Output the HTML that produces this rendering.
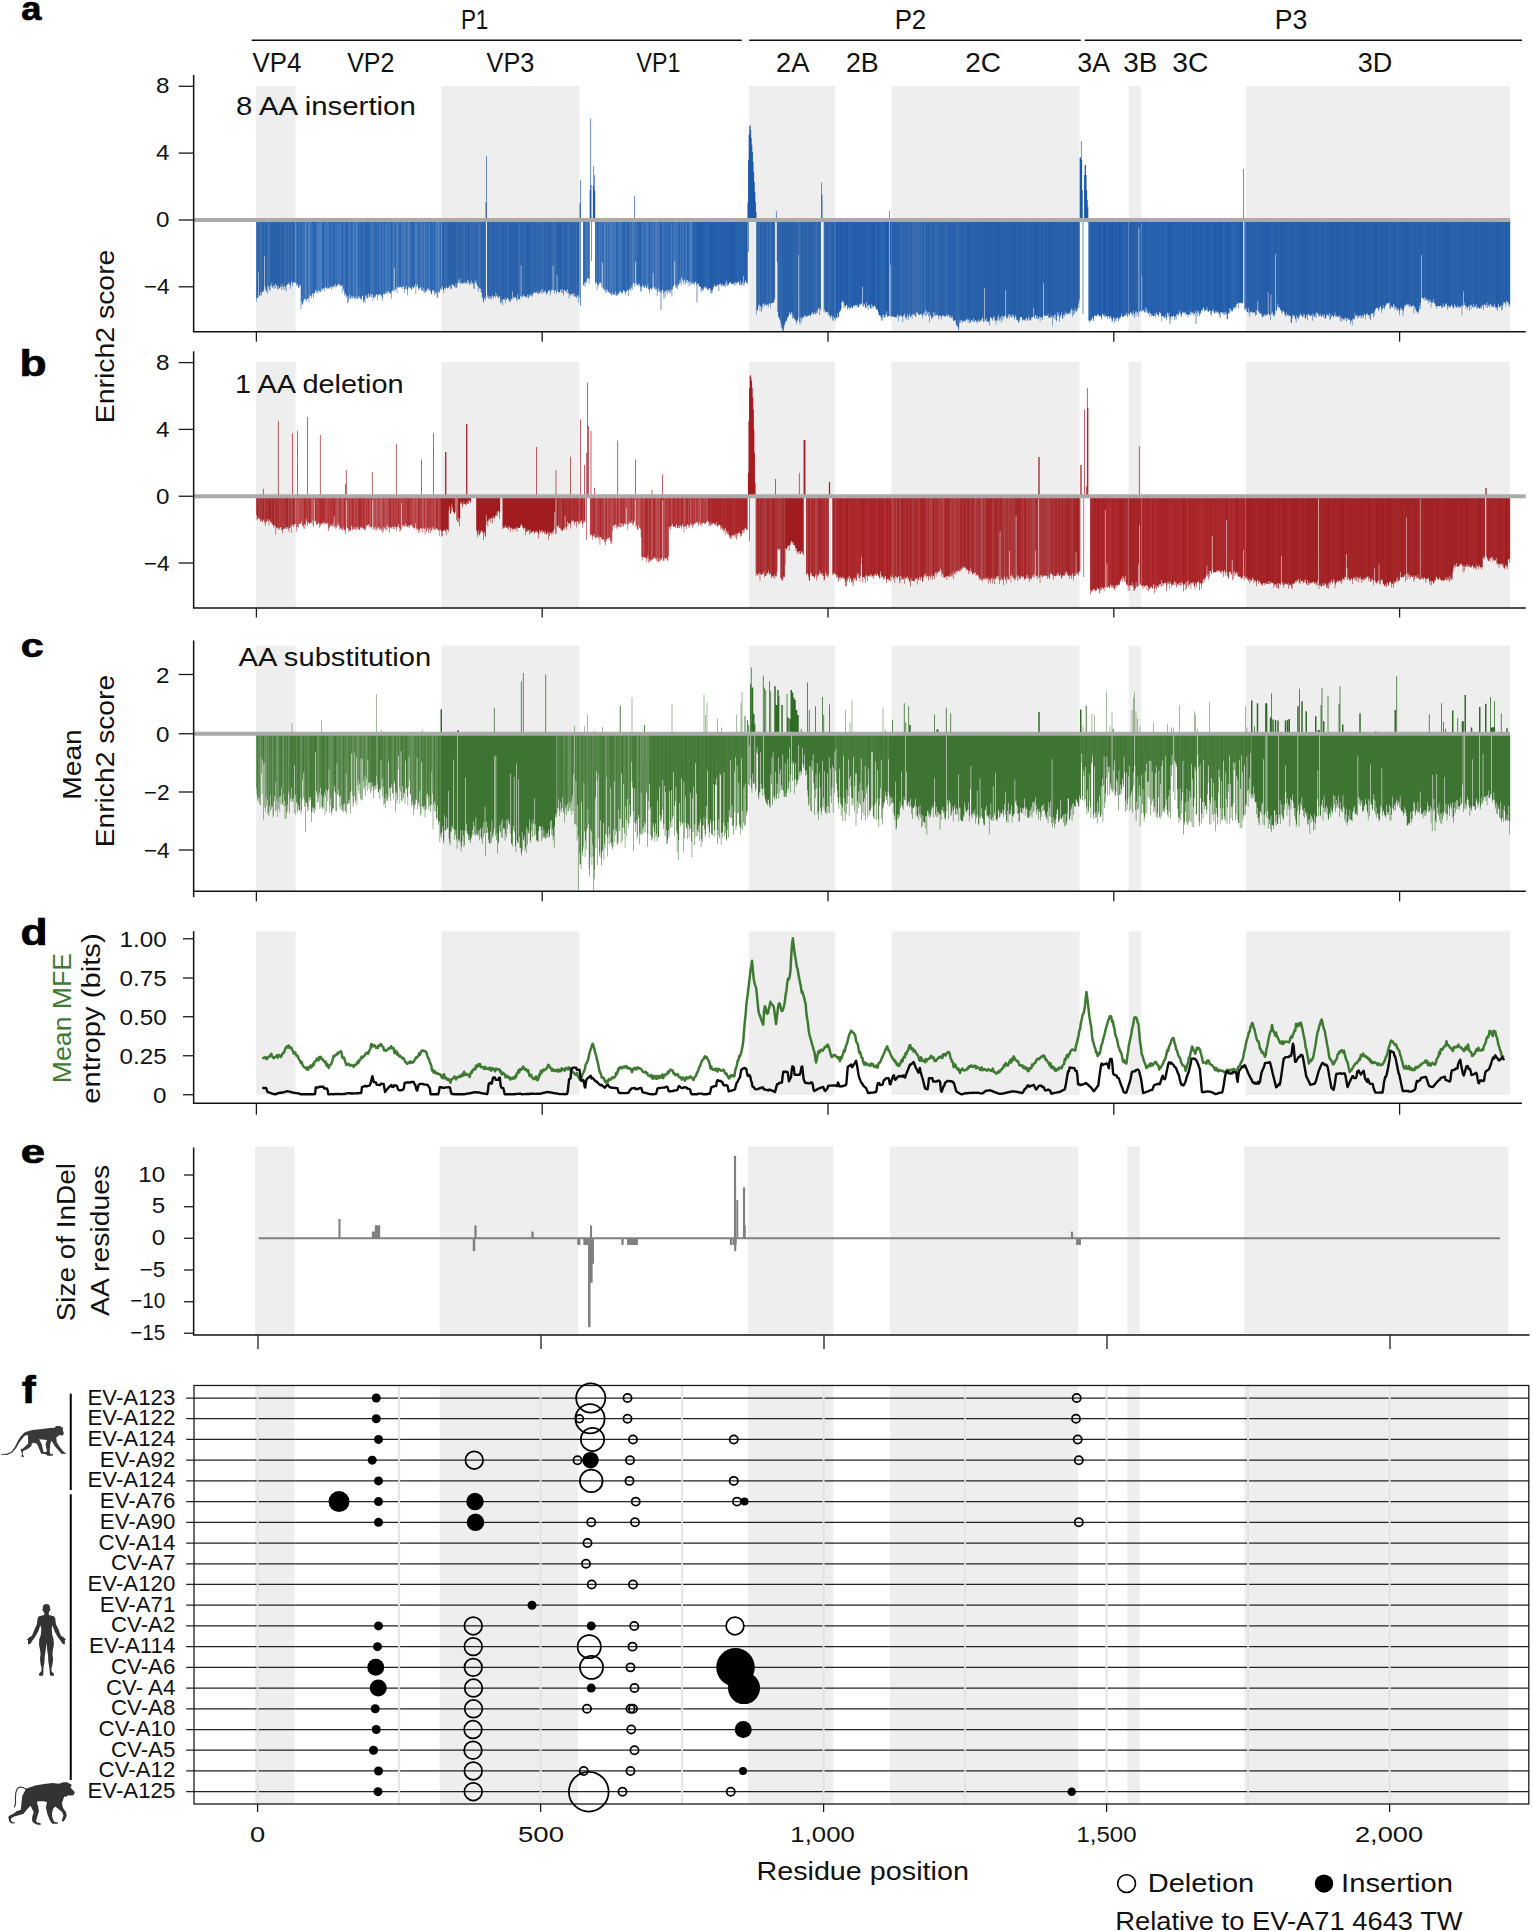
<!DOCTYPE html>
<html lang="en"><head><meta charset="utf-8"><title>Figure</title>
<style>html,body{margin:0;padding:0;background:#fff}svg{display:block}</style></head>
<body>
<svg width="1532" height="1931" viewBox="0 0 1532 1931" font-family="'Liberation Sans', Arial, sans-serif">
<rect width="1532" height="1931" fill="#fff"/>
<line x1="251.7" y1="40.3" x2="741.7" y2="40.3" stroke="#111" stroke-width="1.4" />
<line x1="749.2" y1="40.3" x2="1080.7" y2="40.3" stroke="#111" stroke-width="1.4" />
<line x1="1084.8" y1="40.3" x2="1522" y2="40.3" stroke="#111" stroke-width="1.4" />
<text x="460.9" y="29.3" font-size="27.2" text-anchor="start" fill="#111" textLength="27.48" lengthAdjust="spacingAndGlyphs" >P1</text>
<text x="894.63" y="29.3" font-size="27.2" text-anchor="start" fill="#111" textLength="31.61" lengthAdjust="spacingAndGlyphs" >P2</text>
<text x="1274.87" y="29.3" font-size="27.2" text-anchor="start" fill="#111" textLength="32.58" lengthAdjust="spacingAndGlyphs" >P3</text>
<text x="252.57" y="71.7" font-size="27.2" text-anchor="start" fill="#111" textLength="48.78" lengthAdjust="spacingAndGlyphs" >VP4</text>
<text x="347.18" y="71.7" font-size="27.2" text-anchor="start" fill="#111" textLength="47.26" lengthAdjust="spacingAndGlyphs" >VP2</text>
<text x="486.57" y="71.7" font-size="27.2" text-anchor="start" fill="#111" textLength="47.74" lengthAdjust="spacingAndGlyphs" >VP3</text>
<text x="636.58" y="71.7" font-size="27.2" text-anchor="start" fill="#111" textLength="43.76" lengthAdjust="spacingAndGlyphs" >VP1</text>
<text x="775.93" y="71.7" font-size="27.2" text-anchor="start" fill="#111" textLength="33.46" lengthAdjust="spacingAndGlyphs" >2A</text>
<text x="845.96" y="71.7" font-size="27.2" text-anchor="start" fill="#111" textLength="32.76" lengthAdjust="spacingAndGlyphs" >2B</text>
<text x="965.3" y="71.7" font-size="27.2" text-anchor="start" fill="#111" textLength="35.77" lengthAdjust="spacingAndGlyphs" >2C</text>
<text x="1077.36" y="71.7" font-size="27.2" text-anchor="start" fill="#111" textLength="32.72" lengthAdjust="spacingAndGlyphs" >3A</text>
<text x="1123.32" y="71.7" font-size="27.2" text-anchor="start" fill="#111" textLength="34.16" lengthAdjust="spacingAndGlyphs" >3B</text>
<text x="1172.31" y="71.7" font-size="27.2" text-anchor="start" fill="#111" textLength="36.07" lengthAdjust="spacingAndGlyphs" >3C</text>
<text x="1357.75" y="71.7" font-size="27.2" text-anchor="start" fill="#111" textLength="34.55" lengthAdjust="spacingAndGlyphs" >3D</text>
<text x="21.21" y="20.4" font-size="33.5" text-anchor="start" fill="#000" textLength="20.17" lengthAdjust="spacingAndGlyphs" font-weight="bold" stroke="#000" stroke-width="0.7">a</text>
<text x="19.42" y="376" font-size="36" text-anchor="start" fill="#000" textLength="27.1" lengthAdjust="spacingAndGlyphs" font-weight="bold" stroke="#000" stroke-width="0.7">b</text>
<text x="20.86" y="657.4" font-size="33" text-anchor="start" fill="#000" textLength="22.92" lengthAdjust="spacingAndGlyphs" font-weight="bold" stroke="#000" stroke-width="0.7">c</text>
<text x="20.53" y="945" font-size="36" text-anchor="start" fill="#000" textLength="27.1" lengthAdjust="spacingAndGlyphs" font-weight="bold" stroke="#000" stroke-width="0.7">d</text>
<text x="20.77" y="1162.6" font-size="33.5" text-anchor="start" fill="#000" textLength="24.29" lengthAdjust="spacingAndGlyphs" font-weight="bold" stroke="#000" stroke-width="0.7">e</text>
<text x="21.67" y="1402.5" font-size="39.5" text-anchor="start" fill="#000" textLength="13.95" lengthAdjust="spacingAndGlyphs" font-weight="bold" stroke="#000" stroke-width="0.7">f</text>
<rect x="256.1" y="86" width="39.54" height="245.7" fill="#eeeeee"/>
<rect x="441.6" y="86" width="137.76" height="245.7" fill="#eeeeee"/>
<rect x="749.12" y="86" width="85.74" height="245.7" fill="#eeeeee"/>
<rect x="891.45" y="86" width="188.06" height="245.7" fill="#eeeeee"/>
<rect x="1128.66" y="86" width="12.58" height="245.7" fill="#eeeeee"/>
<rect x="1245.84" y="86" width="264.08" height="245.7" fill="#eeeeee"/>
<path d="M295.55 220V282.2H296.13V286.3H296.7V283.7H297.27V284.4H297.84V286.9H298.41V288.1H298.98V287.4H299.56V284.9H300.13V285.2H300.7V309.2H301.27V301.5H301.84V304.8H302.41V304.3H302.99V302.3H303.56V299.5H304.7V298.6H305.27V299H305.84V301.2H306.41V300.7H306.99V298.9H307.56V298.5H308.13V298.2H308.7V302.6H309.27V296.4H309.84V295H310.42V295.7H310.99V298.4H311.56V295.9H312.13V293.7H312.7V293H313.27V297.9H313.85V293.3H314.42V292.9H314.99V289.8H315.56V292.1H316.13V290.6H316.7V293.6H317.28V291.2H317.85V293.2H318.42V290.2H318.99V290.7H319.56V291.4H320.13V292.2H320.7V291.6H321.28V288.6H321.85V290.3H322.42V289.4H322.99V288.6H323.56V288H324.13V291H324.71V287.5H325.28V286.8H325.85V288.7H326.42V287.9H326.99V287.5H327.56V289H328.14V288.5H328.71V287.8H329.28V288.5H329.85V287.6H330.42V286.4H330.99V290H331.57V286.4H332.14V287.6H332.71V285.7H333.28V286.9H333.85V287.4H334.42V285.5H335V284.3H335.57V287.4H336.14V285.8H336.71V287.3H337.28V285.5H337.85V284H338.42V283.8H339V285H339.57V285.4H340.14V285.2H340.71V286.7H341.28V285.1H341.85V293.2H342.43V285.5H343V289H343.57V290.7H344.14V295.7H344.71V292.8H345.28V294.6H345.86V295.5H346.43V297.8H347V302.9H347.57V296H348.14V302.5H348.71V299.8H349.28V294.8H349.86V297.7H350.43V298.7H351V295.8H351.57V298.3H352.14V298.5H352.71V296.3H353.29V296.5H353.86V298.3H354.43V297.9H355V299.4H355.57V296.3H356.14V297.6H356.72V298.9H357.29V298.4H357.86V295.6H358.43V298.6H359V296.7H359.57V298.1H360.15V298.5H360.72V300.3H361.29V298.9H361.86V295.7H362.43V296.3H363V302.4H363.57V301.5H364.15V299.7H364.72V303.2H365.29V296H365.86V298.5H366.43V294.9H367V297.4H367.58V299H368.15V293.2H368.72V296.7H369.29V296.9H369.86V296.2H370.43V293.7H371.01V297.7H371.58V294.2H372.15V294.6H372.72V301.3H373.29V297.6H373.86V296.8H374.44V297.7H375.01V295.5H375.58V297.3H376.15V293.9H376.72V294.9H377.29V300.2H377.86V294.3H378.44V295.8H379.01V294.4H379.58V294.6H380.15V295.2H380.72V294.6H381.29V295.7H381.87V301.1H382.44V297.9H383.01V294.3H383.58V293.6H384.15V294.7H384.72V292.8H385.3V293.9H385.87V291.1H386.44V294.1H387.01V293.2H387.58V291.5H388.15V291.2H388.73V293.8H389.3V292.3H389.87V292.9H390.44V293.7H391.01V298.8H391.58V291.1H392.15V290.3H392.73V291.4H393.3V290.1H393.87V268.1H394.44V291.6H395.01V289.3H395.58V290.1H396.16V286.9H396.73V293.1H397.3V287.8H397.87V288.2H398.44V286.2H399.01V287.2H399.59V286.9H400.16V286.7H400.73V287.6H401.3V287.3H401.87V289.1H402.44V286.7H403.02V285.7H403.59V287.3H404.16V292.9H404.73V289.5H405.3V288.9H405.87V285.4H406.44V288.7H407.02V295.2H407.59V289.9H408.16V286.9H408.73V288.2H409.3V286.7H409.87V288.5H410.45V287.8H411.02V289.5H411.59V289.7H412.16V286.2H412.73V288.1H413.3V288.6H413.88V286.4H414.45V287H415.02V284H415.59V294.1H416.16V286.9H416.73V284.4H417.31V285.3H417.88V288H418.45V290.2H419.02V288.6H419.59V289.6H420.16V287.4H420.74V287H421.31V290.7H421.88V290.5H422.45V289.9H423.02V291.8H423.59V287.8H424.16V293.3H424.74V291H425.31V292.3H425.88V289.9H426.45V292.1H427.02V288.5H427.59V290.1H428.17V289.6H428.74V287.9H429.31V290.6H429.88V292H430.45V290.5H431.02V294.4H431.6V293.7H432.17V290.2H432.74V290.1H433.31V291.6H433.88V290.7H434.45V295.2H435.02V293.7H435.6V292.5H436.17V292.8H436.74V298.3H437.31V297.2H437.88V291.4H438.45V292.4H439.03V292.9H439.6V291.3H440.17V288.9H440.74V287.7H441.31V220ZM583.07 220V284.9H583.64V286.1H584.21V282.4H584.78V286.5H585.36V282.3H585.93V282.7H586.5V280.4H587.07V278.4H587.64V278.8H588.21V277.7H588.79V284H589.36V279H589.93V220ZM595.07 220V284.3H595.64V282.2H596.22V281.9H596.79V290H597.36V284.4H597.93V286.7H598.5V283.8H599.07V284.1H599.65V282.6H600.22V282.5H600.79V283.3H601.36V286.7H601.93V262.6H602.5V288.6H603.08V289.5H603.65V287.5H604.22V290.8H604.79V289.3H605.36V292.9H605.93V289.8H606.5V292H607.08V289.5H607.65V292.4H608.22V291.5H608.79V292H609.36V293.6H609.93V293.5H610.51V293.4H611.08V294.6H611.65V295.5H612.22V292.3H612.79V294.8H613.36V294.5H613.94V294.6H614.51V294.2H615.08V291.5H615.65V295.8H616.79V293.4H617.37V295.4H617.94V293.5H618.51V294.7H619.08V291.8H619.65V292.3H620.22V290.9H620.79V292.5H621.37V293.8H621.94V292.5H622.51V293.2H623.08V290.1H623.65V290.4H624.22V291.2H624.8V292.8H625.37V295.2H625.94V290.9H626.51V292H627.08V290.3H627.65V290H628.23V296.3H628.8V288.7H629.37V289.4H629.94V291.1H630.51V288.2H631.08V288.5H631.66V285.9H632.23V289.4H632.8V282.4H633.37V283.4H633.94V283.3H634.51V286.9H635.08V262H635.66V284.4H636.23V283.3H636.8V285.3H637.37V285.1H637.94V286.6H638.51V283.4H639.09V284H639.66V286.3H640.23V291.6H640.8V286.8H641.37V291.6H641.94V284.7H642.52V287H643.09V285.5H643.66V287.4H644.23V288.1H644.8V286.6H645.37V285.6H645.95V288.8H646.52V288.1H647.09V286.7H647.66V284.1H648.23V289.1H648.8V290.2H649.37V293.6H649.95V288.3H650.52V288.7H651.09V288.8H651.66V290.4H652.23V287.4H652.8V273H653.38V287.4H653.95V289H654.52V286.7H655.09V289.7H655.66V288.4H656.23V289.2H656.81V296H657.38V291.4H657.95V287.3H658.52V291.6H659.09V291.8H659.66V290.1H660.24V292.6H660.81V290.8H661.38V292.5H661.95V289.7H663.09V293.2H663.66V299H664.24V291.6H664.81V297.3H665.38V291.2H665.95V289.9H666.52V292H667.09V294.7H667.67V289.8H668.24V291.7H668.81V289.7H669.38V292.7H669.95V293.5H670.52V289.4H671.1V290.2H671.67V296.5H672.24V289.2H672.81V286.5H673.38V286H673.95V284.4H674.53V261.6H675.1V285.6H675.67V288H676.24V287.5H676.81V284.7H677.38V289.2H677.96V285.7H678.53V284H679.1V283.7H679.67V279.6H680.24V282.7H680.81V285.4H681.38V277H681.96V279.6H682.53V281.3H683.1V284.1H683.67V280.5H684.24V279.2H684.81V284.7H685.39V282H685.96V283H686.53V279.8H687.1V279.9H687.67V283.7H688.24V281.5H688.82V286.7H689.39V281.5H689.96V284.7H690.53V281.7H691.1V284H691.67V283.6H692.25V283.4H692.82V281.6H693.39V283.9H693.96V285.1H694.53V282.8H695.1V282.1H695.67V281.5H696.25V285.4H696.82V282.9H697.39V284H697.96V284.9H698.53V283.3H699.1V286.8H699.68V286.7H700.25V286.4H700.82V292H701.39V289.1H701.96V288.4H702.53V290.7H703.11V289.9H703.68V287.4H704.82V286H705.39V288.7H705.96V287.5H706.53V288.5H707.11V289.7H707.68V288.7H708.25V290.2H708.82V289.4H709.39V288.1H709.96V288.2H710.54V293.2H711.11V290.6H711.68V293.7H712.25V290.4H712.82V288.7H713.39V287.1H713.97V285.8H714.54V284.2H715.11V287H715.68V286.7H716.25V286.1H716.82V284.9H717.4V285.8H717.97V284.5H718.54V291.1H719.11V284.2H719.68V283.8H720.25V283.4H720.82V286.4H721.4V284.8H721.97V283.4H722.54V285.8H723.11V285.6H723.68V286H724.25V284.4H724.83V287.2H725.4V282.8H725.97V285.2H726.54V280.6H727.11V285.9H727.68V283.2H728.26V285.3H728.83V283.7H729.4V282.5H729.97V281.9H730.54V282.7H731.11V284.1H731.69V284.3H732.26V284.1H732.83V283.1H733.4V283.7H733.97V285.4H734.54V281.7H735.11V282.7H735.69V285H736.26V283.2H736.83V281.7H737.4V283.1H737.97V281.2H738.54V282.3H739.12V284.5H739.69V285.2H740.26V280.2H740.83V283.8H741.4V285.7H741.97V281.9H742.55V284.7H743.12V276.1H743.69V285.9H744.26V283H744.83V282.3H745.4V279.8H745.98V282.8H746.55V282.2H747.12V284H747.69V220ZM835.14 220V320.8H835.72V316.9H836.29V317.8H836.86V318.3H837.43V313.1H838V317.6H838.57V316.1H839.15V312.3H839.72V310.9H840.29V310.5H840.86V308.6H841.43V302.3H842V302.4H842.58V300.8H843.15V302H843.72V308.6H844.29V304.8H844.86V306.4H846.01V305.1H846.58V304.8H847.15V309.4H847.72V307.6H848.29V308H848.86V306.4H849.43V309.5H850.01V307.8H850.58V308H851.15V306.4H851.72V308H852.29V308.3H852.86V305.8H853.44V306H854.01V306.8H854.58V305.1H855.15V305H855.72V305.7H856.29V304.9H856.87V307.3H857.44V304.8H858.01V306.9H858.58V307.4H859.15V304.1H859.72V305.4H860.3V304.5H860.87V303H861.44V303.9H862.01V287H862.58V305.5H863.15V306.8H863.73V303.6H864.3V304.6H864.87V308.2H865.44V307.5H866.01V302.2H866.58V307.8H867.15V305.7H867.73V310.1H868.3V304.8H868.87V304.6H869.44V306.3H870.01V308.3H870.58V308.7H871.16V304H871.73V308.6H872.3V305.5H872.87V306.7H873.44V306.6H874.01V305.5H874.59V306.2H875.16V307.1H875.73V308.5H876.3V309.8H876.87V310.2H877.44V309.3H878.01V312.3H878.59V315H879.16V315.5H880.3V316.6H880.87V320.6H881.44V317.9H882.02V320.8H882.59V315H883.16V314.7H883.73V317.3H884.3V317.8H884.87V317.1H885.45V314.3H886.02V315.1H886.59V311.2H887.16V316.9H887.73V316.2H889.45V220ZM890.02 220V316.1H890.59V265H891.16V220ZM1088.36 220V320.6H1088.94V322.8H1089.51V320.2H1090.08V321H1090.65V320.4H1091.22V320.2H1091.79V318.3H1092.37V316.8H1092.94V321H1093.51V319H1094.08V315.7H1094.65V314.9H1095.22V316H1095.79V315.9H1096.37V316.4H1096.94V314.7H1097.51V314.1H1098.08V314.8H1098.65V315.7H1099.22V316.6H1099.8V315.4H1100.37V315.9H1100.94V317.6H1101.51V319.7H1102.08V313.8H1102.65V315H1103.23V315.7H1103.8V313.2H1104.37V317.1H1104.94V315.2H1105.51V317H1106.08V316.5H1106.66V315.9H1107.23V319H1107.8V316.1H1108.37V316H1108.94V317.6H1109.51V318.6H1110.08V317.2H1110.66V315.8H1111.23V318.7H1111.8V322.1H1112.37V320.8H1112.94V317.3H1113.51V318.4H1114.09V322.7H1114.66V317H1115.23V319.3H1115.8V321H1116.37V318H1116.94V318.2H1117.52V317.4H1118.09V321H1118.66V317.7H1119.23V319.2H1119.8V316.7H1120.37V317.7H1120.95V316.1H1121.52V313.5H1122.09V316.8H1122.66V317H1123.23V316.7H1123.8V316.1H1124.37V315.5H1124.95V314.5H1125.52V315.7H1126.09V312.8H1126.66V315.7H1127.23V317.3H1127.8V313H1128.38V220ZM1141.52 220V275.8H1142.09V310.6H1142.67V310.8H1143.24V309.9H1143.81V311.5H1144.38V312.6H1144.95V307.2H1145.52V312.5H1146.1V311.3H1146.67V309.1H1147.24V312.9H1147.81V312.7H1148.38V314.1H1148.95V311.4H1149.53V317H1150.1V313.8H1150.67V313.5H1151.24V316.4H1151.81V315H1152.38V315.4H1152.95V315.9H1153.53V316.3H1154.1V316.1H1154.67V313H1155.24V317.4H1155.81V314.8H1156.38V312.4H1156.96V314.2H1157.53V315H1158.1V317H1158.67V315.1H1159.24V312H1159.81V313H1160.39V313.3H1160.96V316H1161.53V321.5H1162.1V316.3H1162.67V316H1163.24V316.5H1163.82V318H1164.39V317.8H1164.96V314.7H1165.53V318.1H1166.1V320.2H1166.67V317.2H1167.24V312.8H1167.82V313.1H1168.39V316.2H1168.96V312.7H1169.53V317.9H1170.1V316.4H1170.67V320.1H1171.25V315.9H1171.82V316.2H1172.39V316.9H1172.96V315.3H1173.53V315.8H1174.1V320.1H1174.68V317H1175.25V316.2H1175.82V319.5H1176.39V314.3H1176.96V315.3H1177.53V313.9H1178.11V315.8H1178.68V313H1179.25V310.7H1179.82V313.1H1180.39V314.4H1180.96V316.9H1181.53V314.7H1182.11V311.8H1182.68V313.3H1183.25V312.2H1183.82V313.4H1184.39V312.7H1184.96V311.7H1185.54V315.1H1186.11V314.4H1186.68V313.9H1187.25V314.8H1187.82V317.5H1188.39V314.5H1188.97V313.7H1189.54V315H1190.11V311.3H1190.68V315H1191.25V312.3H1192.39V313.3H1192.97V315.4H1193.54V311.5H1194.11V313.9H1194.68V313.4H1195.25V310.5H1195.82V314H1196.4V311.8H1196.97V310.5H1197.54V316.5H1198.11V311.3H1198.68V313.2H1199.25V316.3H1199.83V314.6H1200.4V312.7H1200.97V310.6H1201.54V310.1H1202.11V311.2H1202.68V308H1203.26V307.7H1203.83V309.4H1204.4V311.4H1204.97V310.5H1205.54V310.3H1206.11V309.9H1206.68V307.2H1207.26V310.2H1207.83V312.1H1208.4V311.5H1208.97V310.7H1209.54V310.4H1210.11V314.2H1210.69V311.1H1211.26V315.7H1211.83V311.5H1212.4V310.3H1212.97V309.3H1213.54V312H1214.12V313.5H1214.69V313.3H1215.26V311.1H1215.83V312.6H1216.4V311.3H1216.97V312.8H1217.55V311.4H1218.12V312.3H1218.69V315.4H1219.26V313.7H1219.83V318H1220.4V311.9H1220.98V312H1221.55V312.8H1222.12V313.6H1222.69V312.2H1223.26V314.4H1223.83V312H1224.4V314.8H1224.98V314.4H1225.55V311.4H1226.12V314.1H1226.69V318.9H1227.26V319.2H1227.83V312.6H1228.41V313.7H1228.98V313.6H1229.55V308.2H1230.12V308.8H1230.69V311.5H1231.26V310.8H1231.84V311.8H1232.41V310.4H1232.98V307.4H1233.55V309.3H1234.12V307.3H1234.69V309.2H1235.27V306.7H1235.84V307.6H1236.41V304.2H1236.98V304.1H1237.55V302.1H1238.12V308.4H1238.69V303.3H1239.27V303H1239.84V302.7H1240.41V303.1H1240.98V302.6H1241.55V304.1H1242.12V303.1H1242.7V302.7H1243.27V220ZM1244.41 220V309.4H1244.98V308.3H1245.55V220Z" fill="#2a65b1"/>
<path d="M256.11 220V301.8H256.69V297.9H257.26V297.7H257.83V297.5H258.4V272.2H258.97V295.9H259.54V294.9H260.12V292.1H260.69V296H261.26V294.5H261.83V291.5H262.4V291.9H263.54V290H264.12V256.1H264.69V286.8H265.26V289.3H265.83V291.9H266.4V291.1H266.97V285H267.55V294H268.12V287.2H268.69V286.2H269.26V289.9H269.83V290.8H270.4V284.9H270.98V286.5H271.55V283.1H272.12V288.2H272.69V286.3H273.26V286H273.83V288.7H274.41V284.8H274.98V288.1H275.55V283.4H276.12V285.7H276.69V285.3H277.26V289.2H277.83V289.3H278.41V286.1H278.98V287.9H279.55V288.7H280.12V286.9H280.69V285.5H281.26V289.7H281.84V283.8H282.41V286.9H282.98V289.7H283.55V286.7H284.12V285.4H284.69V289.4H285.27V286.5H285.84V291.4H286.41V285.6H286.98V284.5H287.55V284.1H288.12V282.4H288.7V284.7H289.27V283.5H289.84V285.3H290.41V288.9H290.98V280.8H291.55V283.3H292.12V286H292.7V282.9H293.27V282.3H293.84V282.1H294.41V282.2H294.98V283.2H295.55V220ZM441.31 220V290.1H441.88V288.6H442.46V286H443.03V290.3H443.6V293.3H444.17V288.1H444.74V288.4H445.31V289H445.89V287.7H446.46V286.3H447.03V288.6H447.6V288H448.17V288.1H448.74V285.2H449.31V286.7H449.89V286.3H450.46V289.2H451.03V288.7H451.6V284.1H452.17V285.2H452.74V284.5H453.32V285.2H453.89V286.4H454.46V286.7H455.03V287.8H455.6V283.6H456.17V288.3H456.75V287.2H457.32V283.6H457.89V279.4H458.46V282.4H459.03V282.5H459.6V278.5H460.18V284.2H460.75V282.3H461.32V283.1H461.89V283.2H462.46V284H463.03V282.5H463.6V283.7H464.18V282.3H464.75V282.4H465.32V283.3H465.89V283.9H466.46V281.9H467.03V279.6H467.61V283.7H468.18V280.4H468.75V282.9H469.32V285.3H469.89V282.8H470.46V283.4H471.04V280.5H471.61V284.7H472.18V282.7H472.75V283.5H473.32V288.5H473.89V282.9H474.47V289H475.04V282.5H475.61V279.5H476.18V282.7H476.75V285H477.32V285.9H477.89V291.8H478.47V287.1H479.04V288H479.61V289H480.18V288.6H480.75V292.2H481.32V292.6H481.9V298.8H482.47V296.8H483.04V302.8H483.61V301.5H484.18V298.6H484.75V296.9H485.33V299.9H485.9V220ZM487.04 220V297.4H487.61V295H488.18V299H488.76V296.2H489.33V298.1H489.9V296.6H490.47V299.2H491.04V299.4H491.61V296H492.18V294.9H492.76V296.9H493.33V298.2H493.9V296.3H494.47V296.1H495.04V297.7H495.61V292.3H496.19V295.9H496.76V295.1H497.33V297.8H497.9V296.2H498.47V298H499.04V297.4H499.62V296.1H500.19V302.7H500.76V303.4H501.33V300.9H501.9V299.1H502.47V305.3H503.05V299H503.62V300.2H504.19V299.7H504.76V297.6H505.33V303.3H505.9V299.6H506.47V299.2H507.05V298H507.62V297.7H508.19V299.7H508.76V301.4H509.33V301.2H509.9V298.8H510.48V302.2H511.05V299.7H511.62V299.1H512.19V291.5H512.76V299.5H513.33V297H513.91V296.8H514.48V298.1H515.05V297.2H515.62V297.4H516.19V299.2H516.76V301.4H517.34V294.3H517.91V298.5H518.48V299.6H519.05V299.4H519.62V299H520.19V296H520.76V265H521.34V296.6H521.91V297.5H522.48V296.2H523.05V294.7H523.62V296.3H524.19V296.1H524.77V297.3H525.34V296.8H525.91V296.2H526.48V297.6H527.05V294.6H527.62V297.5H528.2V298.2H528.77V294.6H529.34V296.4H529.91V293.7H530.48V296.3H531.05V296.2H531.63V294.4H532.2V296.4H532.77V294H533.34V292.8H533.91V292.1H534.48V292.8H535.05V292.3H535.63V293.4H536.2V291.5H536.77V293H537.34V293.1H537.91V294.5H538.48V291.4H539.06V293.2H539.63V293.8H540.2V291.7H540.77V289.6H541.34V292.1H541.91V294.1H542.49V289H543.06V292.5H543.63V291.9H544.2V290.9H544.77V292.8H545.34V290.5H545.92V293H546.49V295.1H547.06V293.3H547.63V292H548.2V290.4H548.77V290.6H549.34V290.1H549.92V295.3H550.49V292.2H551.06V290.6H551.63V289.6H552.2V290.2H552.77V265.8H553.35V289.9H553.92V293.8H554.49V290.2H555.63V291.5H556.2V293.5H556.78V274.7H557.35V290.8H557.92V292.1H558.49V291.7H559.06V292.7H559.63V292H560.21V289.7H560.78V289.6H561.35V293.1H561.92V289H562.49V293H563.06V295.5H563.63V289.8H564.21V290.6H564.78V290.5H565.35V291.5H565.92V293H566.49V289.8H567.06V289.6H567.64V293.6H568.21V292.7H568.78V298.4H569.35V294.3H569.92V293.8H570.49V295.7H571.07V293.8H571.64V295.3H572.21V293.8H572.78V293.2H573.35V296.2H573.92V296.7H574.5V293.2H575.07V296.3H575.64V297H576.21V298.2H576.78V295.6H577.35V296.6H577.92V294.8H578.5V302.6H579.07V297.7H579.64V220ZM756.26 220V314.5H756.84V310.1H757.41V310.2H757.98V307.3H758.55V304.6H759.12V304.8H759.69V311H760.27V306.5H760.84V306.2H761.41V312.3H761.98V308.5H762.55V303.9H763.12V304.7H763.7V302.9H764.27V306.2H764.84V305H765.41V304.3H765.98V304.5H766.55V306.5H767.12V304.7H767.7V304.4H768.27V306.7H768.84V303.6H769.41V303.3H769.98V308.3H770.55V303.7H771.13V303H772.27V302.9H772.84V303.1H773.41V302.5H773.98V300.8H774.56V298.6H775.13V220ZM776.84 220V262H777.41V311.9H777.99V317.2H778.56V316H779.13V318.9H779.7V319.5H780.27V322.6H780.84V328.2H781.41V325.6H781.99V329.2H782.56V331.2H783.7V327.2H784.27V325H784.84V323.3H785.42V321.3H786.56V320.6H787.13V318.1H787.7V316.9H788.27V315.9H788.85V314.2H789.42V311.7H789.99V314.6H790.56V314.5H791.13V312.2H791.7V312.8H792.27V318.7H792.85V315.8H793.42V318H793.99V318.4H794.56V319.2H795.13V320.5H795.7V321H796.28V324.3H796.85V321.4H797.42V320.3H797.99V317.8H798.56V255H799.13V322.1H799.71V324.6H800.28V317.8H800.85V322.7H801.42V318H801.99V316.8H802.56V319.3H803.14V317.3H803.71V317.2H804.28V315.3H804.85V316.3H805.42V315.8H805.99V316.4H806.56V316.9H807.14V316.6H807.71V315H808.28V315.8H808.85V315.6H809.42V315.3H810.57V316.4H811.14V313.1H811.71V314H812.28V312H812.85V314.4H813.42V314.2H814V312H814.57V313.5H815.14V314.3H815.71V313.5H816.28V312.6H816.85V309.9H817.43V313.2H818V308H818.57V308.7H819.14V315.1H819.71V308.2H820.28V310.3H820.86V220ZM823.71 220V311.5H824.28V309.2H824.86V311.6H825.43V312.7H826V311.8H826.57V312.1H827.71V314.9H828.29V312.6H828.86V316.2H829.43V314.8H830V316.8H830.57V318.4H831.14V315.5H831.72V315.7H832.29V320H832.86V320.9H833.43V316.8H834V318H834.57V318.9H835.14V220ZM891.16 220V317.1H891.73V316.5H892.3V316.6H892.88V315.9H893.45V317H894.02V317.3H894.59V317.1H895.16V317.4H895.73V317H896.31V317.6H896.88V314.3H897.45V316.3H898.02V321.3H898.59V315.4H899.16V316.8H899.74V315.1H900.31V315.6H900.88V316.3H901.45V316.5H902.02V316.8H902.59V322.3H903.17V315.2H903.74V315.5H904.31V313.2H904.88V318.5H905.45V316.7H906.02V317.4H906.59V319.9H907.17V314.4H907.74V316.5H908.31V319.4H908.88V316.5H909.45V313.6H910.02V317.1H910.6V316.5H911.17V315.1H911.74V319.1H912.31V313.9H912.88V314.4H913.45V314.7H914.03V314.5H914.6V314.4H915.17V316.5H915.74V316.8H916.31V311.6H916.88V312.7H917.46V312.8H918.03V313.9H918.6V314.9H919.17V315.3H919.74V314.6H920.31V314H920.88V313.5H921.46V315.1H922.03V318.4H922.6V315H923.17V313.2H923.74V315H924.31V312.2H924.89V316.1H925.46V309.5H926.03V315.6H926.6V311.6H927.17V314H927.74V311.5H928.32V316.6H928.89V312.2H929.46V322.6H930.03V315.5H930.6V315.2H931.17V318.6H931.75V319H932.32V316.9H932.89V312.2H933.46V317.3H934.03V315.4H934.6V312.6H935.17V315.9H935.75V315H936.32V314.9H936.89V315.5H937.46V314.5H938.03V316.3H938.6V319.3H939.18V315.8H939.75V314.9H940.32V316H940.89V319.4H941.46V316.7H942.03V314.9H942.61V316.2H943.18V315.1H943.75V316.4H944.32V316.7H944.89V316.2H945.46V316.1H946.04V314.6H946.61V316H947.18V316.9H947.75V314.5H948.32V315.3H948.89V315.7H949.46V317.6H950.04V317.7H950.61V315.5H951.18V317.4H951.75V318.8H952.32V316.3H952.89V321.3H953.47V320.3H954.04V321.3H954.61V319.9H955.18V320.2H955.75V324.6H956.32V325.4H956.9V327.1H957.47V325.6H958.04V330.6H958.61V328.6H959.18V322.9H959.75V320.3H960.33V322.4H960.9V319.7H961.47V320.7H962.04V323.3H962.61V320.4H963.18V321.1H963.75V321.6H964.33V321.1H964.9V321.7H965.47V319.8H966.04V320.2H966.61V319.4H967.18V318.7H967.76V322.5H968.33V319.7H968.9V319.3H969.47V323.5H970.04V322.6H970.61V321.6H971.19V319.9H971.76V320.1H972.33V321.3H972.9V321.8H973.47V318.1H974.04V322.3H974.62V320.7H975.19V320.1H975.76V320.6H976.33V322H976.9V323.6H977.47V321H978.04V321.6H978.62V319.4H979.19V321.4H979.76V321.9H980.33V320.1H980.9V319H981.47V321.1H982.05V317.1H982.62V319H983.19V322.4H983.76V321.2H984.33V288H984.9V319.4H985.48V321H986.05V318.2H986.62V321.9H987.19V320.7H987.76V322.2H988.33V322H988.91V320.6H989.48V325.7H990.05V317.1H990.62V317.5H991.19V318.1H991.76V318.9H992.33V320.8H992.91V316.4H993.48V318.2H994.05V316.6H994.62V320.6H995.19V320.8H995.76V324.2H996.34V320.6H996.91V319.9H997.48V316.7H998.05V315.3H998.62V321.7H999.19V319.6H999.77V316.9H1000.34V319.1H1000.91V322.6H1001.48V315.8H1002.05V316.1H1002.62V320.5H1003.2V316.5H1003.77V317.5H1004.34V315.7H1004.91V315.6H1005.48V290.2H1006.05V317H1006.62V318.5H1007.2V318.6H1007.77V315.9H1008.34V314.6H1008.91V318.6H1009.48V314H1010.05V316.6H1010.63V314.9H1011.2V316.9H1011.77V317.4H1012.34V314.6H1012.91V317.1H1013.48V314.8H1014.06V319.6H1014.63V317.5H1015.2V315.3H1015.77V317H1016.34V320H1016.91V320.2H1017.49V319.6H1018.06V322.7H1018.63V322.3H1019.2V320.4H1019.77V317H1020.34V317.7H1020.91V316.9H1022.06V320.7H1022.63V319.8H1023.2V319.4H1023.77V319.5H1024.34V320.2H1024.92V321H1025.49V318.7H1026.06V318.4H1026.63V317.5H1027.2V320.6H1028.35V316.4H1028.92V318.1H1029.49V320.6H1030.06V319.8H1030.63V320.6H1031.2V317.7H1031.78V317H1032.35V317.4H1032.92V316.2H1033.49V308.1H1034.06V318.5H1034.63V317.6H1035.2V315H1035.78V315.2H1036.35V318.8H1036.92V316.1H1037.49V318.9H1038.06V319.1H1038.63V317.6H1039.21V316.6H1039.78V321.5H1040.35V316.7H1040.92V317.8H1042.06V319.9H1042.64V316.6H1043.21V282.9H1043.78V314.8H1044.35V316.3H1044.92V315.3H1045.49V315.9H1046.07V315.6H1046.64V315.9H1047.21V315.7H1047.78V313.5H1048.35V317.6H1048.92V317.7H1050.07V317.5H1050.64V315.2H1051.21V317.4H1051.78V316H1052.35V326.1H1052.92V316.3H1053.5V317.7H1054.07V313.9H1054.64V319.3H1055.21V314.9H1055.78V319.9H1056.35V321.8H1056.93V315.4H1057.5V311.9H1058.07V316.2H1058.64V313.3H1059.21V321.7H1059.78V317.5H1060.36V315.4H1060.93V315.3H1061.5V312.1H1062.07V317.8H1062.64V318.9H1063.21V315.2H1063.79V314H1064.36V316.3H1064.93V311.6H1065.5V314.9H1066.07V313.3H1066.64V313.4H1067.21V314.6H1067.79V313.6H1068.36V313H1068.93V312.4H1069.5V314.7H1070.07V310.8H1070.64V313.3H1071.22V308.4H1071.79V309.7H1072.36V317H1072.93V310.4H1073.5V314.7H1074.07V313.8H1074.65V307.4H1075.22V310.6H1075.79V312.3H1076.36V311.1H1076.93V309.9H1077.5V307.7H1078.08V303.5H1078.65V307.9H1079.22V299.8H1079.79V220ZM1128.38 220V314H1128.95V316.1H1129.52V313.9H1130.09V312.7H1130.66V312.1H1131.23V313.5H1131.81V312.7H1132.38V315.7H1132.95V310.8H1133.52V314.8H1134.09V317.9H1134.66V313.5H1135.24V311.4H1135.81V316.2H1136.38V311.5H1136.95V313.6H1137.52V311.7H1138.09V316.9H1138.66V227.5H1139.24V312.6H1139.81V311.1H1140.38V310.7H1140.95V312.1H1141.52V220ZM1245.55 220V310.3H1246.13V308.1H1246.7V311.9H1247.27V312.1H1247.84V313.7H1248.41V308H1248.98V311.8H1249.56V316.6H1250.13V312.3H1250.7V311.1H1251.27V311.9H1251.84V313.3H1252.41V312.5H1252.98V312.2H1254.13V312.3H1254.7V313.6H1255.27V316H1255.84V309.9H1256.41V315H1256.99V310.4H1257.56V300.9H1258.13V311.1H1258.7V313H1259.27V312.2H1259.84V313.7H1260.42V313.6H1260.99V313.4H1261.56V316.2H1262.13V317.5H1262.7V316.4H1263.27V316H1263.85V314.3H1264.42V315.6H1264.99V316.1H1265.56V313.7H1266.13V315.7H1266.7V313.9H1267.27V314.9H1267.85V291.7H1268.42V313.7H1268.99V314.9H1269.56V315H1270.13V320.2H1270.7V294.4H1271.28V313.5H1271.85V314.8H1272.42V311.8H1272.99V316.1H1273.56V314.9H1274.13V316.5H1274.71V313.6H1275.28V254H1275.85V310H1276.42V311H1276.99V307.1H1277.56V303.8H1278.14V307.7H1278.71V306.7H1279.28V307.8H1279.85V309.2H1280.42V309.9H1280.99V310.7H1281.56V313.8H1282.14V312.2H1282.71V311.2H1283.28V310.6H1283.85V312H1284.42V314.2H1284.99V315H1285.57V316.9H1286.14V312.3H1286.71V315.4H1287.28V314.9H1287.85V314.5H1288.42V315.7H1289.57V315.9H1290.14V315.7H1290.71V322.6H1291.28V323.3H1291.85V318.3H1292.43V315.2H1293V315H1293.57V316.2H1294.14V315.2H1294.71V318.2H1295.28V319.5H1295.85V322.3H1296.43V315.5H1297V317.4H1297.57V318.1H1298.14V319.5H1298.71V315.8H1299.28V317.1H1299.86V313.4H1300.43V314.7H1301V315.3H1301.57V315.6H1302.14V316.7H1302.71V317H1303.29V313.7H1303.86V317.1H1304.43V314.1H1305V318.3H1305.57V318.7H1306.14V315.4H1306.72V314.5H1307.29V320.5H1307.86V314.7H1308.43V313.5H1309V315.5H1309.57V315.2H1310.14V316.2H1310.72V315.1H1311.29V315.9H1311.86V313.8H1312.43V320.7H1313V314.1H1313.57V316.4H1314.15V316.5H1314.72V316.7H1315.29V313.5H1315.86V317.7H1316.43V312.3H1317V313H1317.58V313.5H1318.15V314.5H1318.72V316.1H1319.29V316.5H1319.86V313.8H1320.43V315.7H1321.01V316.2H1321.58V317.3H1322.15V315.3H1322.72V314.3H1323.29V316.7H1323.86V317.6H1324.43V314.6H1325.01V318.9H1325.58V318.2H1326.15V315.7H1326.72V313.8H1327.29V315.2H1327.86V315.3H1328.44V316.3H1329.01V313.1H1329.58V319.7H1330.15V319.2H1330.72V314.6H1331.29V317.3H1331.87V315.1H1332.44V315.7H1333.01V317.3H1333.58V316.6H1334.15V315.5H1334.72V312.6H1335.3V316.1H1335.87V317.1H1336.44V315.4H1337.01V316.7H1337.58V316.9H1338.15V316.5H1338.72V315.3H1339.3V318H1339.87V316H1340.44V321H1341.01V317.6H1341.58V321.8H1342.15V318.2H1342.73V319.6H1343.3V319.1H1343.87V320.5H1344.44V318.3H1345.01V317H1345.58V319H1346.16V321.8H1346.73V317.8H1347.3V318.9H1347.87V317.9H1348.44V320.1H1349.01V319.3H1349.59V320H1350.16V323.9H1350.73V320.4H1351.3V320.7H1351.87V325.3H1352.44V319H1353.01V318.1H1353.59V319.7H1354.16V319.3H1354.73V312.7H1355.3V316.2H1355.87V315.8H1356.44V315.3H1357.02V317.9H1357.59V315.5H1358.16V317.5H1358.73V315.5H1359.3V315.7H1359.87V317.7H1360.45V315.3H1361.02V315.8H1361.59V318.8H1362.16V315.1H1362.73V317.6H1363.3V317H1363.88V314.5H1364.45V314.1H1365.02V319.2H1365.59V314.4H1366.16V314H1366.73V315.5H1367.3V313.1H1367.88V315.1H1368.45V315.4H1369.02V315.2H1369.59V318.4H1370.16V320.1H1370.73V313.9H1371.31V313.6H1371.88V314H1372.45V312.9H1373.02V317.5H1373.59V312.3H1374.16V315.6H1374.74V310.5H1375.31V308.9H1375.88V307.9H1376.45V307.8H1377.02V308.8H1377.59V307.7H1378.16V311.3H1378.74V309.8H1379.31V307.5H1379.88V306.4H1380.45V306.2H1381.02V313H1381.59V308.7H1382.17V309.8H1382.74V305H1383.31V308H1383.88V307.6H1384.45V309.6H1385.02V306.1H1385.6V305.4H1386.17V303.3H1386.74V304.2H1387.31V303.3H1388.45V303.2H1389.03V302.3H1389.6V308.6H1390.17V308.9H1390.74V306.7H1391.31V305.7H1391.88V307H1392.45V307.3H1393.03V304H1393.6V308.3H1394.17V305H1394.74V310.1H1395.31V307.3H1395.88V306.9H1396.46V309.5H1397.03V310.8H1397.6V309.2H1398.17V308.2H1398.74V311.3H1399.31V315.2H1399.89V310H1400.46V307.5H1401.03V309.6H1401.6V308.1H1402.17V309.9H1402.74V315.7H1403.32V310.8H1403.89V307.8H1404.46V305.5H1405.03V304.9H1405.6V306.5H1406.17V304.5H1406.74V303.6H1407.32V305.3H1407.89V304.3H1408.46V306.1H1409.03V307.5H1409.6V304.2H1410.17V305.7H1410.75V306.9H1411.32V306.4H1411.89V306H1413.03V304.9H1413.6V313.4H1414.18V306.4H1414.75V307.5H1415.32V309.5H1415.89V311H1416.46V311.5H1417.03V312.1H1417.61V313.4H1418.18V312.4H1418.75V310H1419.32V305.9H1419.89V308.9H1420.46V302.9H1421.03V255H1421.61V297.9H1422.18V297.7H1422.75V298.8H1423.32V298.6H1423.89V301H1424.46V296.9H1425.04V299.6H1425.61V297.7H1426.18V300.3H1426.75V300.2H1427.32V299.5H1427.89V303.6H1428.47V300.3H1429.04V302H1429.61V299H1430.18V301.2H1430.75V307.4H1431.32V302.6H1432.47V302.2H1433.04V299.3H1433.61V303.2H1434.18V302.8H1434.75V303.9H1435.33V305.9H1435.9V308.5H1436.47V306H1437.04V306.4H1437.61V306H1438.18V305.9H1438.75V306.1H1439.33V306.9H1439.9V304.9H1440.47V305.9H1441.04V308.3H1441.61V306.6H1442.18V308.1H1442.76V303.4H1443.33V305.9H1443.9V306.5H1444.47V307.2H1445.04V304.5H1445.61V303.7H1446.19V303.2H1446.76V305.7H1447.33V309.7H1447.9V307.5H1448.47V305.3H1449.04V307.5H1449.62V306.3H1450.19V307.1H1450.76V306H1451.33V304.4H1451.9V305.5H1452.47V307.6H1453.04V308.7H1453.62V307.4H1454.19V303.9H1454.76V307.1H1455.33V305.4H1455.9V307.9H1456.47V307.1H1457.05V305.2H1457.62V308.2H1458.19V306.7H1458.76V307H1459.33V306.9H1459.9V307.7H1460.48V306.5H1461.05V305H1461.62V315.2H1462.19V305.8H1462.76V306.5H1463.33V291.2H1463.91V302.7H1464.48V305H1465.05V305.8H1465.62V307.8H1466.19V306.1H1466.76V309.7H1467.33V307.4H1467.91V307.3H1468.48V305.8H1469.05V310.9H1469.62V305.4H1470.19V305.3H1470.76V309.2H1471.34V304.7H1471.91V306.7H1472.48V307.3H1473.05V303.4H1473.62V308.1H1474.19V306.3H1474.77V307.3H1475.34V306H1475.91V304.2H1476.48V308.7H1477.05V306.9H1477.62V308H1478.2V307.4H1478.77V308.9H1479.34V308.2H1479.91V307.5H1480.48V307.4H1481.05V309H1481.62V304.8H1482.2V306.5H1482.77V305.2H1483.34V310H1483.91V304.9H1484.48V303.8H1485.05V305.2H1485.63V307.8H1486.2V305H1486.77V302.2H1487.34V307.9H1487.91V306.4H1488.48V304.9H1489.06V307.1H1489.63V304.6H1490.2V303.8H1490.77V307.4H1491.34V305H1491.91V306.7H1492.49V306.1H1493.06V307.3H1493.63V306.6H1494.2V303.8H1494.77V307.9H1495.34V306.6H1495.91V308.4H1496.49V307.4H1497.06V310.7H1497.63V306.6H1498.2V304.1H1498.77V306.9H1499.34V307.8H1499.92V306.3H1500.49V305.8H1501.06V310.5H1501.63V305.5H1502.2V309.4H1502.77V305H1503.35V302.2H1503.92V302.3H1504.49V302.7H1505.06V303.6H1505.63V307.1H1506.2V301H1506.78V301.6H1507.35V302.7H1507.92V302.3H1508.49V304.9H1509.06V306.6H1509.63V304H1510.2V220Z" fill="#2961ab"/>
<path d="M295.84 220V282.17M296.41 220V286.33M299.27 220V287.35M302.13 220V304.83M303.84 220V299.5M304.99 220V298.59M305.56 220V299.02M306.13 220V301.23M306.7 220V300.71M308.42 220V298.17M308.99 220V302.58M309.56 220V296.42M310.13 220V294.95M311.85 220V295.89M316.99 220V293.56M317.56 220V291.24M318.7 220V290.21M319.28 220V290.67M319.85 220V291.4M320.42 220V292.24M320.99 220V291.59M321.56 220V288.61M324.99 220V287.52M325.56 220V286.8M327.28 220V287.47M327.85 220V288.96M328.99 220V287.83M331.85 220V286.38M335.85 220V287.38M337.57 220V285.53M338.71 220V283.83M339.85 220V285.42M340.43 220V285.17M343.85 220V290.68M344.43 220V295.68M348.43 220V302.47M349.57 220V294.84M350.71 220V298.74M353 220V296.3M353.57 220V296.52M354.72 220V297.91M355.86 220V296.29M356.43 220V297.55M357 220V298.94M357.57 220V298.38M359.86 220V298.13M363.86 220V301.53M370.72 220V293.65M371.86 220V294.17M373.01 220V301.3M374.15 220V296.76M377.58 220V300.19M379.87 220V294.63M380.44 220V295.15M382.72 220V297.89M383.3 220V294.26M385.58 220V293.88M386.15 220V291.13M387.3 220V293.22M389.01 220V293.78M389.58 220V292.34M393.01 220V291.36M393.58 220V290.13M394.73 220V291.63M396.44 220V286.94M397.01 220V293.08M397.59 220V287.81M398.73 220V286.17M401.59 220V287.34M402.16 220V289.15M403.3 220V285.72M404.44 220V292.85M405.02 220V289.52M406.16 220V285.42M407.87 220V289.87M408.45 220V286.86M409.02 220V288.22M410.16 220V288.47M415.3 220V284.01M415.88 220V294.14M416.45 220V286.88M417.59 220V285.26M419.88 220V289.6M421.02 220V286.96M422.16 220V290.48M422.74 220V289.94M424.45 220V293.3M425.02 220V291.01M426.74 220V292.06M429.02 220V287.93M429.59 220V290.64M433.6 220V291.63M435.88 220V292.52M436.45 220V292.82M437.6 220V297.17M438.17 220V291.43M438.74 220V292.4M439.31 220V292.89M441.03 220V287.69M585.64 220V282.35M586.78 220V280.37M587.36 220V278.37M589.07 220V284.05M589.64 220V279.02M596.5 220V281.91M598.79 220V283.82M599.36 220V284.13M601.07 220V283.28M601.65 220V286.7M603.93 220V287.48M604.5 220V290.81M605.08 220V289.26M605.65 220V292.87M607.36 220V289.52M607.93 220V292.36M609.65 220V293.62M610.22 220V293.5M610.79 220V293.45M611.94 220V295.51M612.51 220V292.25M613.65 220V294.54M614.79 220V294.2M615.36 220V291.51M618.79 220V294.66M619.37 220V291.83M621.08 220V292.5M621.65 220V293.81M626.23 220V290.9M630.23 220V291.06M630.8 220V288.19M632.51 220V289.38M633.08 220V282.42M633.66 220V283.37M634.8 220V286.85M636.51 220V283.33M642.23 220V284.7M642.8 220V287.01M645.09 220V286.61M646.23 220V288.76M647.37 220V286.71M647.95 220V284.08M650.8 220V288.74M652.52 220V287.43M653.66 220V287.41M655.38 220V289.7M655.95 220V288.38M656.52 220V289.19M657.66 220V291.42M658.23 220V287.31M659.38 220V291.77M662.24 220V289.72M663.38 220V293.19M665.09 220V297.28M667.38 220V294.7M670.81 220V289.43M671.38 220V290.21M673.67 220V286.05M674.24 220V284.4M675.38 220V285.65M676.53 220V287.55M677.67 220V289.23M680.53 220V282.67M682.24 220V279.57M683.39 220V284.07M685.67 220V282.01M686.24 220V282.97M689.67 220V281.55M690.24 220V284.74M690.82 220V281.66M691.39 220V284.02M691.96 220V283.58" stroke="#fff" stroke-opacity="0.2" stroke-width="0.6" fill="none"/>
<path d="M693.67 220V283.88M698.25 220V284.94M698.82 220V283.31M699.96 220V286.67M700.53 220V286.43M701.1 220V292M702.82 220V290.69M703.96 220V287.43M710.25 220V288.21M710.82 220V293.2M711.39 220V290.63M711.97 220V293.66M712.54 220V290.38M714.25 220V285.83M714.82 220V284.23M715.97 220V286.75M716.54 220V286.15M718.82 220V291.11M720.54 220V283.38M721.11 220V286.36M722.83 220V285.82M723.4 220V285.62M725.11 220V287.15M725.68 220V282.83M727.4 220V285.91M728.54 220V285.31M729.68 220V282.54M730.26 220V281.9M731.97 220V284.29M732.54 220V284.1M733.11 220V283.08M734.26 220V285.39M734.83 220V281.68M736.54 220V283.24M739.97 220V285.15M741.12 220V283.83M743.97 220V285.94M745.12 220V282.26M746.83 220V282.23M747.4 220V283.99M836 220V316.86M836.57 220V317.77M837.15 220V318.29M837.72 220V313.11M840 220V310.88M840.58 220V310.48M841.15 220V308.6M842.86 220V300.82M843.43 220V301.96M845.15 220V306.39M845.72 220V306.38M846.86 220V304.83M847.43 220V309.41M852.58 220V308.3M854.29 220V306.84M855.44 220V305.02M857.15 220V307.35M858.29 220V306.91M860.58 220V304.49M861.15 220V303.02M863.44 220V306.78M864.58 220V304.64M866.3 220V302.2M868.58 220V304.81M870.3 220V308.3M870.87 220V308.66M872.01 220V308.58M873.16 220V306.65M873.73 220V306.64M877.73 220V309.31M878.3 220V312.35M878.87 220V314.97M885.73 220V314.29M886.87 220V311.19M887.45 220V316.89M888.02 220V316.23M889.16 220V316.18M890.3 220V316.07M890.88 220V265M1092.08 220V318.26M1092.65 220V316.79M1094.37 220V315.68M1096.08 220V315.91M1098.37 220V314.83M1099.51 220V316.61M1100.08 220V315.38M1100.65 220V315.89M1103.51 220V315.65M1104.08 220V313.16M1104.65 220V317.09M1105.23 220V315.19M1108.08 220V316.13M1108.66 220V316.04M1109.8 220V318.58M1110.94 220V315.81M1111.51 220V318.72M1112.09 220V322.07M1112.66 220V320.76M1113.8 220V318.43M1114.37 220V322.68M1115.51 220V319.27M1116.09 220V320.99M1118.37 220V321.01M1118.94 220V317.75M1119.52 220V319.2M1120.66 220V317.72M1121.23 220V316.11M1121.8 220V313.45M1126.38 220V312.81M1126.95 220V315.72M1142.38 220V310.63M1144.09 220V311.5M1145.24 220V307.16M1145.81 220V312.49M1148.67 220V314.11M1150.95 220V313.47M1153.24 220V315.88M1154.38 220V316.1M1157.24 220V314.16M1157.81 220V315.03M1160.1 220V313.02M1162.96 220V316.02M1168.1 220V313.12M1168.67 220V316.17M1169.82 220V317.93M1170.39 220V316.37M1172.1 220V316.2M1172.67 220V316.9M1176.1 220V319.54M1178.39 220V315.85M1181.25 220V316.86M1183.54 220V312.25M1184.68 220V312.67M1185.25 220V311.69M1187.54 220V314.82M1189.82 220V314.96M1192.68 220V313.27M1193.25 220V315.41M1193.82 220V311.49M1197.25 220V310.5M1198.97 220V313.21M1200.68 220V312.67M1201.83 220V310.15M1205.26 220V310.52M1205.83 220V310.26M1206.97 220V307.15M1208.11 220V312.12M1209.26 220V310.73M1211.54 220V315.69M1214.4 220V313.52M1215.54 220V311.12M1216.12 220V312.61M1217.26 220V312.77M1218.4 220V312.33M1219.55 220V313.66M1220.12 220V317.98M1220.69 220V311.9M1221.83 220V312.78M1222.4 220V313.58M1226.41 220V314.09M1227.55 220V319.17M1228.12 220V312.6M1229.26 220V313.58M1230.41 220V308.79M1237.27 220V304.06M1237.84 220V302.14M1238.98 220V303.32M1240.7 220V303.06M1241.27 220V302.58M1242.41 220V303.08M1244.7 220V309.41M1245.27 220V308.31" stroke="#003a90" stroke-opacity="0.24" stroke-width="0.6" fill="none"/>
<path d="M256.4 220V301.77M258.69 220V272.24M260.4 220V292.12M261.54 220V294.53M264.4 220V256.08M267.26 220V285.04M268.4 220V287.15M268.98 220V286.16M269.55 220V289.92M280.41 220V286.9M284.41 220V285.38M284.98 220V289.35M286.69 220V285.64M288.41 220V282.36M290.12 220V285.35M291.84 220V283.29M444.46 220V288.08M445.6 220V289.02M446.74 220V286.33M456.46 220V288.3M458.17 220V279.43M462.18 220V283.23M463.89 220V283.73M464.46 220V282.28M466.75 220V281.91M470.18 220V282.78M470.75 220V283.35M473.04 220V283.5M474.18 220V282.92M477.04 220V284.95M478.75 220V287.13M479.32 220V288.05M479.9 220V288.99M481.04 220V292.17M483.9 220V301.49M490.18 220V296.59M495.9 220V292.34M498.76 220V298.01M501.04 220V303.36M505.05 220V297.63M507.33 220V297.97M508.48 220V299.74M518.76 220V299.62M519.34 220V299.37M521.05 220V265M523.91 220V296.31M525.05 220V297.3M531.34 220V296.18M533.05 220V293.97M534.2 220V292.11M536.48 220V291.52M538.2 220V294.55M539.34 220V293.25M541.63 220V292.06M542.2 220V294.05M543.34 220V292.55M545.63 220V290.51M547.92 220V291.97M551.35 220V290.56M552.49 220V290.23M554.2 220V293.8M554.78 220V290.19M555.35 220V290.21M562.21 220V288.99M563.92 220V289.76M567.35 220V289.63M568.49 220V292.72M569.07 220V298.43M571.35 220V293.82M574.21 220V296.73M576.5 220V298.17M758.26 220V307.34M759.41 220V304.84M762.84 220V303.87M766.27 220V304.47M767.41 220V304.71M769.7 220V303.26M770.27 220V308.25M771.41 220V302.99M774.27 220V300.8M778.84 220V316M781.13 220V328.24M794.85 220V319.19M798.28 220V317.84M798.85 220V255M799.42 220V322.13M800.56 220V317.79M803.99 220V317.16M806.85 220V316.85M813.71 220V314.16M815.42 220V314.35M816.57 220V312.58M817.14 220V309.91M824.57 220V309.21M828.57 220V312.62M830.29 220V316.78M834.86 220V318.88M901.16 220V316.26M901.74 220V316.46M905.74 220V316.7M908.6 220V319.44M910.31 220V317.07M912.6 220V313.88M913.74 220V314.68M914.31 220V314.47M914.88 220V314.39M916.6 220V311.6M917.17 220V312.67M918.31 220V313.89M919.46 220V315.32M921.17 220V313.46M921.74 220V315.13M924.6 220V312.16M925.17 220V316.1M930.89 220V315.16M935.46 220V315.89M936.6 220V314.89M938.32 220V316.31M945.75 220V316.08M946.89 220V316.05M956.04 220V324.62M957.75 220V325.56M958.9 220V328.61M965.18 220V321.71" stroke="#fff" stroke-opacity="0.14" stroke-width="0.6" fill="none"/>
<path d="M968.61 220V319.71M976.04 220V320.56M980.62 220V320.12M984.05 220V321.21M984.62 220V287.97M987.48 220V320.72M988.62 220V322.01M992.05 220V318.88M994.91 220V320.63M997.19 220V319.95M997.77 220V316.68M999.48 220V319.55M1004.05 220V317.49M1009.77 220V314M1013.77 220V314.84M1014.91 220V317.47M1018.34 220V322.72M1021.2 220V316.92M1025.77 220V318.68M1031.49 220V317.71M1035.49 220V314.96M1036.06 220V315.18M1036.63 220V318.77M1041.78 220V317.76M1045.21 220V315.28M1048.64 220V317.63M1049.21 220V317.69M1052.07 220V316.04M1053.21 220V316.25M1062.36 220V317.76M1066.93 220V313.36M1074.36 220V313.79M1075.5 220V310.61M1131.52 220V313.49M1132.09 220V312.66M1132.66 220V315.74M1133.81 220V314.81M1141.24 220V312.06M1245.84 220V310.27M1251.56 220V311.91M1260.7 220V313.62M1263.56 220V315.97M1265.27 220V316.09M1266.42 220V315.74M1266.99 220V313.85M1268.7 220V313.69M1269.28 220V314.86M1274.99 220V313.56M1280.14 220V309.15M1280.71 220V309.88M1281.85 220V313.78M1283.57 220V310.64M1284.71 220V314.16M1285.85 220V316.87M1292.14 220V318.25M1294.43 220V315.22M1300.14 220V313.37M1302.43 220V316.72M1303 220V316.96M1304.14 220V317.12M1305.86 220V318.73M1307 220V314.55M1313.86 220V316.4M1316.15 220V317.73M1327.58 220V315.24M1331.01 220V314.64M1331.58 220V317.26M1333.87 220V316.62M1335.01 220V312.58M1336.72 220V315.35M1337.87 220V316.92M1339.58 220V318M1342.44 220V318.17M1344.73 220V318.35M1345.3 220V316.98M1346.44 220V321.83M1348.73 220V320.1M1354.44 220V319.27M1355.59 220V316.21M1356.73 220V315.26M1358.44 220V317.47M1359.02 220V315.48M1362.45 220V315.1M1364.16 220V314.53M1367.59 220V313.05M1370.45 220V320.08M1375.02 220V310.46M1375.59 220V308.86M1376.74 220V307.83M1381.88 220V308.68M1383.02 220V304.96M1386.45 220V303.27M1387.02 220V304.24M1394.46 220V305.04M1402.46 220V309.87M1403.03 220V315.73M1405.32 220V304.87M1406.46 220V304.46M1407.6 220V305.34M1415.6 220V309.47M1420.75 220V302.92M1428.75 220V300.29M1429.32 220V302.03M1439.61 220V306.87M1441.9 220V306.65M1444.18 220V306.46M1447.04 220V305.7M1448.19 220V307.48M1462.48 220V305.78M1463.05 220V306.54M1464.76 220V304.96M1467.62 220V307.42M1476.19 220V304.19M1476.77 220V308.69M1481.34 220V308.97M1484.2 220V304.87M1486.48 220V305.05M1496.2 220V308.43M1496.77 220V307.43M1497.34 220V310.68M1499.06 220V306.87M1499.63 220V307.76M1504.2 220V302.27M1506.49 220V301.01M1509.35 220V306.62" stroke="#003a90" stroke-opacity="0.12" stroke-width="0.6" fill="none"/>
<path d="M486.17 220V156h0.66V220ZM485.57 220V202h0.66V220ZM580.17 220V180h0.66V220ZM580.17 220V306h0.66V220ZM579.57 220V203h0.66V220ZM590.17 220V118.75h0.66V220ZM589.67 220V190h0.66V220ZM590.77 220V185h0.66V220ZM593.42 220V166h0.66V220ZM593.97 220V175h0.66V220ZM594.57 220V191h0.66V220ZM592.87 220V186h0.66V220ZM591.37 220V261h0.66V220ZM634.17 220V196h0.66V220ZM747.47 220V202.5h0.66V220ZM748.07 220V160h0.66V220ZM748.67 220V135h0.66V220ZM749.27 220V126h0.66V220ZM749.87 220V125h0.66V220ZM750.47 220V130h0.66V220ZM751.07 220V138h0.66V220ZM751.67 220V145h0.66V220ZM752.27 220V152h0.66V220ZM752.87 220V162h0.66V220ZM753.47 220V172h0.66V220ZM754.07 220V182h0.66V220ZM754.67 220V192h0.66V220ZM755.27 220V202h0.66V220ZM755.87 220V212h0.66V220ZM748.17 220V252h0.66V220ZM775.92 220V211h0.66V220ZM821.17 220V182.5h0.66V220ZM821.77 220V195h0.66V220ZM889.17 220V211h0.66V220ZM1080.92 220V141h0.66V220ZM1079.67 220V157.5h0.66V220ZM1080.27 220V157.5h0.66V220ZM1081.47 220V160h0.66V220ZM1082.07 220V190h0.66V220ZM1084.07 220V175h0.66V220ZM1084.67 220V165h0.66V220ZM1085.27 220V165h0.66V220ZM1085.87 220V175h0.66V220ZM1086.47 220V190h0.66V220ZM1087.07 220V200h0.66V220ZM1087.67 220V207h0.66V220ZM1082.67 220V314h0.66V220ZM1243.17 220V169h0.66V220ZM660.67 220V310h0.66V220ZM696.67 220V302.5h0.66V220ZM1169.67 220V324h0.66V220ZM1195.67 220V324h0.66V220Z" fill="#1c59aa" fill-opacity="1.0"/>
<line x1="194" y1="220" x2="1509.9" y2="220" stroke="#aaaaaa" stroke-width="3.9" />
<line x1="193.65" y1="75" x2="193.65" y2="331.7" stroke="#111" stroke-width="1.5" />
<line x1="192.9" y1="331.7" x2="1525.75" y2="331.7" stroke="#111" stroke-width="1.5" />
<line x1="178.7" y1="86.3" x2="194" y2="86.3" stroke="#1a1a1a" stroke-width="1.3" />
<text x="169.6" y="93.3" font-size="21.8" text-anchor="end" fill="#111" textLength="13.46" lengthAdjust="spacingAndGlyphs" >8</text>
<line x1="178.7" y1="153.1" x2="194" y2="153.1" stroke="#1a1a1a" stroke-width="1.3" />
<text x="169.6" y="160.1" font-size="21.8" text-anchor="end" fill="#111" textLength="13.46" lengthAdjust="spacingAndGlyphs" >4</text>
<line x1="178.7" y1="220" x2="194" y2="220" stroke="#1a1a1a" stroke-width="1.3" />
<text x="169.6" y="227" font-size="21.8" text-anchor="end" fill="#111" textLength="13.46" lengthAdjust="spacingAndGlyphs" >0</text>
<line x1="178.7" y1="286.8" x2="194" y2="286.8" stroke="#1a1a1a" stroke-width="1.3" />
<text x="169.6" y="293.8" font-size="21.8" text-anchor="end" fill="#111" textLength="25.85" lengthAdjust="spacingAndGlyphs" >−4</text>
<line x1="256.4" y1="331.7" x2="256.4" y2="341.7" stroke="#1a1a1a" stroke-width="1.3" />
<line x1="542.2" y1="331.7" x2="542.2" y2="341.7" stroke="#1a1a1a" stroke-width="1.3" />
<line x1="828" y1="331.7" x2="828" y2="341.7" stroke="#1a1a1a" stroke-width="1.3" />
<line x1="1113.8" y1="331.7" x2="1113.8" y2="341.7" stroke="#1a1a1a" stroke-width="1.3" />
<line x1="1399.6" y1="331.7" x2="1399.6" y2="341.7" stroke="#1a1a1a" stroke-width="1.3" />
<text x="236.12" y="114.5" font-size="25.5" text-anchor="start" fill="#111" textLength="179.65" lengthAdjust="spacingAndGlyphs" >8 AA insertion</text>
<rect x="256.1" y="362" width="39.54" height="246" fill="#eeeeee"/>
<rect x="441.6" y="362" width="137.76" height="246" fill="#eeeeee"/>
<rect x="749.12" y="362" width="85.74" height="246" fill="#eeeeee"/>
<rect x="891.45" y="362" width="188.06" height="246" fill="#eeeeee"/>
<rect x="1128.66" y="362" width="12.58" height="246" fill="#eeeeee"/>
<rect x="1245.84" y="362" width="264.08" height="246" fill="#eeeeee"/>
<path d="M295.55 496.25V523.2H296.13V531.7H296.7V527.1H297.27V527H297.84V524H298.41V527.8H298.98V523.9H299.56V524.1H300.13V523H300.7V523.7H301.27V521.3H301.84V524.8H302.41V526.4H302.99V525.4H303.56V528.5H304.13V523.9H304.7V529.1H305.27V524.8H305.84V519.1H306.41V521H306.99V526H307.56V523.1H308.13V522.4H308.7V522.5H309.27V523.9H309.84V523.4H310.42V522.7H310.99V521.7H311.56V523.2H312.13V520.6H312.7V525.1H313.27V526.7H313.85V499.4H314.42V520.8H315.56V521.9H316.13V524.4H316.7V525.2H317.28V523.9H317.85V523.5H318.42V522.6H318.99V527.8H319.56V523.6H320.13V525.9H320.7V523.6H321.28V524.8H321.85V523.3H322.42V523.4H322.99V521.8H323.56V524.2H324.13V522.6H324.71V524.6H325.28V523.4H325.85V523.5H326.42V522.7H326.99V524.4H327.56V523H328.14V530.9H328.71V527.2H329.28V528.4H329.85V524.3H330.42V526.1H330.99V525.9H331.57V525.3H332.14V526.3H332.71V523.3H333.28V526.2H333.85V516.5H334.42V527.5H335V526.3H335.57V529.1H336.14V528H336.71V526.6H337.28V524.4H337.85V522.7H338.42V526.1H339V526H339.57V530.1H340.14V528.1H340.71V529.2H341.28V528.3H341.85V529.9H342.43V529.8H343V527.5H343.57V529.5H344.14V530.5H344.71V529.8H345.28V534.3H345.86V500H346.43V527H347V528H348.14V532.1H348.71V529.7H349.28V530.7H349.86V531.5H350.43V529.9H351V526.4H351.57V525.4H352.14V529.4H352.71V529.9H353.29V527.4H353.86V529.4H354.43V529.1H355V529.2H355.57V527.1H356.14V530.3H356.72V527.3H357.29V529H357.86V526.5H358.43V529.4H359V529.6H359.57V530.2H360.15V526.7H360.72V528.1H361.29V528.2H361.86V526.6H362.43V528.6H363V528.9H363.57V528H364.15V529.7H364.72V531H365.29V529.3H365.86V527.3H366.43V525.5H367V525.4H367.58V524.9H368.15V524.4H368.72V527.4H369.29V524.8H369.86V526.6H370.43V527.4H371.01V527H371.58V528.7H372.15V500H372.72V526.4H373.29V529.4H374.44V528.1H375.01V526.7H375.58V530.4H376.15V529.1H376.72V530.9H377.29V527.4H377.86V528.1H378.44V526.7H379.01V529.8H379.58V528.7H380.15V529.5H380.72V527.7H381.29V530.5H381.87V533.1H382.44V529.6H383.01V531.6H383.58V526.8H384.15V527.7H384.72V529.3H385.3V528.8H385.87V530.9H386.44V525.8H387.01V525.2H387.58V529.6H388.15V527.5H388.73V527.1H389.3V532.5H389.87V527.5H390.44V527.4H391.01V527.6H391.58V528.9H392.15V527H392.73V526.3H393.3V529.1H393.87V526H394.44V528.9H395.01V527.5H395.58V526.9H396.16V531.1H396.73V526.9H397.3V527.1H397.87V526.8H398.44V524.3H399.01V527.7H399.59V532.1H400.16V530.3H400.73V529.4H401.3V502.9H401.87V527.4H402.44V525.2H403.02V525.1H403.59V526.1H404.16V526.4H404.73V526.2H405.3V523.4H405.87V526.9H406.44V525.3H407.02V526.2H407.59V526.9H408.16V524.9H408.73V528.3H409.3V526.5H409.87V525.2H410.45V525H411.02V524.6H411.59V525H412.16V527.1H412.73V527.3H413.3V528H413.88V529.6H414.45V527.9H415.02V523.1H415.59V527.3H416.16V530H416.73V528.3H417.31V529.3H417.88V532.9H418.45V529.7H419.02V529.5H419.59V532.2H420.16V528H420.74V527.9H421.31V528.9H421.88V532.6H422.45V528.2H423.02V528.8H423.59V527.7H424.16V529.1H424.74V534.6H425.31V527.4H425.88V531H426.45V531.7H427.02V528.1H427.59V529.6H428.17V532.9H428.74V527.3H429.31V530.1H429.88V533.6H430.45V527.4H431.02V530.1H431.6V531.4H432.17V528.6H432.74V526.9H433.31V529.4H433.88V530.5H434.45V529H435.02V530H435.6V528.1H436.17V529H436.74V528.4H437.31V529.5H437.88V530.8H438.45V530.3H439.03V536H439.6V529.5H440.17V496.25ZM579.64 496.25V521.4H580.78V522.6H581.35V519.8H581.93V523.7H582.5V527.8H583.07V521.2H583.64V523.3H584.21V521.7H584.78V520.7H585.36V496.25ZM589.93 496.25V536.3H590.5V534.1H591.07V535.1H591.64V535H592.22V539.6H592.79V536.5H593.36V535.7H593.93V534.1H594.5V536.9H595.07V538.9H595.64V537.2H596.22V536.9H596.79V537.2H597.36V538.1H597.93V535.4H598.5V539.7H599.07V537.1H599.65V544.8H600.22V537.2H600.79V537.1H601.36V538.9H601.93V539.9H602.5V539.4H603.08V539.1H603.65V539.6H604.22V542.7H604.79V541.3H605.36V545.2H605.93V540.5H606.5V538.7H607.08V539H607.65V537.9H608.22V538.4H609.36V537H609.93V540.6H610.51V543.9H611.08V541.2H611.65V543.8H612.22V531H612.79V525.7H613.36V525.5H613.94V527.6H614.51V524.8H615.65V524.6H616.22V527.6H616.79V529.3H617.37V525.4H617.94V526.5H618.51V527.1H619.65V523.3H620.22V527.4H620.79V523.3H621.37V527H621.94V523.4H622.51V526H623.08V526.8H623.65V524.3H624.22V523.1H624.8V524.6H625.37V524.2H625.94V508.3H626.51V523.8H627.08V530H627.65V524H628.23V524.6H628.8V523.5H629.37V521.5H629.94V522.8H630.51V522.4H631.08V523.2H631.66V520.2H632.23V524.3H632.8V525.7H633.37V523.4H633.94V521.8H634.51V520.4H635.08V500H635.66V527.1H636.23V525.6H636.8V529.1H637.37V530.4H637.94V525H638.51V528.9H639.09V527.2H639.66V527.7H640.23V529.3H640.8V537.3H641.37V557H641.94V560.5H642.52V556.6H643.09V557.2H643.66V557.4H644.23V557.3H644.8V558.1H645.37V558H645.95V557.3H646.52V562.6H647.09V559.3H647.66V555.7H648.23V562.9H648.8V559.1H649.37V561.8H649.95V561.6H650.52V560.2H651.09V559.4H651.66V560.2H652.23V559.8H652.8V558.4H653.95V556.5H654.52V558.6H655.09V559H655.66V557.8H656.23V560.3H656.81V561.8H657.38V557.7H657.95V562.4H658.52V561.3H659.09V560.6H659.66V558.6H660.24V561.3H660.81V558.3H661.38V560.1H661.95V558.3H662.52V500H663.09V560.4H663.66V561.3H664.24V557.7H664.81V559.6H665.38V558.2H665.95V558.1H666.52V558.5H667.09V560.4H667.67V560.8H668.24V556.3H668.81V526.8H669.38V527.5H669.95V530H670.52V526.6H671.1V525.2H671.67V526.8H672.24V523.8H672.81V527.3H673.38V526H673.95V526.9H674.53V526.6H675.1V528.3H675.67V525.7H676.24V524.1H676.81V527.8H677.38V528.1H677.96V525.8H678.53V528H679.1V528.1H679.67V525.2H680.24V525.4H680.81V526.7H681.38V528.6H681.96V523.9H682.53V525H683.1V526.9H683.67V532.5H684.24V526.9H684.81V526.2H685.39V526H685.96V529.1H686.53V525.4H687.1V524.2H687.67V524.6H688.24V527.2H688.82V525.1H689.39V527.8H689.96V523.6H690.53V524.9H691.1V525.7H691.67V523.2H692.25V528.2H692.82V524.9H693.96V523.2H694.53V523.7H695.67V522.8H696.25V522.4H696.82V521.2H697.39V523.3H697.96V526H698.53V524H699.1V522.3H699.68V523.8H700.25V524.7H700.82V526.5H701.39V522.9H701.96V524.4H702.53V522.7H703.11V522.6H703.68V522.9H704.25V523.7H704.82V523.9H705.39V523.5H705.96V521.5H706.53V522.4H707.11V520.9H707.68V522H708.25V521.3H708.82V526.1H709.39V524.1H709.96V526.4H710.54V522.6H711.11V524.8H711.68V524.4H712.25V523.7H712.82V523.2H713.39V522.4H713.97V524.5H714.54V523.8H715.11V524.2H715.68V525.8H716.25V522.1H716.82V526.4H717.97V525.3H718.54V524.8H719.11V524.5H719.68V525H720.25V529.2H720.82V525.9H721.4V528H721.97V530.1H722.54V528.3H723.11V531.4H723.68V528.9H724.25V530.3H724.83V535.1H725.4V527.9H725.97V530.7H726.54V533.1H727.11V534.3H727.68V531.6H728.26V534.7H728.83V534.9H729.4V537.2H729.97V539.1H730.54V536.4H731.11V535.5H731.69V538.4H732.26V534.8H732.83V535.6H733.4V536H733.97V535.4H734.54V534.2H735.11V537.4H735.69V534H736.26V539.5H736.83V532.9H737.4V535.7H737.97V533.3H738.54V533.6H739.12V531.8H739.69V533.4H740.26V536.7H740.83V534H741.4V536H741.97V530.1H742.55V533H743.12V529.9H743.69V533H744.26V529.6H744.83V528H745.4V527.6H745.98V529.4H746.55V529.9H747.12V528.9H747.69V496.25ZM835.14 496.25V574.2H835.72V574.8H836.29V578H836.86V575.2H837.43V577.5H838V581.8H838.57V577.6H839.15V577.5H839.72V580.1H840.29V576.8H840.86V577.7H841.43V578.2H842V578.4H842.58V576.4H843.15V578.8H843.72V577.7H844.29V579.3H844.86V581.6H845.43V586.4H846.01V579.9H846.58V578.7H847.15V581.2H847.72V577.1H848.29V578.7H848.86V576H849.43V582H850.01V578.5H850.58V578.4H851.15V582.4H852.29V580.4H852.86V585.8H853.44V577.8H854.01V579.7H854.58V578.4H855.15V577.4H855.72V581.1H856.29V580.6H856.87V573.3H857.44V576.1H858.01V574H858.58V577.9H859.15V578H859.72V581.4H860.3V575.8H860.87V564.1H861.44V556.8H862.01V577.3H862.58V582.6H863.15V577H863.73V576.9H864.3V578.7H864.87V575.7H865.44V582.8H866.01V576.2H866.58V574.5H867.15V581H867.73V576.1H868.3V576.2H868.87V576.5H869.44V575.3H870.01V576.6H870.58V573.8H871.16V575.1H871.73V577.4H872.3V575.9H872.87V575.3H873.44V578.8H874.01V574.8H874.59V575.9H875.16V573.5H875.73V575.4H876.3V576.1H876.87V573.5H877.44V574.1H878.01V576.4H878.59V575.4H879.16V578.6H879.73V578.5H880.3V571.5H880.87V574.7H881.44V577.1H882.02V575.9H882.59V578H883.16V580.1H883.73V577H884.3V578.6H884.87V576.9H885.45V576H886.02V583.2H886.59V579.9H887.16V579.3H887.73V577.9H888.3V580.4H888.88V580.2H889.45V580H890.02V575.3H890.59V581.4H891.16V496.25ZM1079.79 496.25V571H1080.36V496.25ZM1090.08 496.25V594.8H1090.65V590H1091.22V591.6H1091.79V591.8H1092.37V590.3H1092.94V589.7H1093.51V588.9H1094.08V588.7H1094.65V591.3H1095.22V590.6H1095.79V591.3H1096.37V590.1H1096.94V588.5H1097.51V587.5H1098.08V589.1H1098.65V589.3H1099.22V593.5H1099.8V587.3H1100.37V590.8H1100.94V588.1H1101.51V590.4H1102.08V586.7H1102.65V588.7H1103.23V588.6H1103.8V591.5H1104.37V587.4H1104.94V510H1105.51V587.7H1106.08V587.2H1106.66V563.2H1107.23V587.7H1107.8V586.9H1108.37V586.2H1108.94V588.5H1109.51V587.5H1110.08V585.2H1110.66V584.6H1111.23V586.8H1111.8V588.2H1112.37V585H1112.94V588.1H1113.51V586.3H1114.09V588.6H1114.66V590.5H1115.23V585.5H1115.8V587.5H1116.37V584.9H1116.94V585.2H1117.52V586.6H1118.09V584.2H1118.66V585.2H1119.23V584.8H1119.8V582.1H1120.37V580.3H1120.95V579.6H1121.52V577.5H1122.09V581.6H1122.66V576.1H1123.23V577.8H1123.8V578.5H1124.37V581.5H1124.95V575.9H1125.52V581.9H1126.09V584.8H1126.66V584.3H1127.23V585.6H1127.8V590.9H1128.38V496.25ZM1141.52 496.25V585.4H1142.09V586H1142.67V589H1143.24V585.1H1143.81V587.5H1144.38V585.9H1144.95V585.6H1145.52V586.2H1146.1V585.1H1146.67V589.9H1147.24V585.5H1147.81V586.4H1148.38V591.2H1148.95V589.2H1149.53V588H1150.67V586.6H1151.24V586.7H1151.81V588.4H1152.95V585.1H1153.53V583.7H1154.1V593.2H1154.67V588.5H1155.24V587.3H1155.81V584.9H1156.38V589.3H1156.96V586.1H1157.53V587H1158.1V587.8H1158.67V584.6H1159.24V584.3H1159.81V585.8H1160.39V583.9H1160.96V580H1161.53V587.1H1162.1V582.8H1162.67V585.6H1163.24V584.6H1163.82V582.8H1164.39V583.2H1164.96V583.3H1165.53V582.6H1166.1V591.1H1166.67V585.2H1167.24V583.2H1167.82V581H1168.39V583.8H1168.96V589H1169.53V583.3H1170.1V581.7H1170.67V583.9H1171.25V587.5H1171.82V584.5H1172.39V585.2H1172.96V583.3H1173.53V585.1H1174.1V581H1174.68V585.3H1175.25V582.3H1175.82V582.7H1176.39V587.5H1176.96V584.2H1177.53V585.5H1178.11V583.6H1178.68V585.7H1179.25V583H1179.82V582.8H1180.39V586H1180.96V585.1H1181.53V581.2H1182.11V583H1182.68V584.3H1183.25V591.5H1183.82V584.8H1184.39V584.3H1184.96V582.4H1185.54V590.1H1186.11V588.2H1186.68V581.6H1187.25V585.1H1187.82V580.3H1188.39V586.8H1188.97V584.1H1189.54V585.6H1190.11V582.6H1190.68V589.3H1191.25V582.9H1191.82V583.7H1192.39V582.5H1192.97V582H1193.54V585.2H1194.11V586.5H1194.68V589.6H1195.25V582.7H1195.82V583.8H1196.4V587.1H1196.97V582.5H1197.54V581.7H1198.11V581.5H1198.68V582.4H1199.25V590.3H1199.83V583.8H1200.4V583.1H1200.97V588.8H1201.54V584.4H1202.11V583.6H1202.68V580.2H1203.26V579.2H1203.83V581.9H1204.4V578.6H1204.97V579.1H1205.54V576.7H1206.11V574.7H1206.68V565.2H1207.26V576.4H1207.83V573.6H1208.4V579.5H1208.97V576.7H1209.54V570.6H1210.11V571.1H1210.69V572.7H1211.26V574.4H1211.83V536H1212.4V569.6H1212.97V573.5H1213.54V572.1H1214.69V572.7H1215.26V572.1H1215.83V572.6H1216.4V571.1H1216.97V570H1217.55V572.1H1218.12V570.6H1218.69V570.7H1219.83V572.3H1220.4V572.7H1220.98V570.3H1221.55V574.1H1222.12V571H1222.69V571.9H1223.26V576.8H1223.83V571.8H1224.4V570.1H1224.98V572.4H1225.55V575.7H1226.12V520H1226.69V572H1227.26V575.8H1227.83V579H1228.41V577.6H1228.98V572.6H1229.55V571.3H1230.12V571.9H1230.69V575.1H1231.26V573.9H1231.84V559.7H1232.41V580.2H1232.98V572.6H1233.55V578.5H1234.12V571H1234.69V576H1235.27V573.4H1235.84V573.7H1236.41V571.8H1236.98V575.8H1237.55V572.2H1238.12V577H1238.69V576.3H1239.27V576.9H1239.84V576.1H1240.41V578.1H1241.55V579.6H1242.12V577.2H1242.7V576.5H1243.27V550H1243.84V580.3H1244.41V575.8H1244.98V577.7H1245.55V496.25Z" fill="#b02c30"/>
<path d="M256.11 496.25V514.9H256.69V520.3H257.26V519.1H257.83V517.1H258.4V518.6H258.97V519.1H259.54V518.5H260.12V521.1H260.69V521.8H261.26V519.6H261.83V521.6H262.4V522.1H262.97V520.2H263.54V519.6H264.12V523.2H264.69V521.7H265.26V526H265.83V520.8H266.4V522.2H266.97V521.1H267.55V519.1H268.12V521H268.69V525.3H269.26V519.3H269.83V520.8H270.4V522.4H270.98V523.2H271.55V522.6H272.12V524.2H272.69V525H273.26V527.6H273.83V524.9H274.41V526.4H274.98V525.4H275.55V534.5H276.12V527.7H276.69V527.8H277.83V530H278.41V527.6H278.98V528.4H279.55V529.3H280.12V527.4H280.69V526.9H281.26V530.6H281.84V529.4H282.41V533.3H282.98V529.1H283.55V528.5H284.12V528.4H284.69V528.9H285.27V527.6H285.84V527.1H286.41V528.9H286.98V528.4H287.55V526.9H288.12V529.3H288.7V532H289.27V528.1H290.41V526.3H290.98V532.7H291.55V524.7H292.12V525.5H292.7V524.3H293.27V527H293.84V525.5H294.41V524H294.98V524.1H295.55V496.25ZM556.2 496.25V533.2H556.78V525.8H557.35V527.1H557.92V526.7H558.49V524.5H559.06V528H559.63V528.1H560.21V528.8H560.78V529.8H561.35V530.8H561.92V530.6H562.49V530.9H563.06V529.6H563.63V527.8H564.21V529.4H564.78V515.8H565.35V527.6H565.92V526.9H566.49V529.9H567.06V521.4H567.64V526.2H568.21V523.1H568.78V523.8H569.35V523.1H569.92V524H570.49V528.8H571.07V521.5H571.64V520.6H572.21V520.7H572.78V521.8H573.35V520.6H573.92V525.2H574.5V521.7H575.07V522.2H575.64V521.7H576.21V527.5H576.78V521.3H577.35V521.4H577.92V524.6H578.5V521.9H579.07V524.1H579.64V496.25ZM755.69 496.25V575.9H756.26V573.8H756.84V574.1H757.41V575.7H757.98V573.2H758.55V575.1H759.12V573H759.69V580.8H760.27V573.5H760.84V574.7H761.41V575.1H761.98V573.8H762.55V573.9H763.12V573.7H763.7V571.3H764.27V577.9H764.84V576H765.41V575.9H765.98V573.9H766.55V575.6H767.12V572.9H767.7V573.3H768.27V570.6H768.84V572.9H769.41V575.1H769.98V572.9H770.55V574.9H771.13V578.2H771.7V576.6H772.27V575.8H772.84V577.5H773.41V576.3H773.98V574.3H774.56V578.7H775.13V576.3H775.7V576.1H776.27V576.5H776.84V571.6H777.41V548.8H777.99V550.1H778.56V548.7H779.13V549.7H779.7V549.1H780.27V577.6H780.84V580.3H781.41V578.4H781.99V581.1H782.56V580.1H783.13V576.6H783.7V577.6H784.27V577.1H784.84V496.25ZM805.99 496.25V574.8H806.56V574.1H807.14V573.1H807.71V574.3H808.28V576.8H808.85V580.3H809.42V580.9H809.99V572.6H810.57V575.1H811.14V572.9H811.71V575.7H812.28V575.9H812.85V576.1H813.42V577H814V578.5H814.57V576.8H815.14V575.4H815.71V574.1H816.28V580.5H816.85V575.6H817.43V577.7H818V575.6H818.57V574.6H819.14V573.3H819.71V570.6H820.28V573.6H820.86V574.7H821.43V573.5H822V575.4H822.57V573H823.14V575.9H823.71V580.5H824.28V580.1H824.86V575.4H825.43V572.1H826V576.2H826.57V573.4H827.14V575.9H827.71V577.8H828.29V574.7H828.86V496.25ZM832.29 496.25V574.8H832.86V573.1H833.43V575H834V572.9H834.57V574.1H835.14V496.25ZM891.16 496.25V577.7H891.73V577.2H892.3V575.4H892.88V577.8H893.45V580.2H894.02V577.5H894.59V583H895.16V576.1H895.73V578H896.31V576.7H896.88V579.3H897.45V577H898.02V576.5H898.59V576.6H899.16V581.8H899.74V583.6H900.31V575.6H900.88V579.9H901.45V576.5H902.02V578.7H902.59V579.3H903.17V579.7H903.74V577.2H904.31V583.8H904.88V577.2H905.45V578.9H906.02V577.6H906.59V578.4H907.17V576.3H907.74V579.1H908.31V578.4H908.88V582.2H909.45V581.1H910.02V578.3H910.6V577.5H911.17V580.5H911.74V580.2H912.31V580.9H912.88V581H913.45V581.1H914.03V581.5H914.6V580.5H915.17V578.6H915.74V578.4H916.88V584.7H917.46V578H918.03V579.7H918.6V579.8H919.17V576.8H919.74V578H920.31V580.2H920.88V576.8H921.46V576.7H922.03V582.3H922.6V580.9H923.17V577.7H923.74V576.6H924.31V575.1H924.89V573.3H925.46V575.5H926.03V577.4H926.6V576.5H927.17V575.8H927.74V576.2H928.32V580.7H928.89V576.4H929.46V575.6H930.03V578.7H930.6V576.6H931.75V574.6H932.32V579.7H932.89V575.8H933.46V576.2H934.03V579.3H934.6V573.4H935.17V572.3H935.75V576.5H936.32V572.6H936.89V574.5H937.46V571.9H938.03V572.4H938.6V571.3H939.18V571.1H939.75V571.8H940.32V568.4H940.89V570.2H941.46V576.8H942.03V574.5H942.61V573.6H943.18V577.6H943.75V577.4H944.32V578H944.89V576.8H946.04V576.5H946.61V579.9H947.18V576H947.75V575.7H948.32V576.7H948.89V577.6H949.46V575.5H950.04V576.7H950.61V573.3H951.18V575.8H951.75V576.9H952.32V574.8H952.89V571.4H953.47V579.5H954.04V573.7H954.61V573.3H955.18V571.6H955.75V574.6H956.32V571.2H956.9V571.8H957.47V570.9H958.04V570.2H958.61V571.4H959.18V570.6H959.75V571.7H960.33V569.2H960.9V570.5H961.47V567.7H962.04V568.9H962.61V565.8H963.18V568H963.75V567.6H964.33V566.9H964.9V567.6H965.47V568.3H966.04V570.4H966.61V568.9H967.18V569.6H967.76V570H968.33V574.1H968.9V571.6H969.47V571H970.04V568.6H970.61V572.4H971.19V570.8H971.76V573H972.33V575.1H972.9V573.6H973.47V572.7H974.04V572.8H974.62V574H975.19V572.3H975.76V575.9H976.33V574.9H976.9V575.3H977.47V574.3H978.04V577.4H978.62V575.8H979.19V579.9H979.76V578.1H980.33V579.7H980.9V579.1H981.47V580.2H982.05V581.4H982.62V579.3H983.19V578.5H983.76V579.6H984.33V578.6H984.9V579.5H985.48V577.7H986.05V578.2H986.62V579.8H987.19V578.7H987.76V577.4H988.33V583.4H988.91V579.1H989.48V580.4H990.05V583.2H990.62V579.5H991.19V578.2H991.76V577.2H992.33V583.5H992.91V579.3H993.48V579.2H994.05V584H994.62V577.6H995.19V579.3H995.76V578.7H996.34V576.4H996.91V577.4H997.48V575.7H998.62V579.8H999.19V584.3H999.77V531H1000.34V580.6H1000.91V579.8H1001.48V577.6H1002.05V579.8H1002.62V579.9H1003.2V585.2H1003.77V577.4H1004.34V576.4H1004.91V579.2H1005.48V580.2H1006.05V583.4H1006.62V575.4H1007.2V578.1H1007.77V580H1008.34V579.2H1008.91V579.1H1009.48V551H1010.05V575.9H1010.63V582.6H1011.2V574.6H1011.77V576.9H1012.34V575.8H1012.91V578.5H1013.48V577.8H1014.06V580.6H1014.63V578H1015.2V579.7H1015.77V516H1016.34V576.8H1016.91V575.1H1017.49V581H1018.06V576H1018.63V579.5H1019.2V577.2H1019.77V578.8H1020.34V578.4H1020.91V576.1H1021.49V575.8H1022.06V576.9H1023.2V576.1H1023.77V578.3H1024.34V579.9H1024.92V578.3H1025.49V579.4H1026.06V574.9H1026.63V578.6H1027.2V577.4H1027.77V575.4H1028.35V578.6H1028.92V581.9H1029.49V578.7H1030.06V578.1H1030.63V579.4H1031.2V579.2H1031.78V576.9H1032.35V575.6H1032.92V577.5H1033.49V575.2H1034.06V573.7H1034.63V577.6H1035.2V550.8H1035.78V576.1H1036.35V576.5H1036.92V575.5H1037.49V579.2H1038.06V499H1038.63V576.7H1039.21V577.9H1039.78V582.9H1040.35V575.2H1040.92V574.7H1041.49V576.4H1042.06V577.2H1042.64V576.8H1043.21V576H1043.78V574.9H1044.35V576.1H1044.92V575.1H1045.49V576H1046.07V576.2H1046.64V575.9H1047.21V579.1H1047.78V574.8H1048.35V576.6H1048.92V578.4H1049.5V578.2H1050.07V573.3H1050.64V573.5H1051.78V575H1052.35V575.1H1052.92V579.8H1053.5V575.6H1054.07V575.9H1054.64V576.6H1055.21V575.9H1055.78V575.4H1056.35V575.5H1056.93V572.8H1057.5V575.4H1058.07V573.3H1058.64V576H1059.21V575.9H1059.78V574.7H1060.36V574.5H1060.93V577.5H1061.5V579.1H1062.07V576.6H1062.64V575.1H1063.21V576H1063.79V574.7H1064.36V576H1064.93V572H1065.5V574.7H1066.07V571.4H1066.64V573.3H1067.21V574H1067.79V576.1H1068.36V576H1068.93V579.2H1069.5V575.3H1070.07V575.6H1071.22V578.7H1071.79V575.2H1072.36V573.2H1072.93V580.5H1073.5V576.3H1074.07V575.9H1074.65V573.3H1075.22V575.9H1075.79V552H1076.36V574.4H1076.93V572.4H1077.5V574.1H1078.08V575.6H1078.65V571.9H1079.22V571.6H1079.79V496.25ZM1128.38 496.25V586.5H1128.95V585H1129.52V590.8H1130.09V585.2H1130.66V585.7H1131.23V585.6H1131.81V582.2H1132.38V586.4H1132.95V584.9H1133.52V591.1H1134.09V590.5H1134.66V588.1H1135.24V588.9H1135.81V582.3H1136.38V587H1136.95V585.5H1137.52V587.3H1138.09V564.6H1138.66V585.6H1139.24V525H1139.81V584.9H1140.38V583.5H1140.95V585.7H1141.52V496.25ZM1245.55 496.25V577.6H1246.13V578.7H1246.7V576.8H1247.27V579.6H1247.84V579.5H1248.41V581.3H1248.98V578.3H1249.56V583.3H1250.13V579.4H1250.7V580.5H1251.27V581.1H1251.84V579.7H1252.41V577.3H1252.98V578.9H1253.56V583.1H1254.13V580.2H1254.7V581.4H1255.27V580.3H1255.84V582.1H1256.41V586.2H1256.99V579.8H1257.56V581.1H1258.13V583.7H1258.7V580.9H1259.27V581.3H1259.84V582.7H1260.42V583.1H1260.99V584.4H1261.56V584.6H1262.13V585.7H1262.7V583.2H1263.85V582.9H1264.42V584.9H1264.99V583.2H1265.56V583.6H1266.13V583.2H1266.7V584H1267.27V583.9H1267.85V581.1H1268.42V584.1H1268.99V581.5H1269.56V584.2H1270.13V583.6H1270.7V581.5H1271.28V582.8H1271.85V582.7H1272.42V583.3H1272.99V582.7H1273.56V587.9H1274.13V584.4H1274.71V586H1275.28V584.3H1276.42V587.6H1276.99V583.1H1277.56V587.9H1278.14V589.3H1278.71V583.3H1279.28V583.8H1279.85V583.5H1280.42V585.2H1280.99V555.8H1281.56V582H1282.14V584.5H1282.71V582.5H1283.28V587.4H1283.85V585H1284.42V584.2H1284.99V583H1285.57V584.2H1286.14V584.3H1286.71V583.9H1287.28V584.8H1287.85V583H1288.42V588.8H1289V585.5H1289.57V584.8H1290.14V584.4H1290.71V585.1H1291.28V587.8H1291.85V589.3H1292.43V583.6H1293V583.9H1293.57V583.5H1294.14V582.5H1294.71V583.6H1295.28V580.9H1295.85V580.2H1296.43V582.6H1297V581H1297.57V580H1298.14V578.8H1298.71V583.2H1299.28V582.6H1299.86V583.7H1300.43V579.2H1301V581H1301.57V581.2H1302.14V581H1302.71V583.4H1303.29V582.5H1303.86V580H1304.43V582.1H1305V579.5H1305.57V583H1306.14V583.4H1306.72V585H1307.29V579.9H1307.86V585.6H1308.43V582.4H1309V584.4H1309.57V581.8H1310.14V583.1H1310.72V583.3H1311.29V582.4H1311.86V583.5H1312.43V581.9H1313V581.7H1313.57V581.6H1314.15V583.8H1314.72V583.4H1315.29V582.5H1315.86V585.4H1316.43V582.7H1317V585.3H1317.58V580.2H1318.15V498.5H1318.72V589.2H1319.29V585H1319.86V586.1H1320.43V584.7H1321.01V586.8H1322.15V583.6H1322.72V586H1323.29V585H1323.86V586.1H1324.43V582.9H1325.01V583.6H1325.58V584.4H1326.15V588H1326.72V585.5H1327.29V588.1H1327.86V583.6H1328.44V588.7H1329.01V583.3H1329.58V581.4H1330.15V584.9H1330.72V581.7H1331.29V579.8H1331.87V582.4H1332.44V583.2H1333.01V578.8H1333.58V581.8H1334.15V580.6H1334.72V588.3H1335.3V584.4H1335.87V582.8H1336.44V582.3H1337.01V581.1H1337.58V580.6H1338.15V582.5H1338.72V581.1H1339.3V580.2H1339.87V582.7H1340.44V580.3H1341.01V580.9H1341.58V583.9H1342.15V578.1H1342.73V579.7H1343.3V578.9H1343.87V580.3H1344.44V577H1345.01V576.7H1345.58V578.4H1346.16V554H1346.73V568.3H1347.3V580H1347.87V577.2H1348.44V578.7H1349.01V581H1349.59V578.9H1350.16V579.9H1350.73V579.2H1351.3V578.1H1351.87V579.6H1352.44V584.1H1353.01V578H1353.59V578.1H1354.16V579.3H1354.73V576.4H1355.3V580.5H1355.87V576.9H1356.44V581.5H1357.02V578.7H1357.59V577H1358.16V582.5H1358.73V577.2H1359.3V578.4H1359.87V579.8H1360.45V576.7H1361.02V579H1361.59V583.1H1362.16V578.7H1362.73V579.8H1363.3V579.4H1363.88V580.6H1364.45V577.4H1365.02V578.3H1365.59V579.3H1366.16V577.5H1366.73V576.9H1367.3V576.4H1367.88V576.2H1368.45V580.8H1369.02V577.7H1369.59V578.6H1370.16V581.9H1370.73V581.7H1371.31V579.5H1371.88V580.5H1372.45V578.8H1373.02V585.2H1373.59V580.7H1374.16V568.5H1374.74V580.2H1375.31V582.4H1375.88V583H1376.45V583.5H1377.02V582.3H1377.59V581H1378.16V580.3H1378.74V564.4H1379.31V584.1H1379.88V584.7H1380.45V580.6H1381.02V580.3H1381.59V579.1H1382.17V580.4H1382.74V583.7H1383.31V584.1H1383.88V586.3H1384.45V585.8H1385.02V584.2H1385.6V586H1386.17V587.3H1386.74V583.1H1387.31V582.4H1387.88V585.4H1388.45V585.2H1389.03V581.5H1389.6V582.7H1390.17V581.3H1390.74V583.1H1391.31V587.6H1391.88V583.6H1392.45V584.3H1393.03V588H1393.6V581.6H1394.17V583.7H1394.74V581.4H1395.31V582H1395.88V582.2H1396.46V579.5H1397.03V577.6H1397.6V582.3H1398.17V580.4H1398.74V581H1399.31V580.1H1399.89V577.1H1400.46V571.9H1401.03V577.5H1402.17V576.5H1402.74V577H1403.32V577.2H1403.89V574.8H1404.46V576.6H1405.03V581.5H1405.6V574.5H1406.17V517.5H1406.74V579.5H1407.32V573.6H1407.89V573.4H1408.46V576.9H1409.03V575H1409.6V578.9H1410.17V577.3H1410.75V575.3H1411.32V576.3H1411.89V577H1413.03V575.5H1413.6V581.8H1414.18V579.3H1414.75V576.5H1415.32V575.6H1415.89V578.6H1416.46V576.5H1417.03V578.1H1417.61V574.8H1418.18V578.3H1418.75V578.7H1419.32V579.5H1419.89V498.5H1420.46V579.8H1421.03V578.9H1421.61V577.6H1422.18V578.5H1422.75V578H1423.32V579.7H1423.89V577.9H1424.46V577.5H1425.04V578.8H1425.61V582.7H1426.18V579.2H1426.75V579H1427.32V578.4H1427.89V577.6H1428.47V579.1H1429.04V581.6H1429.61V584.4H1430.18V580.5H1430.75V580.7H1431.32V585.2H1431.9V581.8H1432.47V580.9H1433.04V584.1H1433.61V583H1434.18V581.6H1434.75V579.4H1435.33V580.4H1435.9V576.7H1436.47V577.3H1437.04V578.4H1437.61V579.4H1438.18V580.1H1438.75V578.9H1439.33V577.3H1439.9V579.2H1440.47V579.4H1441.04V580.4H1441.61V580.9H1442.18V580.1H1442.76V581.1H1443.33V580.2H1443.9V579.7H1444.47V580.5H1445.04V579.5H1445.61V576.9H1446.19V580.1H1446.76V580.5H1447.33V577.7H1447.9V580.1H1448.47V577.5H1449.04V582H1449.62V575.7H1450.19V579.6H1450.76V577.3H1451.33V580.3H1451.9V579.3H1452.47V572.5H1453.04V567.1H1453.62V569.7H1454.19V564.4H1454.76V567.8H1455.33V565.6H1455.9V566.2H1456.47V563H1457.05V566.9H1457.62V566.5H1458.19V566.4H1458.76V566H1459.33V564.4H1459.9V563.9H1460.48V564.7H1461.05V563.6H1461.62V564.7H1462.19V565.8H1462.76V572.4H1463.33V565.8H1463.91V571.2H1464.48V565.6H1465.05V566.6H1465.62V567H1466.19V564.6H1466.76V567.1H1467.33V563.9H1467.91V567.1H1468.48V565.4H1469.05V565.7H1469.62V566.8H1470.19V567.9H1470.76V566.5H1471.34V567.2H1471.91V565.5H1472.48V565.4H1473.05V566.8H1473.62V569.2H1474.19V566.9H1474.77V567.8H1475.34V568H1475.91V570H1476.48V564.4H1477.05V566.8H1477.62V566.2H1478.2V568.9H1478.77V564.5H1479.34V566.5H1479.91V568.2H1480.48V567H1481.05V566.9H1481.62V569.4H1482.2V566.9H1482.77V557H1483.34V558.8H1483.91V559.2H1484.48V556.4H1485.05V496.25ZM1486.2 496.25V556.6H1486.77V557.9H1487.34V559.6H1487.91V560.8H1488.48V561H1489.06V558.6H1489.63V561.4H1490.2V558.9H1490.77V557.4H1491.34V557.5H1491.91V556.7H1492.49V561.8H1493.06V559.5H1493.63V559.7H1494.2V561H1494.77V559.9H1495.34V560.4H1495.91V558.1H1496.49V563.6H1497.06V564.7H1497.63V563H1498.2V564.2H1498.77V568.1H1499.34V563.8H1499.92V563.4H1500.49V565.1H1501.06V564.6H1501.63V563.6H1502.2V565.9H1502.77V564.1H1503.35V567.4H1503.92V568H1504.49V569.5H1505.06V566.5H1505.63V564.6H1506.2V565.5H1506.78V569.2H1507.35V566.9H1507.92V559.8H1508.49V558.9H1509.06V563.1H1509.63V558.8H1510.2V496.25Z" fill="#a62629"/>
<path d="M440.17 496.25V529.6H440.74V531.2H441.31V536.8H441.88V531.1H442.46V536H443.03V530.9H443.6V530.2H444.17V529.6H444.74V530.4H445.31V531.6H445.89V535.4H446.46V528.6H447.03V529.8H447.6V529.9H448.17V531.7H448.74V510.3H449.31V506.7H449.89V513.1H450.46V514H451.03V510.4H451.6V504.5H452.17V508H452.74V511.8H453.32V512.1H453.89V514.2H454.46V512.9H455.03V511.7H455.6V497.3H456.17V519.7H456.75V498H457.32V522H458.46V517.8H459.03V526.3H459.6V518.8H460.18V503.8H460.75V501.7H461.32V503.2H461.89V504.5H462.46V507.6H463.03V504.6H463.6V501.6H464.18V504.1H464.75V504H465.32V504.8H465.89V505.2H466.46V502.8H467.03V503.9H467.61V501.6H468.18V504.1H468.75V500.3H469.32V500.7H469.89V503.3H470.46V501.4H471.04V496.25ZM476.18 496.25V530.3H476.75V532.2H477.32V537.3H477.89V535H478.47V529.9H479.04V535.5H479.61V533.7H480.18V532.7H480.75V530.5H481.32V530.8H481.9V532.8H482.47V531.2H483.04V540.1H483.61V532.8H484.18V532H484.75V535.4H485.33V537H485.9V515.2H486.47V524.6H487.04V521H487.61V526.6H488.18V520.8H488.76V519H489.33V519.5H489.9V518H490.47V522.6H491.04V518.3H492.18V523.2H492.76V516.1H493.33V517.4H493.9V517.9H494.47V518.2H495.04V516H495.61V514.8H496.19V516.1H496.76V511.8H497.33V515.4H497.9V510.9H498.47V511.1H499.04V518.4H499.62V512.4H500.19V496.25ZM502.47 496.25V529H503.05V528.2H503.62V526.8H504.19V527.9H504.76V527.1H505.33V525H505.9V527.6H506.47V528H507.05V528.4H507.62V526.7H508.19V529.8H508.76V526.2H509.33V527.4H509.9V531.9H510.48V527.9H511.05V527.8H511.62V528.8H512.19V529H512.76V531.2H513.33V528.2H513.91V529.6H514.48V528.6H515.05V528.7H515.62V529.4H516.19V527.2H516.76V531.8H517.34V527.5H517.91V527.8H518.48V528.1H520.19V525.9H520.76V524.4H521.34V524.6H521.91V525.9H522.48V527.8H523.05V527.9H523.62V530.1H524.19V527.4H524.77V528.3H525.34V534.9H525.91V531.8H526.48V531.2H527.05V531.7H527.62V529.2H528.2V530.2H528.77V530.9H529.34V534.5H529.91V529.5H530.48V533.3H531.05V533.2H531.63V531.9H532.2V531.7H532.77V531H533.34V530.9H533.91V533.8H534.48V532.7H535.05V532.3H535.63V530.5H536.2V531.3H536.77V533.1H537.34V531.4H537.91V533.4H538.48V538.4H539.06V529.9H539.63V533.8H540.2V532.1H540.77V529.7H541.34V532H541.91V530.2H542.49V533.3H543.06V531.5H543.63V532.1H544.2V534.1H544.77V530.5H545.34V533.3H545.92V534.4H546.49V533.9H547.06V531.8H547.63V533.8H548.2V539.5H548.77V531.6H549.34V535.9H549.92V533.6H550.49V532.9H551.06V532.4H551.63V535.1H552.2V531.7H552.77V533.7H553.35V530.8H553.92V528.7H554.49V512.4H555.06V533.9H555.63V499H556.2V496.25ZM784.84 496.25V564.7H785.42V548.2H785.99V549.1H786.56V549.2H787.13V547.3H787.7V545.2H788.27V546.3H788.85V551H789.42V545.1H789.99V545.2H790.56V542.5H791.13V541H791.7V541.3H792.27V543.6H792.85V542.2H793.42V545.5H793.99V545.3H794.56V545.1H795.13V548.2H795.7V551.2H796.28V548.2H796.85V554.2H797.42V551.6H797.99V551.4H798.56V553.4H799.13V550.9H799.71V554.1H800.28V553.9H800.85V551H801.42V551.4H801.99V552.4H802.56V553.8H803.14V555.3H803.71V496.25Z" fill="#a01c1f"/>
<path d="M295.84 496.25V523.17M296.41 496.25V531.71M297.56 496.25V527.02M298.13 496.25V524.02M298.7 496.25V527.78M299.27 496.25V523.86M300.41 496.25V523M301.56 496.25V521.26M302.7 496.25V526.41M303.27 496.25V525.37M306.7 496.25V521M308.42 496.25V522.44M311.27 496.25V521.71M311.85 496.25V523.22M312.42 496.25V520.58M312.99 496.25V525.05M314.7 496.25V520.81M316.99 496.25V525.21M318.7 496.25V522.56M325.56 496.25V523.43M326.71 496.25V522.68M327.85 496.25V523.04M329.56 496.25V528.38M331.85 496.25V525.32M335.85 496.25V529.08M336.42 496.25V528M337.57 496.25V524.43M338.14 496.25V522.69M338.71 496.25V526.11M341 496.25V529.21M342.14 496.25V529.85M342.71 496.25V529.81M343.28 496.25V527.52M346.71 496.25V526.98M347.28 496.25V528.01M348.43 496.25V532.06M350.14 496.25V531.52M351.29 496.25V526.42M354.14 496.25V529.39M354.72 496.25V529.12M356.43 496.25V530.31M357.57 496.25V528.99M362.15 496.25V526.64M365 496.25V531.05M365.58 496.25V529.28M367.29 496.25V525.35M369.58 496.25V524.84M370.15 496.25V526.57M370.72 496.25V527.4M373.01 496.25V526.38M373.58 496.25V529.35M374.15 496.25V529.39M374.72 496.25V528.08M375.86 496.25V530.37M376.44 496.25V529.14M377.01 496.25V530.89M377.58 496.25V527.44M378.72 496.25V526.66M379.87 496.25V528.74M380.44 496.25V529.54M381.01 496.25V527.68M381.58 496.25V530.49M382.15 496.25V533.09M382.72 496.25V529.62M384.44 496.25V527.73M385.58 496.25V528.75M386.15 496.25V530.87M386.72 496.25V525.84M387.87 496.25V529.58M388.44 496.25V527.52M391.3 496.25V527.56M392.44 496.25V526.96M394.73 496.25V528.85M395.87 496.25V526.88M397.59 496.25V527.14M399.87 496.25V532.1M401.01 496.25V529.36M402.16 496.25V527.39M403.87 496.25V526.1M405.02 496.25V526.25M406.73 496.25V525.26M410.16 496.25V525.17M411.88 496.25V525.01M413.02 496.25V527.27M413.59 496.25V528.01M414.16 496.25V529.57M415.3 496.25V523.14M416.45 496.25V529.96M417.02 496.25V528.32M417.59 496.25V529.33M420.45 496.25V527.98M422.16 496.25V532.63M422.74 496.25V528.22M423.31 496.25V528.83M423.88 496.25V527.74M425.59 496.25V527.36M426.17 496.25V531.04M426.74 496.25V531.72M429.02 496.25V527.34M431.31 496.25V530.1M432.45 496.25V528.64M434.17 496.25V530.53M434.74 496.25V528.98M435.31 496.25V530.04M438.17 496.25V530.83M439.31 496.25V535.95M583.36 496.25V521.25M590.21 496.25V536.32M591.93 496.25V535M595.36 496.25V538.87M596.5 496.25V536.85M597.07 496.25V537.24M598.79 496.25V539.75M602.22 496.25V539.85M603.93 496.25V539.63M604.5 496.25V542.74M605.08 496.25V541.25M607.36 496.25V538.96M607.93 496.25V537.94M609.08 496.25V538.41M610.79 496.25V543.92M611.36 496.25V541.2M612.51 496.25V531.03M613.65 496.25V525.55M615.94 496.25V524.6M616.51 496.25V527.58M618.79 496.25V527.08M619.37 496.25V527.14M619.94 496.25V523.32M622.8 496.25V525.99M625.08 496.25V524.61M625.65 496.25V524.22M626.8 496.25V523.83M627.37 496.25V529.98M628.51 496.25V524.65M629.65 496.25V521.5M630.23 496.25V522.84M632.51 496.25V524.29M634.23 496.25V521.79M634.8 496.25V520.35M635.37 496.25V500M636.51 496.25V525.63M637.66 496.25V530.35M638.23 496.25V525.03M638.8 496.25V528.85M639.37 496.25V527.16M639.94 496.25V527.67M641.09 496.25V537.28M643.37 496.25V557.21M643.94 496.25V557.43M648.52 496.25V562.87M651.38 496.25V559.44M651.95 496.25V560.24M652.52 496.25V559.77M655.95 496.25V557.76M656.52 496.25V560.28M657.66 496.25V557.74M658.81 496.25V561.34M659.38 496.25V560.62M663.95 496.25V561.3M664.52 496.25V557.69M666.24 496.25V558.08M667.95 496.25V560.81M671.38 496.25V525.24M671.95 496.25V526.75M675.95 496.25V525.66M679.96 496.25V525.25M683.96 496.25V532.52M684.53 496.25V526.94M685.1 496.25V526.19M688.53 496.25V527.19M690.24 496.25V523.62M690.82 496.25V524.89M691.39 496.25V525.66M693.67 496.25V524.94M695.39 496.25V523.7M695.96 496.25V522.78M698.25 496.25V526M698.82 496.25V523.97M699.96 496.25V523.82M700.53 496.25V524.66M701.1 496.25V526.52M703.39 496.25V522.62M704.53 496.25V523.65M706.25 496.25V521.52M706.82 496.25V522.44M707.96 496.25V522.05" stroke="#fff" stroke-opacity="0.24" stroke-width="0.6" fill="none"/>
<path d="M708.54 496.25V521.28M709.11 496.25V526.13M712.54 496.25V523.72M713.11 496.25V523.23M714.82 496.25V523.76M715.97 496.25V525.78M716.54 496.25V522.13M718.82 496.25V524.76M719.97 496.25V525.02M721.11 496.25V525.93M723.97 496.25V528.95M726.83 496.25V533.15M727.97 496.25V531.56M729.68 496.25V537.15M730.26 496.25V539.07M731.97 496.25V538.43M736.54 496.25V539.54M737.12 496.25V532.89M739.4 496.25V531.78M741.12 496.25V534.03M742.26 496.25V530.07M743.97 496.25V533.05M745.12 496.25V528.04M745.69 496.25V527.62M746.26 496.25V529.41M836 496.25V574.85M838.29 496.25V581.81M838.86 496.25V577.59M840 496.25V580.06M840.58 496.25V576.75M841.15 496.25V577.74M841.72 496.25V578.22M844 496.25V577.67M845.72 496.25V586.44M846.86 496.25V578.66M847.43 496.25V581.18M848.01 496.25V577.14M850.86 496.25V578.41M852.58 496.25V580.44M853.15 496.25V585.78M854.87 496.25V578.35M858.29 496.25V573.98M860.58 496.25V575.75M862.3 496.25V577.27M862.87 496.25V582.65M863.44 496.25V577.04M864.01 496.25V576.87M864.58 496.25V578.68M867.44 496.25V581.04M869.16 496.25V576.53M870.3 496.25V576.6M871.44 496.25V575.13M872.01 496.25V577.38M873.73 496.25V578.83M874.3 496.25V574.75M875.44 496.25V573.5M878.3 496.25V576.39M878.87 496.25V575.44M879.44 496.25V578.63M881.16 496.25V574.75M881.73 496.25V577.07M882.3 496.25V575.9M882.87 496.25V578.05M886.87 496.25V579.92M887.45 496.25V579.26M888.02 496.25V577.88M889.73 496.25V579.96M890.3 496.25V575.34M890.88 496.25V581.37M1090.94 496.25V589.96M1092.08 496.25V591.78M1093.79 496.25V588.89M1094.37 496.25V588.66M1094.94 496.25V591.34M1095.51 496.25V590.62M1097.22 496.25V588.5M1097.8 496.25V587.46M1098.37 496.25V589.07M1098.94 496.25V589.31M1099.51 496.25V593.45M1100.65 496.25V590.83M1102.37 496.25V586.71M1102.94 496.25V588.73M1103.51 496.25V588.58M1104.65 496.25V587.43M1105.23 496.25V510M1105.8 496.25V587.74M1108.08 496.25V586.9M1112.09 496.25V588.19M1112.66 496.25V584.96M1113.23 496.25V588.12M1114.94 496.25V590.48M1116.66 496.25V584.88M1117.23 496.25V585.23M1118.37 496.25V584.15M1119.52 496.25V584.75M1120.09 496.25V582.06M1120.66 496.25V580.27M1121.23 496.25V579.63M1121.8 496.25V577.53M1122.37 496.25V581.65M1122.95 496.25V576.05M1124.09 496.25V578.53M1124.66 496.25V581.54M1143.52 496.25V585.08M1144.09 496.25V587.48M1145.81 496.25V586.17M1147.52 496.25V585.51M1148.1 496.25V586.41M1148.67 496.25V591.24M1152.67 496.25V588.44M1153.24 496.25V585.12M1153.81 496.25V583.67M1156.67 496.25V589.3M1157.81 496.25V586.99M1158.96 496.25V584.62M1160.1 496.25V585.8M1161.24 496.25V580M1161.81 496.25V587.12M1162.39 496.25V582.85M1163.53 496.25V584.6M1164.1 496.25V582.78M1165.24 496.25V583.29M1165.82 496.25V582.58M1166.39 496.25V591.06M1166.96 496.25V585.24M1168.67 496.25V583.76M1169.82 496.25V583.28M1172.67 496.25V585.24M1173.25 496.25V583.35M1174.96 496.25V585.32M1175.53 496.25V582.34M1176.68 496.25V587.54M1178.96 496.25V585.72M1181.25 496.25V585.15M1182.96 496.25V584.34M1183.54 496.25V591.49M1184.11 496.25V584.82M1185.25 496.25V582.37M1185.82 496.25V590.06M1189.25 496.25V584.09M1189.82 496.25V585.56M1190.39 496.25V582.63M1192.11 496.25V583.73M1193.25 496.25V582.02M1194.4 496.25V586.54M1195.54 496.25V582.75M1196.11 496.25V583.83M1197.83 496.25V581.69M1199.54 496.25V590.28M1204.11 496.25V581.85M1204.68 496.25V578.62M1205.83 496.25V576.68M1206.4 496.25V574.66M1207.54 496.25V576.4M1208.69 496.25V579.55M1209.83 496.25V570.58M1210.4 496.25V571.07M1210.97 496.25V572.7M1212.12 496.25V536M1213.83 496.25V572.08M1214.4 496.25V572.13M1215.54 496.25V572.12M1217.83 496.25V572.1M1218.4 496.25V570.59M1220.69 496.25V572.68M1221.26 496.25V570.27M1223.55 496.25V576.78M1225.26 496.25V572.44M1225.83 496.25V575.7M1226.41 496.25V520M1226.98 496.25V571.97M1228.69 496.25V577.6M1231.55 496.25V573.9M1232.12 496.25V559.74M1235.55 496.25V573.43M1236.12 496.25V573.69M1236.69 496.25V571.83M1237.27 496.25V575.76M1237.84 496.25V572.18M1238.41 496.25V576.95M1238.98 496.25V576.3M1241.27 496.25V578.08M1241.84 496.25V579.59M1243.55 496.25V550M1244.12 496.25V580.31M1245.27 496.25V577.73" stroke="#800000" stroke-opacity="0.24" stroke-width="0.6" fill="none"/>
<path d="M256.4 496.25V514.85M258.69 496.25V518.59M259.83 496.25V518.53M260.97 496.25V521.8M262.12 496.25V521.61M264.4 496.25V523.25M264.97 496.25V521.72M267.26 496.25V521.15M271.83 496.25V522.6M274.69 496.25V526.38M275.26 496.25V525.38M277.55 496.25V527.77M279.26 496.25V528.37M279.84 496.25V529.31M280.98 496.25V526.87M281.55 496.25V530.63M283.27 496.25V529.08M283.84 496.25V528.47M284.98 496.25V528.91M288.41 496.25V529.28M288.98 496.25V532M290.12 496.25V528.11M291.27 496.25V532.68M291.84 496.25V524.73M292.41 496.25V525.52M294.7 496.25V524.02M556.49 496.25V533.17M558.78 496.25V524.53M559.92 496.25V528.13M561.06 496.25V529.8M561.63 496.25V530.81M565.64 496.25V527.57M567.92 496.25V526.19M571.35 496.25V521.5M573.07 496.25V521.85M575.92 496.25V521.74M578.21 496.25V524.57M756.55 496.25V573.83M757.12 496.25V574.07M759.41 496.25V573.05M762.27 496.25V573.75M764.55 496.25V577.89M765.12 496.25V576.02M766.27 496.25V573.94M770.27 496.25V572.86M770.84 496.25V574.91M775.98 496.25V576.08M777.7 496.25V548.82M778.27 496.25V550.11M779.41 496.25V549.67M780.56 496.25V577.57M782.27 496.25V581.11M806.85 496.25V574.13M807.42 496.25V573.05M810.28 496.25V572.6M810.85 496.25V575.12M813.71 496.25V576.98M815.42 496.25V575.43M816 496.25V574.05M816.57 496.25V580.46M817.71 496.25V577.66M822.86 496.25V573.04M825.14 496.25V575.38M825.71 496.25V572.06M827.43 496.25V575.88M892.59 496.25V575.41M893.16 496.25V577.78M893.73 496.25V580.24M896.02 496.25V577.97M896.59 496.25V576.69M899.45 496.25V581.82M900.59 496.25V575.57M905.17 496.25V577.17M909.17 496.25V582.24M912.03 496.25V580.21M913.17 496.25V581.04M914.31 496.25V581.53M917.74 496.25V577.96M919.46 496.25V576.8M926.32 496.25V577.41M927.46 496.25V575.76M929.17 496.25V576.37M929.74 496.25V575.56M930.32 496.25V578.69M931.46 496.25V576.62M932.03 496.25V574.55M934.89 496.25V573.39M937.75 496.25V571.86M939.46 496.25V571.14M940.03 496.25V571.81M941.75 496.25V576.77M942.89 496.25V573.63M943.46 496.25V577.62M944.03 496.25V577.45M950.32 496.25V576.7M950.89 496.25V573.28M952.04 496.25V576.86M953.75 496.25V579.45M954.32 496.25V573.65M955.47 496.25V571.56M956.04 496.25V574.57M957.18 496.25V571.77M958.9 496.25V571.44M959.47 496.25V570.56M962.9 496.25V565.85M966.33 496.25V570.39M970.33 496.25V568.58M970.9 496.25V572.42M974.33 496.25V572.85M974.9 496.25V574.04M975.47 496.25V572.32M976.62 496.25V574.86M978.33 496.25V577.43M980.62 496.25V579.74M981.19 496.25V579.11M981.76 496.25V580.19M982.33 496.25V581.35M982.9 496.25V579.31M984.62 496.25V578.62M985.19 496.25V579.47M992.62 496.25V583.46M993.76 496.25V579.22M998.34 496.25V575.69M1002.34 496.25V579.78M1004.05 496.25V577.44M1004.62 496.25V576.44M1005.2 496.25V579.16M1006.91 496.25V575.4M1008.63 496.25V579.22M1009.2 496.25V579.13M1010.91 496.25V582.64M1012.06 496.25V576.89M1013.2 496.25V578.52M1014.34 496.25V580.55M1021.77 496.25V575.79M1023.49 496.25V576.13M1026.92 496.25V578.6M1027.49 496.25V577.45M1029.77 496.25V578.71M1030.92 496.25V579.35M1032.06 496.25V576.94M1032.63 496.25V575.6M1033.78 496.25V575.24M1034.35 496.25V573.66M1034.92 496.25V577.65M1037.21 496.25V575.47M1039.49 496.25V577.9M1040.06 496.25V582.88M1041.78 496.25V576.44M1042.92 496.25V576.78M1044.64 496.25V576.12M1046.35 496.25V576.21M1046.92 496.25V575.85M1048.07 496.25V574.78M1048.64 496.25V576.64M1049.78 496.25V578.2M1050.92 496.25V573.52M1053.21 496.25V579.8M1054.35 496.25V575.88M1057.78 496.25V575.44M1060.64 496.25V574.51M1064.07 496.25V574.67M1070.93 496.25V575.61M1072.64 496.25V573.23" stroke="#fff" stroke-opacity="0.18" stroke-width="0.6" fill="none"/>
<path d="M1076.65 496.25V574.38M1077.79 496.25V574.14M1078.93 496.25V571.89M1130.95 496.25V585.67M1132.66 496.25V586.37M1134.38 496.25V590.51M1137.81 496.25V587.27M1140.67 496.25V583.47M1247.55 496.25V579.58M1249.27 496.25V578.34M1249.84 496.25V583.26M1250.41 496.25V579.39M1252.13 496.25V579.73M1252.7 496.25V577.35M1256.13 496.25V582.13M1258.99 496.25V580.86M1260.13 496.25V582.68M1261.27 496.25V584.37M1261.84 496.25V584.55M1264.13 496.25V582.87M1266.42 496.25V583.21M1266.99 496.25V584.01M1267.56 496.25V583.88M1268.13 496.25V581.13M1269.28 496.25V581.45M1269.85 496.25V584.25M1271.56 496.25V582.84M1272.7 496.25V583.33M1273.28 496.25V582.66M1277.28 496.25V583.05M1277.85 496.25V587.93M1279.56 496.25V583.76M1282.99 496.25V582.51M1283.57 496.25V587.37M1285.28 496.25V582.96M1286.42 496.25V584.28M1291.57 496.25V587.81M1292.71 496.25V583.59M1293.85 496.25V583.52M1294.43 496.25V582.49M1295 496.25V583.62M1296.71 496.25V582.63M1297.28 496.25V581.02M1301.86 496.25V581.25M1303.57 496.25V582.49M1307.57 496.25V579.86M1308.14 496.25V585.57M1308.72 496.25V582.35M1309.86 496.25V581.82M1310.43 496.25V583.15M1311.57 496.25V582.36M1312.72 496.25V581.86M1313.29 496.25V581.67M1315 496.25V583.38M1315.57 496.25V582.46M1316.15 496.25V585.39M1318.43 496.25V498.5M1323.58 496.25V585.03M1327.01 496.25V585.51M1328.15 496.25V583.56M1328.72 496.25V588.68M1329.29 496.25V583.35M1332.72 496.25V583.18M1333.87 496.25V581.85M1335.58 496.25V584.43M1339.01 496.25V581.13M1339.58 496.25V580.16M1341.3 496.25V580.92M1341.87 496.25V583.88M1342.44 496.25V578.07M1343.01 496.25V579.7M1343.58 496.25V578.9M1347.58 496.25V580M1350.44 496.25V579.92M1353.87 496.25V578.1M1356.16 496.25V576.94M1359.02 496.25V577.16M1361.3 496.25V578.96M1361.87 496.25V583.07M1364.16 496.25V580.62M1365.3 496.25V578.32M1368.16 496.25V576.21M1368.73 496.25V580.76M1369.31 496.25V577.67M1376.74 496.25V583.45M1377.31 496.25V582.28M1378.45 496.25V580.33M1380.17 496.25V584.7M1381.31 496.25V580.28M1382.45 496.25V580.39M1383.6 496.25V584.13M1387.6 496.25V582.42M1388.17 496.25V585.4M1388.74 496.25V585.16M1389.31 496.25V581.45M1391.03 496.25V583.12M1392.17 496.25V583.64M1395.03 496.25V581.4M1401.31 496.25V577.52M1402.46 496.25V576.46M1403.03 496.25V576.96M1405.89 496.25V574.53M1407.03 496.25V579.53M1408.17 496.25V573.44M1408.75 496.25V576.92M1411.03 496.25V575.32M1412.18 496.25V577.04M1413.89 496.25V581.75M1415.03 496.25V576.54M1415.6 496.25V575.65M1416.18 496.25V578.62M1418.46 496.25V578.3M1419.61 496.25V579.54M1420.75 496.25V579.8M1424.18 496.25V577.92M1425.32 496.25V578.81M1425.89 496.25V582.69M1427.04 496.25V578.96M1427.61 496.25V578.41M1429.32 496.25V581.58M1429.89 496.25V584.44M1430.47 496.25V580.47M1431.61 496.25V585.17M1432.75 496.25V580.87M1433.9 496.25V582.95M1436.75 496.25V577.29M1438.47 496.25V580.11M1441.9 496.25V580.89M1445.33 496.25V579.46M1447.04 496.25V580.48M1448.19 496.25V580.12M1449.33 496.25V582.01M1449.9 496.25V575.73M1451.04 496.25V577.3M1451.62 496.25V580.27M1452.19 496.25V579.27M1452.76 496.25V572.52M1454.47 496.25V564.43M1455.62 496.25V565.63M1456.76 496.25V563.02M1457.9 496.25V566.5M1460.19 496.25V563.95M1460.76 496.25V564.7M1462.48 496.25V565.78M1464.19 496.25V571.22M1465.91 496.25V566.98M1467.05 496.25V567.07M1468.19 496.25V567.06M1477.91 496.25V566.21M1479.05 496.25V564.5M1479.62 496.25V566.48M1480.2 496.25V568.19M1481.34 496.25V566.95M1484.77 496.25V556.41M1489.34 496.25V558.6M1492.2 496.25V556.75M1493.34 496.25V559.54M1498.49 496.25V564.19M1499.63 496.25V563.8M1501.34 496.25V564.57M1505.35 496.25V566.49M1505.92 496.25V564.57M1506.49 496.25V565.5M1507.06 496.25V569.24M1508.2 496.25V559.82" stroke="#800000" stroke-opacity="0.18" stroke-width="0.6" fill="none"/>
<path d="M262.91 496.25V488.74h0.69V496.25ZM277.91 496.25V420.77h0.69V496.25ZM292.16 496.25V433.29h0.69V496.25ZM297.16 496.25V430.79h0.69V496.25ZM307.16 496.25V416.93h0.69V496.25ZM319.91 496.25V434.96h0.69V496.25ZM345.91 496.25V470.03h0.69V496.25ZM345.26 496.25V483.73h0.69V496.25ZM371.91 496.25V472.04h0.69V496.25ZM395.91 496.25V443.81h0.69V496.25ZM421.16 496.25V459.51h0.69V496.25ZM433.16 496.25V433.29h0.69V496.25ZM445.12 496.25V452h1.26V496.25ZM466.12 496.25V423.94h1.26V496.25ZM536.16 496.25V446.99h0.69V496.25ZM555.66 496.25V470.03h0.69V496.25ZM570.16 496.25V456.67h0.69V496.25ZM580.16 496.25V419.43h0.69V496.25ZM584.16 496.25V465.02h0.69V496.25ZM587.16 496.25V382.69h0.69V496.25ZM588.16 496.25V426.11h0.69V496.25ZM590.66 496.25V431.12h0.69V496.25ZM586.41 496.25V452.83h0.69V496.25ZM594.16 496.25V487.9h0.69V496.25ZM617.41 496.25V440.47h0.69V496.25ZM635.16 496.25V459.51h0.69V496.25ZM651.66 496.25V490.07h0.69V496.25ZM662.16 496.25V474.54h0.69V496.25ZM775.16 496.25V479.05h0.69V496.25ZM798.91 496.25V472.87h0.69V496.25ZM803.59 496.25V439.97h1.83V496.25ZM828.87 496.25V482.06h1.26V496.25ZM747.91 496.25V472.87h0.69V496.25ZM748.46 496.25V421.1h0.69V496.25ZM749.06 496.25V387.7h0.69V496.25ZM749.66 496.25V376.01h0.69V496.25ZM750.16 496.25V375.01h0.69V496.25ZM750.76 496.25V377.68h0.69V496.25ZM751.36 496.25V381.02h0.69V496.25ZM751.96 496.25V387.7h0.69V496.25ZM752.56 496.25V397.72h0.69V496.25ZM753.16 496.25V409.41h0.69V496.25ZM753.66 496.25V429.45h0.69V496.25ZM754.26 496.25V452.83h0.69V496.25ZM754.86 496.25V482.89h0.69V496.25ZM1038.37 496.25V457h1.26V496.25ZM1080.37 496.25V465.02h1.26V496.25ZM1084.16 496.25V409.41h0.69V496.25ZM1086.91 496.25V387.7h0.69V496.25ZM1087.66 496.25V407.74h0.69V496.25ZM1085.91 496.25V486.23h0.69V496.25ZM1138.91 496.25V446.15h0.69V496.25ZM1485.37 496.25V487.9h1.26V496.25ZM749 496.25V541h0.6V496.25ZM586.2 496.25V540h0.6V496.25ZM1083.5 496.25V577h0.6V496.25ZM846 496.25V586h0.6V496.25ZM910.2 496.25V586.5h0.6V496.25Z" fill="#a51b1e" fill-opacity="1.0"/>
<line x1="194" y1="496.25" x2="1525.75" y2="496.25" stroke="#aaaaaa" stroke-width="3.9" />
<line x1="193.65" y1="351.2" x2="193.65" y2="608" stroke="#111" stroke-width="1.5" />
<line x1="192.9" y1="608" x2="1525.75" y2="608" stroke="#111" stroke-width="1.5" />
<line x1="178.7" y1="362.6" x2="194" y2="362.6" stroke="#1a1a1a" stroke-width="1.3" />
<text x="169.6" y="370.4" font-size="21.8" text-anchor="end" fill="#111" textLength="13.46" lengthAdjust="spacingAndGlyphs" >8</text>
<line x1="178.7" y1="429.4" x2="194" y2="429.4" stroke="#1a1a1a" stroke-width="1.3" />
<text x="169.6" y="437.2" font-size="21.8" text-anchor="end" fill="#111" textLength="13.46" lengthAdjust="spacingAndGlyphs" >4</text>
<line x1="178.7" y1="496.25" x2="194" y2="496.25" stroke="#1a1a1a" stroke-width="1.3" />
<text x="169.6" y="504.05" font-size="21.8" text-anchor="end" fill="#111" textLength="13.46" lengthAdjust="spacingAndGlyphs" >0</text>
<line x1="178.7" y1="563" x2="194" y2="563" stroke="#1a1a1a" stroke-width="1.3" />
<text x="169.6" y="570.8" font-size="21.8" text-anchor="end" fill="#111" textLength="25.85" lengthAdjust="spacingAndGlyphs" >−4</text>
<line x1="256.4" y1="608" x2="256.4" y2="617.5" stroke="#1a1a1a" stroke-width="1.3" />
<line x1="542.2" y1="608" x2="542.2" y2="617.5" stroke="#1a1a1a" stroke-width="1.3" />
<line x1="828" y1="608" x2="828" y2="617.5" stroke="#1a1a1a" stroke-width="1.3" />
<line x1="1113.8" y1="608" x2="1113.8" y2="617.5" stroke="#1a1a1a" stroke-width="1.3" />
<line x1="1399.6" y1="608" x2="1399.6" y2="617.5" stroke="#1a1a1a" stroke-width="1.3" />
<text x="235.03" y="392.5" font-size="25.5" text-anchor="start" fill="#111" textLength="168.6" lengthAdjust="spacingAndGlyphs" >1 AA deletion</text>
<text x="113.9" y="423.27" font-size="26.5" text-anchor="start" fill="#111" textLength="173.68" lengthAdjust="spacingAndGlyphs" transform="rotate(-90 113.9 423.27)" >Enrich2 score</text>
<rect x="256.1" y="645.75" width="39.54" height="245.5" fill="#eeeeee"/>
<rect x="441.6" y="645.75" width="137.76" height="245.5" fill="#eeeeee"/>
<rect x="749.12" y="645.75" width="85.74" height="245.5" fill="#eeeeee"/>
<rect x="891.45" y="645.75" width="188.06" height="245.5" fill="#eeeeee"/>
<rect x="1128.66" y="645.75" width="12.58" height="245.5" fill="#eeeeee"/>
<rect x="1245.84" y="645.75" width="264.08" height="245.5" fill="#eeeeee"/>
<path d="M256.13 733.75V788.38h0.54V733.75ZM256.7 733.75V795.07h0.54V733.75ZM257.27 733.75V799.85h0.54V733.75ZM257.84 733.75V801.63h0.54V733.75ZM258.41 733.75V797.51h0.54V733.75ZM258.99 733.75V798.14h0.54V733.75ZM259.56 733.75V804.71h0.54V733.75ZM260.13 733.75V805.02h0.54V733.75ZM260.7 733.75V757.67h0.54V733.75ZM261.27 733.75V773.53h0.54V733.75ZM261.84 733.75V793.95h0.54V733.75ZM262.42 733.75V760.31h0.54V733.75ZM262.99 733.75V819.6h0.54V733.75ZM263.56 733.75V763.71h0.54V733.75ZM264.13 733.75V807.4h0.54V733.75ZM264.7 733.75V762.38h0.54V733.75ZM265.27 733.75V811.39h0.54V733.75ZM265.85 733.75V797.59h0.54V733.75ZM266.42 733.75V805.69h0.54V733.75ZM266.99 733.75V799.68h0.54V733.75ZM267.56 733.75V814.16h0.54V733.75ZM268.13 733.75V812.65h0.54V733.75ZM268.7 733.75V816.01h0.54V733.75ZM269.28 733.75V806.29h0.54V733.75ZM269.85 733.75V810.97h0.54V733.75ZM270.42 733.75V795.38h0.54V733.75ZM270.99 733.75V809.02h0.54V733.75ZM271.56 733.75V805.62h0.54V733.75ZM272.13 733.75V806.68h0.54V733.75ZM272.7 733.75V817.56h0.54V733.75ZM273.28 733.75V815.35h0.54V733.75ZM273.85 733.75V801.5h0.54V733.75ZM274.42 733.75V796.11h0.54V733.75ZM274.99 733.75V810.95h0.54V733.75ZM275.56 733.75V782.1h0.54V733.75ZM276.13 733.75V810.19h0.54V733.75ZM276.71 733.75V798.46h0.54V733.75ZM277.28 733.75V816.96h0.54V733.75ZM277.85 733.75V802.11h0.54V733.75ZM278.42 733.75V809h0.54V733.75ZM278.99 733.75V796.45h0.54V733.75ZM279.56 733.75V811.76h0.54V733.75ZM280.14 733.75V796.09h0.54V733.75ZM280.71 733.75V804.31h0.54V733.75ZM281.28 733.75V787.57h0.54V733.75ZM281.85 733.75V802.97h0.54V733.75ZM282.42 733.75V804.88h0.54V733.75ZM282.99 733.75V794h0.54V733.75ZM283.57 733.75V806.33h0.54V733.75ZM284.14 733.75V800.87h0.54V733.75ZM284.71 733.75V818.48h0.54V733.75ZM285.28 733.75V805.78h0.54V733.75ZM285.85 733.75V818.89h0.54V733.75ZM286.42 733.75V813.02h0.54V733.75ZM286.99 733.75V804.62h0.54V733.75ZM287.57 733.75V811.28h0.54V733.75ZM288.14 733.75V791.28h0.54V733.75ZM288.71 733.75V794.29h0.54V733.75ZM289.28 733.75V813.29h0.54V733.75ZM289.85 733.75V801.29h0.54V733.75ZM290.42 733.75V797.99h0.54V733.75ZM291 733.75V787.52h0.54V733.75ZM291.57 733.75V801.92h0.54V733.75ZM292.14 733.75V799.15h0.54V733.75ZM292.71 733.75V802.34h0.54V733.75ZM293.28 733.75V797.98h0.54V733.75ZM293.85 733.75V813.06h0.54V733.75ZM294.43 733.75V764.98h0.54V733.75ZM295 733.75V794.86h0.54V733.75ZM295.57 733.75V814.91h0.54V733.75ZM296.14 733.75V803.27h0.54V733.75ZM296.71 733.75V801.79h0.54V733.75ZM297.28 733.75V812.61h0.54V733.75ZM297.86 733.75V810.09h0.54V733.75ZM298.43 733.75V805.33h0.54V733.75ZM299 733.75V809.49h0.54V733.75ZM299.57 733.75V811.28h0.54V733.75ZM300.14 733.75V798.04h0.54V733.75ZM300.71 733.75V814.15h0.54V733.75ZM301.28 733.75V810.62h0.54V733.75ZM301.86 733.75V800.54h0.54V733.75ZM302.43 733.75V779.46h0.54V733.75ZM303 733.75V797.84h0.54V733.75ZM303.57 733.75V772.69h0.54V733.75ZM304.14 733.75V806.8h0.54V733.75ZM304.71 733.75V800.18h0.54V733.75ZM305.29 733.75V831.76h0.54V733.75ZM305.86 733.75V802.26h0.54V733.75ZM306.43 733.75V803.57h0.54V733.75ZM307 733.75V807.04h0.54V733.75ZM307.57 733.75V811.17h0.54V733.75ZM308.14 733.75V810.34h0.54V733.75ZM308.72 733.75V796.94h0.54V733.75ZM309.29 733.75V800.8h0.54V733.75ZM309.86 733.75V800.09h0.54V733.75ZM310.43 733.75V797.04h0.54V733.75ZM311 733.75V822.27h0.54V733.75ZM311.57 733.75V812.01h0.54V733.75ZM312.15 733.75V807.3h0.54V733.75ZM312.72 733.75V812.28h0.54V733.75ZM313.29 733.75V808.67h0.54V733.75ZM313.86 733.75V807.5h0.54V733.75ZM314.43 733.75V813.23h0.54V733.75ZM315 733.75V751.92h0.54V733.75ZM315.57 733.75V809.72h0.54V733.75ZM316.15 733.75V791.03h0.54V733.75ZM316.72 733.75V794.7h0.54V733.75ZM317.29 733.75V802.71h0.54V733.75ZM317.86 733.75V801.99h0.54V733.75ZM318.43 733.75V797.44h0.54V733.75ZM319 733.75V792.69h0.54V733.75ZM319.58 733.75V808.77h0.54V733.75ZM320.15 733.75V787.68h0.54V733.75ZM320.72 733.75V807.17h0.54V733.75ZM321.29 733.75V795.04h0.54V733.75ZM321.86 733.75V809h0.54V733.75ZM322.43 733.75V806.53h0.54V733.75ZM323.01 733.75V808.29h0.54V733.75ZM323.58 733.75V797.3h0.54V733.75ZM324.15 733.75V792.85h0.54V733.75ZM324.72 733.75V814.84h0.54V733.75ZM325.29 733.75V795.77h0.54V733.75ZM325.86 733.75V789.46h0.54V733.75ZM326.44 733.75V811.21h0.54V733.75ZM327.01 733.75V791.21h0.54V733.75ZM327.58 733.75V801.57h0.54V733.75ZM328.15 733.75V789.14h0.54V733.75ZM328.72 733.75V769.36h0.54V733.75ZM329.29 733.75V812.93h0.54V733.75ZM329.86 733.75V805.77h0.54V733.75ZM330.44 733.75V798.34h0.54V733.75ZM331.01 733.75V812.33h0.54V733.75ZM331.58 733.75V815.61h0.54V733.75ZM332.15 733.75V810.17h0.54V733.75ZM332.72 733.75V808.08h0.54V733.75ZM333.29 733.75V808.58h0.54V733.75ZM333.87 733.75V791.13h0.54V733.75ZM334.44 733.75V785.69h0.54V733.75ZM335.01 733.75V792.53h0.54V733.75ZM335.58 733.75V810.92h0.54V733.75ZM336.15 733.75V811.38h0.54V733.75ZM336.72 733.75V762.88h0.54V733.75ZM337.3 733.75V794.17h0.54V733.75ZM337.87 733.75V795.2h0.54V733.75ZM338.44 733.75V790.07h0.54V733.75ZM339.01 733.75V796.83h0.54V733.75ZM339.58 733.75V807.42h0.54V733.75ZM340.15 733.75V795.39h0.54V733.75ZM340.73 733.75V809.97h0.54V733.75ZM341.3 733.75V805.77h0.54V733.75ZM341.87 733.75V811.07h0.54V733.75ZM342.44 733.75V809.17h0.54V733.75ZM343.01 733.75V812.12h0.54V733.75ZM343.58 733.75V803.93h0.54V733.75ZM344.15 733.75V803.57h0.54V733.75ZM344.73 733.75V810.69h0.54V733.75ZM345.3 733.75V811.46h0.54V733.75ZM345.87 733.75V774.29h0.54V733.75ZM346.44 733.75V813.77h0.54V733.75ZM347.01 733.75V804.47h0.54V733.75ZM347.58 733.75V804h0.54V733.75ZM348.16 733.75V802.94h0.54V733.75ZM348.73 733.75V800.02h0.54V733.75ZM349.3 733.75V803.34h0.54V733.75ZM349.87 733.75V792.45h0.54V733.75ZM350.44 733.75V813.43h0.54V733.75ZM351.01 733.75V753.22h0.54V733.75ZM351.59 733.75V790.83h0.54V733.75ZM352.16 733.75V795.78h0.54V733.75ZM352.73 733.75V806.79h0.54V733.75ZM353.3 733.75V803h0.54V733.75ZM353.87 733.75V752.62h0.54V733.75ZM354.44 733.75V795.91h0.54V733.75ZM355.02 733.75V802.43h0.54V733.75ZM355.59 733.75V800.14h0.54V733.75ZM356.16 733.75V757.42h0.54V733.75ZM356.73 733.75V804.66h0.54V733.75ZM357.3 733.75V785.2h0.54V733.75ZM357.87 733.75V779.67h0.54V733.75ZM358.44 733.75V790.91h0.54V733.75ZM359.02 733.75V783.72h0.54V733.75ZM359.59 733.75V794.26h0.54V733.75ZM360.16 733.75V799.2h0.54V733.75ZM360.73 733.75V758.16h0.54V733.75ZM361.3 733.75V800.49h0.54V733.75ZM361.87 733.75V758.82h0.54V733.75ZM362.45 733.75V799.74h0.54V733.75ZM363.02 733.75V781.23h0.54V733.75ZM363.59 733.75V789.72h0.54V733.75ZM364.16 733.75V787.76h0.54V733.75ZM364.73 733.75V775.24h0.54V733.75ZM365.3 733.75V796.3h0.54V733.75ZM365.88 733.75V785.64h0.54V733.75ZM366.45 733.75V778.43h0.54V733.75ZM367.02 733.75V790.93h0.54V733.75ZM367.59 733.75V760.29h0.54V733.75ZM368.16 733.75V782.63h0.54V733.75ZM368.73 733.75V788.16h0.54V733.75ZM369.31 733.75V782.65h0.54V733.75ZM369.88 733.75V781.98h0.54V733.75ZM370.45 733.75V792.95h0.54V733.75ZM371.02 733.75V790.7h0.54V733.75ZM371.59 733.75V782.72h0.54V733.75ZM372.16 733.75V786.85h0.54V733.75ZM372.73 733.75V786.43h0.54V733.75ZM373.31 733.75V797.88h0.54V733.75ZM373.88 733.75V790.48h0.54V733.75ZM374.45 733.75V785.77h0.54V733.75ZM375.02 733.75V789.11h0.54V733.75ZM375.59 733.75V785.43h0.54V733.75ZM376.16 733.75V776.28h0.54V733.75ZM376.74 733.75V788.97h0.54V733.75ZM377.31 733.75V784.31h0.54V733.75ZM377.88 733.75V791.98h0.54V733.75ZM378.45 733.75V792.84h0.54V733.75ZM379.02 733.75V789.34h0.54V733.75ZM379.59 733.75V799.11h0.54V733.75ZM380.17 733.75V789.84h0.54V733.75ZM380.74 733.75V760.31h0.54V733.75ZM381.31 733.75V786.7h0.54V733.75ZM381.88 733.75V778.86h0.54V733.75ZM382.45 733.75V796.38h0.54V733.75ZM383.02 733.75V787.61h0.54V733.75ZM383.6 733.75V805.19h0.54V733.75ZM384.17 733.75V803.77h0.54V733.75ZM384.74 733.75V797.98h0.54V733.75ZM385.31 733.75V808.01h0.54V733.75ZM385.88 733.75V794.2h0.54V733.75ZM386.45 733.75V800.64h0.54V733.75ZM387.02 733.75V800.84h0.54V733.75ZM387.6 733.75V799.12h0.54V733.75ZM388.17 733.75V761.44h0.54V733.75ZM388.74 733.75V796.59h0.54V733.75ZM389.31 733.75V788.73h0.54V733.75ZM389.88 733.75V787.31h0.54V733.75ZM390.45 733.75V801.04h0.54V733.75ZM391.03 733.75V787.58h0.54V733.75ZM391.6 733.75V783.92h0.54V733.75ZM392.17 733.75V793.26h0.54V733.75ZM392.74 733.75V793.27h0.54V733.75ZM393.31 733.75V798.84h0.54V733.75ZM393.88 733.75V783.75h0.54V733.75ZM394.46 733.75V781.29h0.54V733.75ZM395.03 733.75V811.71h0.54V733.75ZM395.6 733.75V791.58h0.54V733.75ZM396.17 733.75V793.42h0.54V733.75ZM396.74 733.75V803.43h0.54V733.75ZM397.31 733.75V799.85h0.54V733.75ZM397.89 733.75V769.86h0.54V733.75ZM398.46 733.75V755.72h0.54V733.75ZM399.03 733.75V787.25h0.54V733.75ZM399.6 733.75V803.83h0.54V733.75ZM400.17 733.75V791.38h0.54V733.75ZM400.74 733.75V751.28h0.54V733.75ZM401.31 733.75V800.4h0.54V733.75ZM401.89 733.75V800.93h0.54V733.75ZM402.46 733.75V786.25h0.54V733.75ZM403.03 733.75V798.42h0.54V733.75ZM403.6 733.75V792.69h0.54V733.75ZM404.17 733.75V793.28h0.54V733.75ZM404.74 733.75V803.77h0.54V733.75ZM405.32 733.75V760.73h0.54V733.75ZM405.89 733.75V789.5h0.54V733.75ZM406.46 733.75V787.91h0.54V733.75ZM407.03 733.75V796.82h0.54V733.75ZM407.6 733.75V805.31h0.54V733.75ZM408.17 733.75V787.23h0.54V733.75ZM408.75 733.75V756.68h0.54V733.75ZM409.32 733.75V780.52h0.54V733.75ZM409.89 733.75V793.95h0.54V733.75ZM410.46 733.75V794.51h0.54V733.75ZM411.03 733.75V806.24h0.54V733.75ZM411.6 733.75V803.52h0.54V733.75ZM412.18 733.75V800.67h0.54V733.75ZM412.75 733.75V805.32h0.54V733.75ZM413.32 733.75V815.44h0.54V733.75ZM413.89 733.75V805.56h0.54V733.75ZM414.46 733.75V809.45h0.54V733.75ZM415.03 733.75V804.16h0.54V733.75ZM415.6 733.75V799.36h0.54V733.75ZM416.18 733.75V799.72h0.54V733.75ZM416.75 733.75V757.57h0.54V733.75ZM417.32 733.75V809.58h0.54V733.75ZM417.89 733.75V802.22h0.54V733.75ZM418.46 733.75V804.29h0.54V733.75ZM419.03 733.75V807.11h0.54V733.75ZM419.61 733.75V790.97h0.54V733.75ZM420.18 733.75V816.61h0.54V733.75ZM420.75 733.75V813.44h0.54V733.75ZM421.32 733.75V762.1h0.54V733.75ZM421.89 733.75V806.05h0.54V733.75ZM422.46 733.75V807.34h0.54V733.75ZM423.04 733.75V806.86h0.54V733.75ZM423.61 733.75V809.59h0.54V733.75ZM424.18 733.75V805.77h0.54V733.75ZM424.75 733.75V817.59h0.54V733.75ZM425.32 733.75V810.13h0.54V733.75ZM425.89 733.75V808.86h0.54V733.75ZM426.47 733.75V794.98h0.54V733.75ZM427.04 733.75V793.19h0.54V733.75ZM427.61 733.75V798.71h0.54V733.75ZM428.18 733.75V809.49h0.54V733.75ZM428.75 733.75V795.89h0.54V733.75ZM429.32 733.75V806.66h0.54V733.75ZM429.89 733.75V804.6h0.54V733.75ZM430.47 733.75V811.84h0.54V733.75ZM431.04 733.75V805.1h0.54V733.75ZM431.61 733.75V771.34h0.54V733.75ZM432.18 733.75V793.21h0.54V733.75ZM432.75 733.75V829.62h0.54V733.75ZM433.32 733.75V804.46h0.54V733.75ZM433.9 733.75V810.97h0.54V733.75ZM434.47 733.75V801.22h0.54V733.75ZM435.04 733.75V804.58h0.54V733.75ZM435.61 733.75V812.09h0.54V733.75ZM436.18 733.75V819.38h0.54V733.75ZM436.75 733.75V818.09h0.54V733.75ZM437.33 733.75V806.22h0.54V733.75ZM437.9 733.75V821.16h0.54V733.75ZM438.47 733.75V824.97h0.54V733.75ZM439.04 733.75V821.86h0.54V733.75ZM439.61 733.75V842.12h0.54V733.75ZM556.22 733.75V817.15h0.54V733.75ZM556.79 733.75V812.53h0.54V733.75ZM557.36 733.75V807.44h0.54V733.75ZM557.93 733.75V808.1h0.54V733.75ZM558.5 733.75V799.2h0.54V733.75ZM559.08 733.75V816.15h0.54V733.75ZM559.65 733.75V810.5h0.54V733.75ZM560.22 733.75V802.26h0.54V733.75ZM560.79 733.75V812.31h0.54V733.75ZM561.36 733.75V808.8h0.54V733.75ZM561.93 733.75V807.74h0.54V733.75ZM562.51 733.75V797.14h0.54V733.75ZM563.08 733.75V811.3h0.54V733.75ZM563.65 733.75V813.31h0.54V733.75ZM564.22 733.75V822.4h0.54V733.75ZM564.79 733.75V804.49h0.54V733.75ZM565.36 733.75V808.85h0.54V733.75ZM565.94 733.75V815.2h0.54V733.75ZM566.51 733.75V806.59h0.54V733.75ZM567.08 733.75V803.91h0.54V733.75ZM567.65 733.75V811.15h0.54V733.75ZM568.22 733.75V811.39h0.54V733.75ZM568.79 733.75V801.73h0.54V733.75ZM569.37 733.75V807.88h0.54V733.75ZM569.94 733.75V810.76h0.54V733.75ZM570.51 733.75V804.62h0.54V733.75ZM571.08 733.75V800.73h0.54V733.75ZM571.65 733.75V814.6h0.54V733.75ZM572.22 733.75V795.17h0.54V733.75ZM572.79 733.75V811.02h0.54V733.75ZM573.37 733.75V774.3h0.54V733.75ZM574.51 733.75V824.83h0.54V733.75ZM575.08 733.75V824.02h0.54V733.75ZM575.65 733.75V780.72h0.54V733.75ZM576.22 733.75V825.31h0.54V733.75ZM576.8 733.75V840.35h0.54V733.75ZM577.37 733.75V804.92h0.54V733.75ZM577.94 733.75V889.88h0.54V733.75ZM578.51 733.75V835.46h0.54V733.75ZM579.08 733.75V854.12h0.54V733.75ZM579.65 733.75V864.18h0.54V733.75ZM580.23 733.75V864.13h0.54V733.75ZM580.8 733.75V869.47h0.54V733.75ZM581.37 733.75V801.81h0.54V733.75ZM581.94 733.75V851.21h0.54V733.75ZM582.51 733.75V856.3h0.54V733.75ZM583.08 733.75V847.28h0.54V733.75ZM583.66 733.75V782.63h0.54V733.75ZM584.23 733.75V831.21h0.54V733.75ZM584.8 733.75V857h0.54V733.75ZM585.37 733.75V840.63h0.54V733.75ZM585.94 733.75V849.15h0.54V733.75ZM586.51 733.75V830.84h0.54V733.75ZM587.08 733.75V828.1h0.54V733.75ZM587.66 733.75V808.91h0.54V733.75ZM588.23 733.75V824.52h0.54V733.75ZM588.8 733.75V868.44h0.54V733.75ZM589.37 733.75V876.55h0.54V733.75ZM589.94 733.75V857.42h0.54V733.75ZM590.51 733.75V829.45h0.54V733.75ZM591.09 733.75V831.41h0.54V733.75ZM591.66 733.75V865.31h0.54V733.75ZM592.23 733.75V844.65h0.54V733.75ZM592.8 733.75V856.44h0.54V733.75ZM593.37 733.75V890.5h0.54V733.75ZM593.94 733.75V879.14h0.54V733.75ZM594.52 733.75V869.73h0.54V733.75ZM595.09 733.75V797.77h0.54V733.75ZM595.66 733.75V848.03h0.54V733.75ZM596.23 733.75V771.32h0.54V733.75ZM596.8 733.75V780.88h0.54V733.75ZM597.37 733.75V865.14h0.54V733.75ZM597.95 733.75V838.37h0.54V733.75ZM598.52 733.75V774.48h0.54V733.75ZM599.09 733.75V856.4h0.54V733.75ZM599.66 733.75V852.78h0.54V733.75ZM600.23 733.75V820.51h0.54V733.75ZM600.8 733.75V857.89h0.54V733.75ZM601.37 733.75V865.81h0.54V733.75ZM601.95 733.75V849.85h0.54V733.75ZM602.52 733.75V851.72h0.54V733.75ZM603.09 733.75V822.95h0.54V733.75ZM603.66 733.75V860.01h0.54V733.75ZM604.23 733.75V843.73h0.54V733.75ZM604.8 733.75V848.47h0.54V733.75ZM605.38 733.75V833.92h0.54V733.75ZM605.95 733.75V834.21h0.54V733.75ZM606.52 733.75V776.94h0.54V733.75ZM607.09 733.75V856.38h0.54V733.75ZM607.66 733.75V837.24h0.54V733.75ZM608.23 733.75V826.82h0.54V733.75ZM608.81 733.75V844.57h0.54V733.75ZM609.38 733.75V834.23h0.54V733.75ZM609.95 733.75V842.88h0.54V733.75ZM610.52 733.75V787.51h0.54V733.75ZM611.09 733.75V845.77h0.54V733.75ZM611.66 733.75V842.36h0.54V733.75ZM612.24 733.75V849.51h0.54V733.75ZM612.81 733.75V847.04h0.54V733.75ZM613.38 733.75V830.37h0.54V733.75ZM613.95 733.75V781.18h0.54V733.75ZM614.52 733.75V842.1h0.54V733.75ZM615.09 733.75V835.21h0.54V733.75ZM615.66 733.75V829.33h0.54V733.75ZM616.24 733.75V831.38h0.54V733.75ZM616.81 733.75V843.85h0.54V733.75ZM617.38 733.75V844.61h0.54V733.75ZM617.95 733.75V841.64h0.54V733.75ZM618.52 733.75V809.5h0.54V733.75ZM619.09 733.75V830.91h0.54V733.75ZM619.67 733.75V818.8h0.54V733.75ZM620.24 733.75V819.04h0.54V733.75ZM620.81 733.75V843.28h0.54V733.75ZM621.38 733.75V773.84h0.54V733.75ZM621.95 733.75V840.81h0.54V733.75ZM622.52 733.75V827.56h0.54V733.75ZM623.1 733.75V783.79h0.54V733.75ZM623.67 733.75V827.74h0.54V733.75ZM624.24 733.75V833.54h0.54V733.75ZM624.81 733.75V848.11h0.54V733.75ZM625.38 733.75V806.46h0.54V733.75ZM625.95 733.75V819.51h0.54V733.75ZM626.53 733.75V836.62h0.54V733.75ZM627.1 733.75V798.82h0.54V733.75ZM627.67 733.75V822.77h0.54V733.75ZM628.24 733.75V828.02h0.54V733.75ZM628.81 733.75V823.42h0.54V733.75ZM629.38 733.75V805.23h0.54V733.75ZM629.95 733.75V816.97h0.54V733.75ZM630.53 733.75V814.8h0.54V733.75ZM631.1 733.75V761.75h0.54V733.75ZM631.67 733.75V782.02h0.54V733.75ZM632.24 733.75V787.42h0.54V733.75ZM632.81 733.75V810.89h0.54V733.75ZM633.38 733.75V850.89h0.54V733.75ZM633.96 733.75V822.83h0.54V733.75ZM634.53 733.75V788.38h0.54V733.75ZM635.1 733.75V831.44h0.54V733.75ZM635.67 733.75V823.65h0.54V733.75ZM636.24 733.75V820.39h0.54V733.75ZM636.81 733.75V839.22h0.54V733.75ZM637.39 733.75V836.17h0.54V733.75ZM637.96 733.75V815.16h0.54V733.75ZM638.53 733.75V818.22h0.54V733.75ZM639.1 733.75V844.58h0.54V733.75ZM639.67 733.75V833.01h0.54V733.75ZM640.24 733.75V835.05h0.54V733.75ZM640.82 733.75V792.86h0.54V733.75ZM641.39 733.75V833.99h0.54V733.75ZM641.96 733.75V828.76h0.54V733.75ZM642.53 733.75V834.59h0.54V733.75ZM643.1 733.75V827.28h0.54V733.75ZM643.67 733.75V832.38h0.54V733.75ZM644.24 733.75V822.4h0.54V733.75ZM644.82 733.75V832.35h0.54V733.75ZM645.39 733.75V824.43h0.54V733.75ZM645.96 733.75V791.53h0.54V733.75ZM646.53 733.75V793.41h0.54V733.75ZM647.1 733.75V846.81h0.54V733.75ZM647.67 733.75V833.99h0.54V733.75ZM648.25 733.75V801.08h0.54V733.75ZM648.82 733.75V809.77h0.54V733.75ZM649.39 733.75V783.94h0.54V733.75ZM649.96 733.75V834.66h0.54V733.75ZM650.53 733.75V807.35h0.54V733.75ZM651.1 733.75V840.38h0.54V733.75ZM651.68 733.75V836.6h0.54V733.75ZM652.25 733.75V839.09h0.54V733.75ZM652.82 733.75V822.9h0.54V733.75ZM653.39 733.75V826.52h0.54V733.75ZM653.96 733.75V831.68h0.54V733.75ZM654.53 733.75V841.78h0.54V733.75ZM655.11 733.75V823.7h0.54V733.75ZM655.68 733.75V837.05h0.54V733.75ZM656.25 733.75V833.96h0.54V733.75ZM656.82 733.75V841.18h0.54V733.75ZM657.39 733.75V800.81h0.54V733.75ZM657.96 733.75V837.25h0.54V733.75ZM658.53 733.75V837.08h0.54V733.75ZM659.11 733.75V787.12h0.54V733.75ZM659.68 733.75V815.13h0.54V733.75ZM660.25 733.75V821.21h0.54V733.75ZM660.82 733.75V821.35h0.54V733.75ZM661.39 733.75V817.41h0.54V733.75ZM661.96 733.75V809.8h0.54V733.75ZM662.54 733.75V779.92h0.54V733.75ZM663.11 733.75V829.08h0.54V733.75ZM663.68 733.75V823.66h0.54V733.75ZM664.25 733.75V785.76h0.54V733.75ZM664.82 733.75V835.99h0.54V733.75ZM665.39 733.75V792.18h0.54V733.75ZM665.97 733.75V830.05h0.54V733.75ZM666.54 733.75V844.12h0.54V733.75ZM667.11 733.75V843.37h0.54V733.75ZM667.68 733.75V839.22h0.54V733.75ZM668.25 733.75V830.25h0.54V733.75ZM668.82 733.75V836.76h0.54V733.75ZM669.4 733.75V791.11h0.54V733.75ZM669.97 733.75V827.47h0.54V733.75ZM670.54 733.75V821.79h0.54V733.75ZM671.11 733.75V790.33h0.54V733.75ZM671.68 733.75V827.46h0.54V733.75ZM672.25 733.75V818.53h0.54V733.75ZM672.82 733.75V816.03h0.54V733.75ZM673.4 733.75V772.31h0.54V733.75ZM673.97 733.75V835.64h0.54V733.75ZM674.54 733.75V805.89h0.54V733.75ZM675.11 733.75V801.23h0.54V733.75ZM675.68 733.75V787.27h0.54V733.75ZM676.25 733.75V830.42h0.54V733.75ZM676.83 733.75V852.44h0.54V733.75ZM677.4 733.75V833.64h0.54V733.75ZM677.97 733.75V860.02h0.54V733.75ZM678.54 733.75V840.28h0.54V733.75ZM679.11 733.75V803.1h0.54V733.75ZM679.68 733.75V821.12h0.54V733.75ZM680.26 733.75V825.91h0.54V733.75ZM680.83 733.75V823.04h0.54V733.75ZM681.4 733.75V778.4h0.54V733.75ZM681.97 733.75V822.61h0.54V733.75ZM682.54 733.75V824.53h0.54V733.75ZM683.11 733.75V852.59h0.54V733.75ZM683.69 733.75V782.27h0.54V733.75ZM684.26 733.75V838.35h0.54V733.75ZM684.83 733.75V822.79h0.54V733.75ZM685.4 733.75V796.53h0.54V733.75ZM685.97 733.75V827.33h0.54V733.75ZM686.54 733.75V829.27h0.54V733.75ZM687.11 733.75V839.04h0.54V733.75ZM687.69 733.75V823.63h0.54V733.75ZM688.26 733.75V825.54h0.54V733.75ZM688.83 733.75V837.87h0.54V733.75ZM689.4 733.75V829.25h0.54V733.75ZM689.97 733.75V792.72h0.54V733.75ZM690.54 733.75V828.54h0.54V733.75ZM691.12 733.75V841.42h0.54V733.75ZM691.69 733.75V857.19h0.54V733.75ZM692.26 733.75V798.14h0.54V733.75ZM692.83 733.75V831.98h0.54V733.75ZM693.4 733.75V786.66h0.54V733.75ZM693.97 733.75V845.17h0.54V733.75ZM694.55 733.75V824.41h0.54V733.75ZM695.12 733.75V763.14h0.54V733.75ZM695.69 733.75V837.31h0.54V733.75ZM696.26 733.75V793.56h0.54V733.75ZM696.83 733.75V836.05h0.54V733.75ZM697.4 733.75V829.8h0.54V733.75ZM697.98 733.75V832.26h0.54V733.75ZM698.55 733.75V825.18h0.54V733.75ZM699.12 733.75V840.65h0.54V733.75ZM699.69 733.75V822.7h0.54V733.75ZM700.26 733.75V818.98h0.54V733.75ZM700.83 733.75V846.64h0.54V733.75ZM701.4 733.75V838.98h0.54V733.75ZM701.98 733.75V842.26h0.54V733.75ZM702.55 733.75V825.54h0.54V733.75ZM703.12 733.75V825.1h0.54V733.75ZM703.69 733.75V817.21h0.54V733.75ZM704.26 733.75V829.29h0.54V733.75ZM704.83 733.75V837.35h0.54V733.75ZM705.41 733.75V833.98h0.54V733.75ZM705.98 733.75V806.26h0.54V733.75ZM706.55 733.75V818.39h0.54V733.75ZM707.12 733.75V770.46h0.54V733.75ZM707.69 733.75V827.24h0.54V733.75ZM708.26 733.75V823.71h0.54V733.75ZM708.84 733.75V837.79h0.54V733.75ZM709.41 733.75V832.09h0.54V733.75ZM709.98 733.75V819.84h0.54V733.75ZM710.55 733.75V823.21h0.54V733.75ZM711.12 733.75V833.19h0.54V733.75ZM711.69 733.75V834.87h0.54V733.75ZM712.27 733.75V834.94h0.54V733.75ZM712.84 733.75V821.33h0.54V733.75ZM713.41 733.75V784.12h0.54V733.75ZM713.98 733.75V830.1h0.54V733.75ZM714.55 733.75V836.62h0.54V733.75ZM715.12 733.75V784.53h0.54V733.75ZM715.69 733.75V785.18h0.54V733.75ZM716.27 733.75V778.01h0.54V733.75ZM716.84 733.75V830.25h0.54V733.75ZM717.41 733.75V844h0.54V733.75ZM717.98 733.75V835.17h0.54V733.75ZM718.55 733.75V819.59h0.54V733.75ZM719.12 733.75V837.98h0.54V733.75ZM719.7 733.75V773.45h0.54V733.75ZM720.27 733.75V775.08h0.54V733.75ZM720.84 733.75V844.92h0.54V733.75ZM721.41 733.75V832.94h0.54V733.75ZM721.98 733.75V831.87h0.54V733.75ZM722.55 733.75V837.82h0.54V733.75ZM723.13 733.75V822.81h0.54V733.75ZM723.7 733.75V772.59h0.54V733.75ZM724.27 733.75V836.16h0.54V733.75ZM724.84 733.75V826.11h0.54V733.75ZM725.41 733.75V833.01h0.54V733.75ZM725.98 733.75V840.58h0.54V733.75ZM726.56 733.75V838.99h0.54V733.75ZM727.13 733.75V829.97h0.54V733.75ZM727.7 733.75V822.01h0.54V733.75ZM728.27 733.75V837.61h0.54V733.75ZM728.84 733.75V810.19h0.54V733.75ZM729.41 733.75V816.77h0.54V733.75ZM729.98 733.75V760.37h0.54V733.75ZM730.56 733.75V817.73h0.54V733.75ZM731.13 733.75V817.89h0.54V733.75ZM731.7 733.75V805.45h0.54V733.75ZM732.27 733.75V825.95h0.54V733.75ZM732.84 733.75V825.61h0.54V733.75ZM733.41 733.75V834.95h0.54V733.75ZM733.99 733.75V771.51h0.54V733.75ZM734.56 733.75V811.63h0.54V733.75ZM735.13 733.75V756.94h0.54V733.75ZM735.7 733.75V830.01h0.54V733.75ZM736.27 733.75V825.75h0.54V733.75ZM736.84 733.75V765.54h0.54V733.75ZM737.42 733.75V813.71h0.54V733.75ZM737.99 733.75V812.63h0.54V733.75ZM738.56 733.75V783.03h0.54V733.75ZM739.13 733.75V824.42h0.54V733.75ZM739.7 733.75V827.55h0.54V733.75ZM740.27 733.75V834.6h0.54V733.75ZM740.85 733.75V827.51h0.54V733.75ZM741.42 733.75V758.46h0.54V733.75ZM741.99 733.75V810.96h0.54V733.75ZM742.56 733.75V829.87h0.54V733.75ZM743.13 733.75V822.53h0.54V733.75ZM743.7 733.75V787.37h0.54V733.75ZM744.27 733.75V825.87h0.54V733.75ZM744.85 733.75V783.99h0.54V733.75ZM745.42 733.75V824.72h0.54V733.75ZM745.99 733.75V811.98h0.54V733.75ZM746.56 733.75V815.65h0.54V733.75ZM747.13 733.75V810.37h0.54V733.75ZM748.28 733.75V784.18h0.54V733.75ZM835.16 733.75V770.78h0.54V733.75ZM835.73 733.75V749.09h0.54V733.75ZM836.3 733.75V783.3h0.54V733.75ZM836.87 733.75V790.34h0.54V733.75ZM837.45 733.75V797.32h0.54V733.75ZM838.02 733.75V802.85h0.54V733.75ZM838.59 733.75V808.57h0.54V733.75ZM839.16 733.75V768.7h0.54V733.75ZM839.73 733.75V797.29h0.54V733.75ZM840.3 733.75V803.4h0.54V733.75ZM840.88 733.75V815.4h0.54V733.75ZM841.45 733.75V805.24h0.54V733.75ZM842.02 733.75V807.6h0.54V733.75ZM842.59 733.75V821.13h0.54V733.75ZM843.16 733.75V755.72h0.54V733.75ZM843.73 733.75V797.89h0.54V733.75ZM844.3 733.75V811.59h0.54V733.75ZM844.88 733.75V820.39h0.54V733.75ZM845.45 733.75V803.33h0.54V733.75ZM846.02 733.75V813.92h0.54V733.75ZM846.59 733.75V789.59h0.54V733.75ZM847.16 733.75V804.11h0.54V733.75ZM847.73 733.75V796.09h0.54V733.75ZM848.31 733.75V759.55h0.54V733.75ZM848.88 733.75V816.53h0.54V733.75ZM849.45 733.75V779.05h0.54V733.75ZM850.02 733.75V776.01h0.54V733.75ZM850.59 733.75V786.49h0.54V733.75ZM851.16 733.75V797.46h0.54V733.75ZM851.74 733.75V805.91h0.54V733.75ZM852.31 733.75V798.44h0.54V733.75ZM852.88 733.75V804.08h0.54V733.75ZM853.45 733.75V756.78h0.54V733.75ZM854.02 733.75V811h0.54V733.75ZM854.59 733.75V786.3h0.54V733.75ZM855.17 733.75V773.72h0.54V733.75ZM855.74 733.75V825.75h0.54V733.75ZM856.31 733.75V773.5h0.54V733.75ZM856.88 733.75V813.64h0.54V733.75ZM857.45 733.75V801.37h0.54V733.75ZM858.02 733.75V807.85h0.54V733.75ZM858.59 733.75V791.54h0.54V733.75ZM859.17 733.75V803.37h0.54V733.75ZM859.74 733.75V783.29h0.54V733.75ZM860.31 733.75V805.1h0.54V733.75ZM860.88 733.75V758.55h0.54V733.75ZM861.45 733.75V820.03h0.54V733.75ZM862.02 733.75V790.46h0.54V733.75ZM862.6 733.75V812.59h0.54V733.75ZM863.17 733.75V801.99h0.54V733.75ZM863.74 733.75V815.78h0.54V733.75ZM864.31 733.75V798.71h0.54V733.75ZM864.88 733.75V766.26h0.54V733.75ZM865.45 733.75V820.43h0.54V733.75ZM866.03 733.75V793.82h0.54V733.75ZM866.6 733.75V787.64h0.54V733.75ZM867.17 733.75V817.48h0.54V733.75ZM867.74 733.75V784.74h0.54V733.75ZM868.31 733.75V768.66h0.54V733.75ZM868.88 733.75V815.23h0.54V733.75ZM869.46 733.75V810.27h0.54V733.75ZM870.03 733.75V811.35h0.54V733.75ZM870.6 733.75V809.28h0.54V733.75ZM871.17 733.75V751.77h0.54V733.75ZM871.74 733.75V806.41h0.54V733.75ZM872.31 733.75V751.9h0.54V733.75ZM872.88 733.75V816.26h0.54V733.75ZM873.46 733.75V817.94h0.54V733.75ZM874.03 733.75V805.02h0.54V733.75ZM874.6 733.75V819.14h0.54V733.75ZM875.17 733.75V761.49h0.54V733.75ZM875.74 733.75V802.99h0.54V733.75ZM876.31 733.75V819.84h0.54V733.75ZM876.89 733.75V799.28h0.54V733.75ZM877.46 733.75V769.78h0.54V733.75ZM878.03 733.75V818.99h0.54V733.75ZM878.6 733.75V827.18h0.54V733.75ZM879.17 733.75V805.16h0.54V733.75ZM879.74 733.75V798.1h0.54V733.75ZM880.32 733.75V788.3h0.54V733.75ZM880.89 733.75V760.02h0.54V733.75ZM881.46 733.75V818.53h0.54V733.75ZM882.03 733.75V824.43h0.54V733.75ZM882.6 733.75V808.71h0.54V733.75ZM883.17 733.75V806.68h0.54V733.75ZM883.75 733.75V803.4h0.54V733.75ZM884.32 733.75V801.86h0.54V733.75ZM884.89 733.75V791.49h0.54V733.75ZM885.46 733.75V796.04h0.54V733.75ZM886.03 733.75V799.64h0.54V733.75ZM886.6 733.75V796.19h0.54V733.75ZM887.17 733.75V804.5h0.54V733.75ZM887.75 733.75V791.75h0.54V733.75ZM888.32 733.75V759.37h0.54V733.75ZM1080.95 733.75V762.88h0.54V733.75ZM1081.52 733.75V753.6h0.54V733.75ZM1082.09 733.75V799.97h0.54V733.75ZM1082.66 733.75V795.94h0.54V733.75ZM1083.23 733.75V770.73h0.54V733.75ZM1083.81 733.75V776.26h0.54V733.75ZM1084.38 733.75V800.72h0.54V733.75ZM1084.95 733.75V766.55h0.54V733.75ZM1085.52 733.75V799.17h0.54V733.75ZM1086.09 733.75V806.71h0.54V733.75ZM1086.66 733.75V814.24h0.54V733.75ZM1087.23 733.75V789.82h0.54V733.75ZM1087.81 733.75V809.65h0.54V733.75ZM1088.38 733.75V812.86h0.54V733.75ZM1088.95 733.75V773.88h0.54V733.75ZM1089.52 733.75V801.09h0.54V733.75ZM1090.09 733.75V807.28h0.54V733.75ZM1090.66 733.75V817.89h0.54V733.75ZM1091.24 733.75V763.92h0.54V733.75ZM1091.81 733.75V761.63h0.54V733.75ZM1092.38 733.75V755.47h0.54V733.75ZM1092.95 733.75V814.73h0.54V733.75ZM1093.52 733.75V818.44h0.54V733.75ZM1094.09 733.75V766.75h0.54V733.75ZM1094.67 733.75V812.89h0.54V733.75ZM1095.24 733.75V817.69h0.54V733.75ZM1095.81 733.75V811.53h0.54V733.75ZM1096.38 733.75V817.2h0.54V733.75ZM1096.95 733.75V823.24h0.54V733.75ZM1097.52 733.75V801.86h0.54V733.75ZM1098.1 733.75V814.23h0.54V733.75ZM1098.67 733.75V812h0.54V733.75ZM1099.24 733.75V795.86h0.54V733.75ZM1099.81 733.75V816.83h0.54V733.75ZM1100.38 733.75V817.04h0.54V733.75ZM1100.95 733.75V786.54h0.54V733.75ZM1101.52 733.75V815.09h0.54V733.75ZM1102.1 733.75V778.53h0.54V733.75ZM1102.67 733.75V821.86h0.54V733.75ZM1103.24 733.75V785.47h0.54V733.75ZM1103.81 733.75V756.44h0.54V733.75ZM1104.38 733.75V808.02h0.54V733.75ZM1104.95 733.75V802.43h0.54V733.75ZM1105.53 733.75V793.31h0.54V733.75ZM1106.1 733.75V777.91h0.54V733.75ZM1106.67 733.75V756.82h0.54V733.75ZM1107.24 733.75V795.52h0.54V733.75ZM1107.81 733.75V766.84h0.54V733.75ZM1108.38 733.75V772.68h0.54V733.75ZM1108.96 733.75V766.96h0.54V733.75ZM1109.53 733.75V794.77h0.54V733.75ZM1110.1 733.75V783.62h0.54V733.75ZM1110.67 733.75V787.49h0.54V733.75ZM1111.24 733.75V790.19h0.54V733.75ZM1112.39 733.75V792.41h0.54V733.75ZM1112.96 733.75V790.1h0.54V733.75ZM1113.53 733.75V770.12h0.54V733.75ZM1114.1 733.75V760.78h0.54V733.75ZM1114.67 733.75V795.03h0.54V733.75ZM1115.24 733.75V796.61h0.54V733.75ZM1115.81 733.75V791.7h0.54V733.75ZM1116.39 733.75V779.32h0.54V733.75ZM1116.96 733.75V781.22h0.54V733.75ZM1117.53 733.75V795.57h0.54V733.75ZM1118.1 733.75V810.22h0.54V733.75ZM1118.67 733.75V770.51h0.54V733.75ZM1119.24 733.75V794.69h0.54V733.75ZM1119.82 733.75V795.07h0.54V733.75ZM1120.39 733.75V784.72h0.54V733.75ZM1120.96 733.75V788.77h0.54V733.75ZM1121.53 733.75V793.35h0.54V733.75ZM1122.1 733.75V778.87h0.54V733.75ZM1122.67 733.75V784.22h0.54V733.75ZM1123.25 733.75V787.02h0.54V733.75ZM1123.82 733.75V756.71h0.54V733.75ZM1124.39 733.75V772.8h0.54V733.75ZM1124.96 733.75V812.1h0.54V733.75ZM1125.53 733.75V800.72h0.54V733.75ZM1126.1 733.75V772.42h0.54V733.75ZM1126.68 733.75V810.08h0.54V733.75ZM1127.25 733.75V804.27h0.54V733.75ZM1127.82 733.75V798.18h0.54V733.75ZM1128.39 733.75V776.39h0.54V733.75ZM1128.96 733.75V766.06h0.54V733.75ZM1129.53 733.75V811.35h0.54V733.75ZM1130.1 733.75V795.9h0.54V733.75ZM1130.68 733.75V809.1h0.54V733.75ZM1131.25 733.75V792.74h0.54V733.75ZM1131.82 733.75V790.41h0.54V733.75ZM1132.39 733.75V813.02h0.54V733.75ZM1132.96 733.75V772.27h0.54V733.75ZM1133.53 733.75V785.63h0.54V733.75ZM1134.68 733.75V765.4h0.54V733.75ZM1135.25 733.75V809.9h0.54V733.75ZM1135.82 733.75V820.67h0.54V733.75ZM1136.39 733.75V801.64h0.54V733.75ZM1136.96 733.75V809.89h0.54V733.75ZM1137.54 733.75V776.87h0.54V733.75ZM1138.11 733.75V808.39h0.54V733.75ZM1138.68 733.75V795.15h0.54V733.75ZM1139.25 733.75V785.14h0.54V733.75ZM1139.82 733.75V825.9h0.54V733.75ZM1140.39 733.75V795.99h0.54V733.75ZM1140.97 733.75V775.06h0.54V733.75ZM1141.54 733.75V813.91h0.54V733.75ZM1142.11 733.75V804.08h0.54V733.75ZM1142.68 733.75V788.97h0.54V733.75ZM1143.25 733.75V812.88h0.54V733.75ZM1143.82 733.75V821.25h0.54V733.75ZM1144.39 733.75V817.49h0.54V733.75ZM1144.97 733.75V771.23h0.54V733.75ZM1145.54 733.75V813.88h0.54V733.75ZM1146.11 733.75V763.51h0.54V733.75ZM1146.68 733.75V812.74h0.54V733.75ZM1147.25 733.75V782.08h0.54V733.75ZM1147.82 733.75V796.99h0.54V733.75ZM1148.4 733.75V781.6h0.54V733.75ZM1148.97 733.75V760.83h0.54V733.75ZM1149.54 733.75V798.88h0.54V733.75ZM1150.11 733.75V815.38h0.54V733.75ZM1150.68 733.75V760.99h0.54V733.75ZM1151.25 733.75V804.76h0.54V733.75ZM1151.83 733.75V771.54h0.54V733.75ZM1152.4 733.75V800.91h0.54V733.75ZM1152.97 733.75V798.77h0.54V733.75ZM1153.54 733.75V812.65h0.54V733.75ZM1154.11 733.75V806.73h0.54V733.75ZM1154.68 733.75V811.37h0.54V733.75ZM1155.26 733.75V773.28h0.54V733.75ZM1155.83 733.75V817.06h0.54V733.75ZM1156.4 733.75V766.54h0.54V733.75ZM1156.97 733.75V818.51h0.54V733.75ZM1157.54 733.75V812.69h0.54V733.75ZM1158.11 733.75V797.24h0.54V733.75ZM1158.68 733.75V770.67h0.54V733.75ZM1159.26 733.75V816.73h0.54V733.75ZM1159.83 733.75V818.72h0.54V733.75ZM1160.4 733.75V784.21h0.54V733.75ZM1160.97 733.75V765.97h0.54V733.75ZM1161.54 733.75V816.33h0.54V733.75ZM1162.11 733.75V760.49h0.54V733.75ZM1162.69 733.75V811.4h0.54V733.75ZM1163.26 733.75V810.74h0.54V733.75ZM1163.83 733.75V808.36h0.54V733.75ZM1164.4 733.75V812.44h0.54V733.75ZM1164.97 733.75V805.62h0.54V733.75ZM1165.54 733.75V755.86h0.54V733.75ZM1166.12 733.75V799.18h0.54V733.75ZM1166.69 733.75V809.72h0.54V733.75ZM1167.26 733.75V814.62h0.54V733.75ZM1167.83 733.75V816.63h0.54V733.75ZM1168.4 733.75V796.36h0.54V733.75ZM1168.97 733.75V811.87h0.54V733.75ZM1169.55 733.75V789.78h0.54V733.75ZM1170.12 733.75V818.53h0.54V733.75ZM1170.69 733.75V765.12h0.54V733.75ZM1171.26 733.75V776.33h0.54V733.75ZM1171.83 733.75V755.24h0.54V733.75ZM1172.4 733.75V765.02h0.54V733.75ZM1172.97 733.75V792.01h0.54V733.75ZM1174.12 733.75V760.58h0.54V733.75ZM1174.69 733.75V800.28h0.54V733.75ZM1175.26 733.75V762.18h0.54V733.75ZM1175.83 733.75V763.95h0.54V733.75ZM1176.4 733.75V766.75h0.54V733.75ZM1176.98 733.75V789.09h0.54V733.75ZM1177.55 733.75V808.84h0.54V733.75ZM1178.12 733.75V816.65h0.54V733.75ZM1178.69 733.75V822.92h0.54V733.75ZM1179.26 733.75V818.22h0.54V733.75ZM1179.83 733.75V788.54h0.54V733.75ZM1180.41 733.75V820.33h0.54V733.75ZM1180.98 733.75V800.86h0.54V733.75ZM1181.55 733.75V813.43h0.54V733.75ZM1182.12 733.75V792.41h0.54V733.75ZM1182.69 733.75V760.93h0.54V733.75ZM1183.26 733.75V834.46h0.54V733.75ZM1183.84 733.75V821.61h0.54V733.75ZM1184.41 733.75V824.66h0.54V733.75ZM1184.98 733.75V812.02h0.54V733.75ZM1185.55 733.75V802.75h0.54V733.75ZM1186.12 733.75V821.63h0.54V733.75ZM1186.69 733.75V788.93h0.54V733.75ZM1187.26 733.75V824.88h0.54V733.75ZM1187.84 733.75V801.12h0.54V733.75ZM1188.41 733.75V823.14h0.54V733.75ZM1188.98 733.75V820.61h0.54V733.75ZM1189.55 733.75V790.92h0.54V733.75ZM1190.12 733.75V797.81h0.54V733.75ZM1190.69 733.75V822.34h0.54V733.75ZM1191.27 733.75V764.31h0.54V733.75ZM1191.84 733.75V827.02h0.54V733.75ZM1192.41 733.75V779.33h0.54V733.75ZM1192.98 733.75V806.79h0.54V733.75ZM1193.55 733.75V827.41h0.54V733.75ZM1194.12 733.75V798.23h0.54V733.75ZM1194.7 733.75V766.83h0.54V733.75ZM1195.27 733.75V769.98h0.54V733.75ZM1195.84 733.75V814.91h0.54V733.75ZM1196.41 733.75V814.13h0.54V733.75ZM1197.55 733.75V755.12h0.54V733.75ZM1198.13 733.75V766.93h0.54V733.75ZM1198.7 733.75V821.39h0.54V733.75ZM1199.27 733.75V826.34h0.54V733.75ZM1199.84 733.75V764.59h0.54V733.75ZM1200.41 733.75V797.93h0.54V733.75ZM1200.98 733.75V823.74h0.54V733.75ZM1201.55 733.75V813.65h0.54V733.75ZM1202.13 733.75V801.99h0.54V733.75ZM1202.7 733.75V818.58h0.54V733.75ZM1203.27 733.75V759.56h0.54V733.75ZM1203.84 733.75V801.84h0.54V733.75ZM1204.41 733.75V809.53h0.54V733.75ZM1204.98 733.75V805.95h0.54V733.75ZM1205.56 733.75V805.6h0.54V733.75ZM1206.13 733.75V813.93h0.54V733.75ZM1206.7 733.75V809.86h0.54V733.75ZM1207.27 733.75V794.51h0.54V733.75ZM1207.84 733.75V782.71h0.54V733.75ZM1208.41 733.75V765.65h0.54V733.75ZM1208.99 733.75V824.66h0.54V733.75ZM1209.56 733.75V799.89h0.54V733.75ZM1210.13 733.75V803.59h0.54V733.75ZM1210.7 733.75V824.13h0.54V733.75ZM1211.27 733.75V778.25h0.54V733.75ZM1211.84 733.75V797.32h0.54V733.75ZM1212.42 733.75V814.81h0.54V733.75ZM1212.99 733.75V782.44h0.54V733.75ZM1213.56 733.75V821.48h0.54V733.75ZM1214.13 733.75V813.86h0.54V733.75ZM1214.7 733.75V800.51h0.54V733.75ZM1215.27 733.75V831.13h0.54V733.75ZM1215.84 733.75V813.59h0.54V733.75ZM1216.42 733.75V807.76h0.54V733.75ZM1216.99 733.75V824.49h0.54V733.75ZM1217.56 733.75V816.88h0.54V733.75ZM1218.13 733.75V792.77h0.54V733.75ZM1218.7 733.75V769.43h0.54V733.75ZM1219.27 733.75V777.27h0.54V733.75ZM1219.85 733.75V824.22h0.54V733.75ZM1220.42 733.75V808.29h0.54V733.75ZM1220.99 733.75V780.91h0.54V733.75ZM1221.56 733.75V820.3h0.54V733.75ZM1222.13 733.75V819.36h0.54V733.75ZM1222.7 733.75V807.84h0.54V733.75ZM1223.28 733.75V760.87h0.54V733.75ZM1223.85 733.75V815.85h0.54V733.75ZM1224.42 733.75V819.23h0.54V733.75ZM1224.99 733.75V821.23h0.54V733.75ZM1225.56 733.75V772.46h0.54V733.75ZM1226.13 733.75V799.09h0.54V733.75ZM1226.71 733.75V823.74h0.54V733.75ZM1227.28 733.75V807.43h0.54V733.75ZM1227.85 733.75V783.66h0.54V733.75ZM1228.42 733.75V791.44h0.54V733.75ZM1228.99 733.75V755.41h0.54V733.75ZM1229.56 733.75V823.94h0.54V733.75ZM1230.13 733.75V784.19h0.54V733.75ZM1230.71 733.75V818.12h0.54V733.75ZM1231.28 733.75V807h0.54V733.75ZM1231.85 733.75V806.27h0.54V733.75ZM1232.42 733.75V821.05h0.54V733.75ZM1232.99 733.75V762.17h0.54V733.75ZM1233.56 733.75V803.26h0.54V733.75ZM1234.14 733.75V769.98h0.54V733.75ZM1234.71 733.75V762.77h0.54V733.75ZM1235.28 733.75V820.18h0.54V733.75ZM1235.85 733.75V814.16h0.54V733.75ZM1236.42 733.75V775.81h0.54V733.75ZM1236.99 733.75V819.87h0.54V733.75ZM1237.57 733.75V779.5h0.54V733.75ZM1238.14 733.75V822.81h0.54V733.75ZM1238.71 733.75V823.27h0.54V733.75ZM1239.28 733.75V759.73h0.54V733.75ZM1239.85 733.75V828.27h0.54V733.75ZM1240.42 733.75V788.81h0.54V733.75ZM1241 733.75V755.56h0.54V733.75ZM1241.57 733.75V828.29h0.54V733.75ZM1242.14 733.75V772.29h0.54V733.75ZM1242.71 733.75V820.28h0.54V733.75ZM1243.28 733.75V815.1h0.54V733.75ZM1243.85 733.75V816.5h0.54V733.75ZM1244.42 733.75V764.9h0.54V733.75ZM1245 733.75V814.45h0.54V733.75ZM1245.57 733.75V805.24h0.54V733.75ZM1246.14 733.75V804.13h0.54V733.75ZM1246.71 733.75V756.64h0.54V733.75ZM1247.28 733.75V790.91h0.54V733.75ZM1247.85 733.75V807.04h0.54V733.75ZM1248.43 733.75V789.48h0.54V733.75ZM1249 733.75V777.99h0.54V733.75ZM1249.57 733.75V793.28h0.54V733.75ZM1250.14 733.75V753.05h0.54V733.75ZM1250.71 733.75V797.63h0.54V733.75Z" fill="#3d752f" fill-opacity="1.0"/>
<path d="M256.4 733.75V788.38M258.69 733.75V797.51M259.26 733.75V798.14M260.4 733.75V805.02M260.97 733.75V757.67M262.12 733.75V793.95M264.4 733.75V807.4M264.97 733.75V762.38M266.12 733.75V797.59M266.69 733.75V805.69M267.83 733.75V814.16M268.4 733.75V812.65M270.69 733.75V795.38M272.4 733.75V806.68M272.98 733.75V817.56M275.83 733.75V782.1M276.41 733.75V810.19M277.55 733.75V816.96M278.12 733.75V802.11M278.69 733.75V809M282.69 733.75V804.88M283.27 733.75V794M283.84 733.75V806.33M286.12 733.75V818.89M288.41 733.75V791.28M288.98 733.75V794.29M296.41 733.75V803.27M300.41 733.75V798.04M300.98 733.75V814.15M302.13 733.75V800.54M304.99 733.75V800.18M307.84 733.75V811.17M308.42 733.75V810.34M317.56 733.75V802.71M318.13 733.75V801.99M318.7 733.75V797.44M319.85 733.75V808.77M325.56 733.75V795.77M328.99 733.75V769.36M329.56 733.75V812.93M330.71 733.75V798.34M331.28 733.75V812.33M331.85 733.75V815.61M332.99 733.75V808.08M337 733.75V762.88M338.14 733.75V795.2M339.28 733.75V796.83M341 733.75V809.97M341.57 733.75V805.77M342.71 733.75V809.17M345 733.75V810.69M346.14 733.75V774.29M347.28 733.75V804.47M347.86 733.75V804M350.71 733.75V813.43M352.43 733.75V795.78M353 733.75V806.79M354.14 733.75V752.62M355.29 733.75V802.43M357 733.75V804.66M357.57 733.75V785.2M358.14 733.75V779.67M358.72 733.75V790.91M359.86 733.75V794.26M362.15 733.75V758.82M362.72 733.75V799.74M363.86 733.75V789.72M365.58 733.75V796.3M366.15 733.75V785.64M366.72 733.75V778.43M367.29 733.75V790.93M370.15 733.75V781.98M376.44 733.75V776.28M377.01 733.75V788.97M377.58 733.75V784.31M383.3 733.75V787.61M385.58 733.75V808.01M386.72 733.75V800.64M387.87 733.75V799.12M391.87 733.75V783.92M393.01 733.75V793.27M393.58 733.75V798.84M396.44 733.75V793.42M397.59 733.75V799.85M399.3 733.75V787.25M399.87 733.75V803.83M403.87 733.75V792.69M407.87 733.75V805.31M409.59 733.75V780.52M410.16 733.75V793.95M411.3 733.75V806.24M411.88 733.75V803.52M412.45 733.75V800.67M413.59 733.75V815.44M414.73 733.75V809.45M417.02 733.75V757.57M419.31 733.75V807.11M420.45 733.75V816.61M422.74 733.75V807.34M426.17 733.75V808.86M426.74 733.75V794.98M429.59 733.75V806.66M431.88 733.75V771.34M432.45 733.75V793.21M433.02 733.75V829.62M435.31 733.75V804.58M435.88 733.75V812.09M437.6 733.75V806.22M556.49 733.75V817.15M558.2 733.75V808.1M563.35 733.75V811.3M565.06 733.75V804.49M567.92 733.75V811.15M568.49 733.75V811.39M569.64 733.75V807.88M570.21 733.75V810.76M570.78 733.75V804.62M576.5 733.75V825.31M579.35 733.75V854.12M581.07 733.75V869.47M583.93 733.75V782.63M586.78 733.75V830.84M587.93 733.75V808.91M590.21 733.75V857.42M592.5 733.75V844.65M594.79 733.75V869.73M597.07 733.75V780.88M598.79 733.75V774.48M605.65 733.75V833.92M606.22 733.75V834.21M606.79 733.75V776.94M609.08 733.75V844.57M614.79 733.75V842.1M615.36 733.75V835.21M618.22 733.75V841.64M620.51 733.75V819.04M623.94 733.75V827.74M625.08 733.75V848.11M627.94 733.75V822.77M628.51 733.75V828.02M629.65 733.75V805.23M631.37 733.75V761.75M637.09 733.75V839.22M637.66 733.75V836.17M638.23 733.75V815.16M640.52 733.75V835.05M641.09 733.75V792.86M642.23 733.75V828.76M642.8 733.75V834.59M643.94 733.75V832.38M645.66 733.75V824.43M646.23 733.75V791.53M646.8 733.75V793.41M647.95 733.75V833.99M649.09 733.75V809.77" stroke="#fff" stroke-opacity="0.24" stroke-width="0.6" fill="none"/>
<path d="M649.66 733.75V783.94M652.52 733.75V839.09M654.23 733.75V831.68M655.38 733.75V823.7M657.09 733.75V841.18M661.09 733.75V821.35M662.24 733.75V809.8M664.52 733.75V785.76M665.09 733.75V835.99M665.67 733.75V792.18M666.81 733.75V844.12M669.67 733.75V791.11M670.24 733.75V827.47M677.67 733.75V833.64M680.53 733.75V825.91M681.67 733.75V778.4M685.1 733.75V822.79M685.67 733.75V796.53M691.39 733.75V841.42M693.1 733.75V831.98M694.25 733.75V845.17M697.68 733.75V829.8M698.25 733.75V832.26M698.82 733.75V825.18M706.25 733.75V806.26M707.96 733.75V827.24M709.68 733.75V832.09M710.25 733.75V819.84M710.82 733.75V823.21M713.11 733.75V821.33M714.25 733.75V830.1M715.97 733.75V785.18M716.54 733.75V778.01M719.4 733.75V837.98M720.54 733.75V775.08M723.4 733.75V822.81M723.97 733.75V772.59M725.11 733.75V826.11M728.54 733.75V837.61M731.97 733.75V805.45M735.97 733.75V830.01M737.69 733.75V813.71M742.83 733.75V829.87M746.26 733.75V811.98M835.43 733.75V770.78M836.57 733.75V783.3M839.43 733.75V768.7M840.58 733.75V803.4M841.15 733.75V815.4M845.15 733.75V820.39M848.01 733.75V796.09M852.01 733.75V805.91M852.58 733.75V798.44M856.58 733.75V773.5M858.87 733.75V791.54M859.44 733.75V803.37M863.44 733.75V801.99M868.01 733.75V784.74M868.58 733.75V768.66M869.16 733.75V815.23M869.73 733.75V810.27M874.3 733.75V805.02M876.01 733.75V802.99M877.73 733.75V769.78M880.02 733.75V798.1M880.59 733.75V788.3M881.16 733.75V760.02M882.87 733.75V808.71M884.59 733.75V801.86M886.3 733.75V799.64M888.59 733.75V759.37M1082.36 733.75V799.97M1085.22 733.75V766.55M1086.93 733.75V814.24M1088.08 733.75V809.65M1093.79 733.75V818.44M1094.94 733.75V812.89M1099.51 733.75V795.86M1101.22 733.75V786.54M1101.8 733.75V815.09M1103.51 733.75V785.47M1105.23 733.75V802.43M1108.08 733.75V766.84M1108.66 733.75V772.68M1109.23 733.75V766.96M1109.8 733.75V794.77M1112.66 733.75V792.41M1114.94 733.75V795.03M1118.37 733.75V810.22M1120.09 733.75V795.07M1121.23 733.75V788.77M1122.37 733.75V778.87M1123.52 733.75V787.02M1125.23 733.75V812.1M1125.8 733.75V800.72M1126.95 733.75V810.08M1132.66 733.75V813.02M1133.23 733.75V772.27M1133.81 733.75V785.63M1136.09 733.75V820.67M1137.24 733.75V809.89M1137.81 733.75V776.87M1140.09 733.75V825.9M1141.81 733.75V813.91M1148.1 733.75V796.99M1156.1 733.75V817.06M1159.53 733.75V816.73M1160.1 733.75V818.72M1160.67 733.75V784.21M1162.39 733.75V760.49M1166.39 733.75V799.18M1166.96 733.75V809.72M1168.1 733.75V816.63M1168.67 733.75V796.36M1169.25 733.75V811.87M1170.39 733.75V818.53M1171.53 733.75V776.33M1175.53 733.75V762.18M1177.82 733.75V808.84M1181.82 733.75V813.43M1183.54 733.75V834.46M1185.25 733.75V812.02M1186.39 733.75V821.63M1187.54 733.75V824.88M1188.11 733.75V801.12M1190.97 733.75V822.34M1191.54 733.75V764.31M1192.68 733.75V779.33M1194.4 733.75V798.23M1194.97 733.75V766.83M1199.54 733.75V826.34M1200.68 733.75V797.93M1203.54 733.75V759.56M1204.68 733.75V809.53M1205.26 733.75V805.95M1211.54 733.75V778.25M1212.69 733.75V814.81M1217.26 733.75V824.49M1221.83 733.75V820.3M1222.4 733.75V819.36M1224.69 733.75V819.23M1226.98 733.75V823.74M1228.12 733.75V783.66M1231.55 733.75V807M1232.12 733.75V806.27M1233.84 733.75V803.26M1236.69 733.75V775.81M1237.84 733.75V779.5M1238.98 733.75V823.27M1240.7 733.75V788.81M1241.84 733.75V828.29M1242.41 733.75V772.29M1245.84 733.75V805.24M1248.7 733.75V789.48M1249.27 733.75V777.99M1250.98 733.75V797.63" stroke="#1d5a10" stroke-opacity="0.12" stroke-width="0.6" fill="none"/>
<path d="M440.17 733.75V835.4H440.74V832.9H441.31V838.1H441.88V831.6H442.46V826.3H443.03V841.1H443.6V844H444.17V815.3H444.74V830.2H445.31V830.4H445.89V829.2H446.46V817.4H447.03V828.9H447.6V827.3H448.17V791H448.74V838.4H449.31V843.1H449.89V845.3H450.46V831.4H451.03V831.6H451.6V825.4H452.17V827.4H452.74V828.6H453.32V759.5H453.89V829.5H454.46V839.4H455.03V835H455.6V829.8H456.17V839.4H456.75V848.8H457.32V733.75ZM457.89 733.75V839.1H458.46V841.2H459.03V839.7H459.6V842.7H460.18V830.2H460.75V851.6H461.32V846.8H461.89V841.5H462.46V830.5H463.03V835.6H463.6V847H464.18V845.1H464.75V830.5H465.32V777.4H465.89V831H466.46V823.7H467.03V833.6H467.61V833.8H468.18V840.2H468.75V835.7H469.32V840.3H469.89V839.7H470.46V843.3H471.04V838.3H471.61V835.4H472.18V829.7H472.75V834.4H473.32V821.6H473.89V826.3H474.47V834.4H475.04V835.8H475.61V817.6H476.18V834.2H476.75V833.1H477.32V835.7H477.89V830.6H478.47V835.5H479.04V840.6H479.61V830.1H480.18V827.9H480.75V837.2H481.32V839.2H481.9V844.2H482.47V827.6H483.04V836.4H483.61V822.1H484.18V833.3H484.75V806.7H485.33V856.1H485.9V821.5H486.47V832.9H487.04V827.2H487.61V832.4H488.18V839.6H488.76V842.9H489.33V843.2H489.9V844H490.47V831.4H491.04V842H491.61V820.6H492.18V837.6H492.76V836.4H493.33V832.8H493.9V828.5H494.47V756.2H495.04V835.8H495.61V755.2H496.19V840H496.76V832.9H497.33V853.3H497.9V843.9H498.47V841.8H499.04V825.2H499.62V831H500.19V832.2H500.76V822.5H501.33V837.5H501.9V819.2H502.47V837.7H503.05V827.9H503.62V829.6H504.19V828.2H504.76V840.8H505.33V833.8H505.9V820.1H506.47V837.2H507.05V828.9H507.62V818.8H508.19V821H508.76V823.5H509.33V824.5H509.9V833.4H510.48V773.7H511.05V844.3H511.62V843.3H512.19V846.6H512.76V830.7H513.33V826.3H513.91V777.1H514.48V832.2H515.05V846H515.62V852.1H516.19V763.5H516.76V840.4H517.34V842.7H517.91V843.5H518.48V779.2H519.05V836.7H519.62V847.9H520.19V847.7H520.76V852.8H521.34V855.8H521.91V831.9H522.48V849.9H523.05V839.6H523.62V840.5H524.19V836.1H524.77V850.7H525.34V847H525.91V852.8H526.48V827.3H527.05V844.6H527.62V829.7H528.2V832.8H528.77V833.5H529.34V819.2H529.91V840.3H530.48V842.7H531.05V830.5H531.63V823.1H532.2V837H532.77V819.7H533.34V824.2H533.91V835.4H534.48V798.3H535.05V824.6H535.63V834.5H536.2V839.9H536.77V841.8H537.34V840.7H537.91V841.7H538.48V830.9H539.06V826.2H539.63V826.8H540.2V826.1H540.77V829.7H541.34V841.3H541.91V826.7H542.49V838.3H543.06V837.2H543.63V829.8H544.2V837.8H544.77V836.6H545.34V838.8H545.92V833.5H546.49V838.2H547.06V832.9H547.63V837.5H548.2V830.1H548.77V837.6H549.34V836H549.92V821.6H550.49V828.6H551.06V820H551.63V835H552.2V828.8H552.77V840.5H553.35V836.4H553.92V847.7H554.49V826.4H555.06V814.4H555.63V817.3H556.2V733.75ZM748.83 733.75V745.4H749.4V785.7H749.98V733.75ZM750.55 733.75V779.1H751.12V788.5H751.69V792.9H752.26V773.7H752.83V784.3H753.41V782.6H753.98V783.7H754.55V733.75ZM755.12 733.75V791.3H755.69V788.4H756.26V752.4H756.84V747.1H757.41V753.8H757.98V796.5H758.55V799.6H759.12V792.4H760.27V751.7H760.84V783.6H761.41V788.8H761.98V789H762.55V796.1H763.12V733.75ZM763.7 733.75V788H764.27V794.8H764.84V799H765.41V801.2H765.98V803.7H766.55V803.3H767.12V805.2H767.7V799.4H768.27V799.8H768.84V803.9H769.41V807.4H769.98V807.2H770.55V774.4H771.13V783.6H771.7V757.8H772.27V805H772.84V752H773.41V797.6H773.98V800.2H774.56V795.6H775.13V771.7H775.7V798.3H776.27V799.1H776.84V783.5H777.41V793.8H777.99V757.7H778.56V798.4H779.13V773.7H779.7V792.7H780.27V769H780.84V785H781.41V789.2H781.99V790H782.56V754.5H783.13V791.1H783.7V796.8H784.27V796.9H784.84V763.6H785.42V796.3H785.99V797.3H786.56V792.9H787.13V759.1H787.7V788.1H788.27V789.5H788.85V782.1H789.42V747.6H789.99V792.6H790.56V774.7H791.13V733.75ZM791.7 733.75V763H792.27V780.9H792.85V761.3H793.42V764.1H793.99V793.8H794.56V779.5H795.13V763.2H795.7V779.2H796.28V785.9H796.85V784.1H797.42V780.2H797.99V745.1H798.56V779.4H799.13V771.9H799.71V775.5H800.28V771.3H800.85V771H801.42V774.3H801.99V748.1H802.56V763.7H803.14V768.1H803.71V765.1H804.28V754.8H804.85V770.4H805.42V775.6H805.99V770.2H806.56V774.7H807.14V790.4H807.71V796.7H808.28V805.7H808.85V803.5H809.42V765.9H809.99V810.3H810.57V766.7H811.14V811.8H811.71V760.6H812.28V770.6H812.85V754H813.42V782.9H814V815H814.57V789.2H815.14V798.1H815.71V774.6H816.28V788.6H816.85V762.9H817.43V813.8H818V820H818.57V811.1H819.14V773.3H819.71V787.5H820.28V808H820.86V815H821.43V811.4H822V761.1H822.57V806.8H823.14V797.6H823.71V808.7H824.28V771.2H824.86V811.4H825.43V812.9H826V814.3H826.57V806.5H827.14V773.6H827.71V812.5H828.29V806.3H828.86V757.3H829.43V813H830V768.3H830.57V795.8H831.14V803.1H831.72V787.6H832.29V765.4H832.86V812.7H833.43V768.1H834V792.9H834.57V751.5H835.14V733.75ZM888.88 733.75V806.8H889.45V795.5H890.02V805.2H890.59V797.8H891.16V803H891.73V797H892.3V802.7H892.88V813.1H893.45V802.9H894.02V815.7H894.59V820.2H895.16V781.7H895.73V830H896.31V827.7H896.88V819.7H897.45V815H898.02V818.4H898.59V814H899.16V816.4H899.74V801.4H900.31V808.2H900.88V805.9H901.45V771.2H902.02V807.3H902.59V805H903.17V809.9H903.74V797.2H904.31V800.2H904.88V800.1H905.45V733.75ZM906.02 733.75V772H906.59V803.7H907.17V805.8H907.74V806.1H908.31V801.6H908.88V802.2H909.45V807.6H910.02V798.3H910.6V805.6H911.17V813.9H911.74V807.5H912.31V819.1H912.88V808.2H914.03V805.1H914.6V807H915.17V798.7H915.74V815.5H916.31V806.8H916.88V817.2H917.46V815.8H918.03V807.1H918.6V820.2H919.17V814.3H919.74V805.1H920.31V817.7H920.88V814.3H921.46V827.8H922.03V825.8H922.6V815.5H923.17V821.4H923.74V822H924.31V822.9H924.89V828.2H925.46V816.2H926.03V816.3H926.6V834.9H927.17V811H927.74V810.8H928.32V815.8H928.89V812.9H929.46V817.8H930.03V816.9H930.6V814.7H931.17V810H931.75V805.6H932.32V807.9H932.89V817.2H933.46V807H934.03V778.2H934.6V802.3H935.17V814.7H935.75V817H936.32V806.8H936.89V817.1H937.46V811.5H938.03V812H938.6V815.6H939.18V814.1H939.75V829.4H940.32V813.9H940.89V819.5H941.46V809.9H942.03V810.4H942.61V806.7H943.18V813.2H943.75V811.2H944.32V818.7H944.89V817.1H945.46V820.4H946.04V733.75ZM946.61 733.75V811.5H947.18V800.3H947.75V804.5H948.32V819.3H948.89V799.6H949.46V802.1H950.04V803.4H950.61V816.1H951.18V814.3H951.75V811.1H952.32V806.7H952.89V821.8H953.47V809.9H954.04V807.6H954.61V804.5H955.18V814.5H955.75V814.4H956.32V808.3H956.9V809.2H957.47V814.6H958.04V774.6H958.61V821.4H959.18V807.5H959.75V808.4H960.33V819.4H960.9V820.5H961.47V820.8H962.04V821.2H962.61V820.4H963.18V815.2H963.75V817H964.33V802.3H964.9V807H965.47V811.8H966.04V810.9H966.61V812.9H967.18V809.9H968.33V802.6H968.9V821.4H969.47V815.7H970.04V789.1H970.61V766.3H971.19V815.6H971.76V818.8H972.33V814H972.9V813.6H973.47V811.8H974.04V815.5H974.62V809.5H975.19V823.6H975.76V815H976.33V818.2H976.9V790.8H977.47V815.6H978.04V823.7H978.62V825.8H979.19V817.6H979.76V778.4H980.33V818.2H980.9V816.1H981.47V808H982.05V818H982.62V818.7H983.19V823.3H983.76V825.6H984.33V825H984.9V810.2H985.48V809.4H986.05V805.7H986.62V816.2H987.19V815.3H987.76V816.3H988.33V818.3H988.91V834.4H989.48V815.1H990.05V818.9H990.62V803.4H991.19V820.1H991.76V821.1H992.33V817.1H992.91V786.1H993.48V820.6H994.05V812.8H994.62V815.8H995.19V772.7H995.76V820.4H996.34V819.1H996.91V820.9H997.48V818.6H998.05V809.4H998.62V810.9H999.19V817.8H999.77V816.6H1000.34V812.4H1000.91V814.2H1001.48V813.2H1002.05V809.6H1002.62V813.5H1003.2V817H1003.77V810.5H1004.34V804.1H1004.91V814.4H1005.48V791.4H1006.05V822.2H1006.62V819.9H1007.2V810.7H1007.77V822.7H1008.34V802.8H1008.91V814.4H1009.48V814.2H1010.63V809.9H1011.2V805.3H1011.77V822.2H1012.34V815.9H1012.91V816.8H1013.48V814.3H1014.06V813.4H1014.63V779.6H1015.2V802.1H1015.77V800.5H1016.34V805.1H1016.91V813.7H1017.49V806.3H1018.06V813.6H1018.63V821.7H1019.2V821.2H1019.77V812.5H1020.34V807.7H1020.91V812.7H1021.49V812.2H1022.06V807.9H1022.63V813.7H1023.2V808.7H1023.77V807.7H1024.34V798.7H1024.92V815.4H1025.49V806.7H1026.06V809.3H1026.63V808.9H1027.2V817.8H1027.77V818H1028.35V816.7H1028.92V818.1H1029.49V810.9H1030.06V809.8H1030.63V815.6H1031.2V807.1H1031.78V817.4H1032.35V802.5H1032.92V812.6H1033.49V801.3H1034.06V802.5H1034.63V810.8H1035.2V797.5H1035.78V805.3H1036.35V814.4H1036.92V811.2H1037.49V809H1038.06V819.6H1038.63V809H1039.21V811.7H1039.78V812.4H1040.35V820.7H1040.92V816.7H1041.49V805.8H1042.06V805.6H1042.64V811H1043.21V804H1043.78V810.9H1044.35V810.3H1044.92V816.5H1045.49V813.8H1046.07V817.4H1046.64V819.7H1047.21V811.5H1047.78V823H1048.35V802.6H1048.92V807.4H1049.5V816H1050.07V801.3H1050.64V817.5H1051.21V822.9H1051.78V759.2H1052.35V826.9H1052.92V823.1H1053.5V817.5H1054.07V828.3H1054.64V820.6H1055.21V824.3H1055.78V818.6H1056.35V814.1H1056.93V810H1057.5V808.5H1058.07V821.5H1058.64V822.2H1059.21V820.1H1059.78V817.8H1060.36V800H1060.93V819.1H1061.5V819H1062.07V816.7H1062.64V815.3H1063.21V822.6H1063.79V814H1064.36V826.8H1064.93V813.8H1065.5V825H1066.07V824.8H1066.64V821.3H1067.21V813.6H1067.79V798H1068.36V798.9H1068.93V818.8H1069.5V820.2H1070.07V815.8H1070.64V809.9H1071.22V807.3H1071.79V820.8H1072.36V804.2H1072.93V802.7H1073.5V815.1H1074.07V805.8H1074.65V806.5H1075.22V806.8H1075.79V799.6H1076.36V799.4H1076.93V802.6H1077.5V802.4H1078.08V806.6H1078.65V805.9H1079.22V795.8H1079.79V798.7H1080.36V799.2H1080.93V733.75ZM1251.27 733.75V794.2H1251.84V799H1252.41V794.4H1252.98V786.9H1253.56V797.6H1254.13V793.7H1254.7V802.4H1255.27V802.1H1255.84V801.9H1256.41V814H1256.99V807.7H1257.56V818.6H1258.13V823.2H1258.7V817.3H1259.27V825.2H1259.84V811.5H1260.42V811.3H1260.99V814.6H1261.56V804.3H1262.13V802.4H1262.7V824.7H1263.27V759.3H1263.85V815.1H1264.42V825.4H1264.99V813.2H1265.56V733.75ZM1266.13 733.75V817.6H1266.7V733.75ZM1267.27 733.75V811H1267.85V828.5H1268.42V818.2H1268.99V824.3H1269.56V819.6H1270.13V829.3H1270.7V815.7H1271.28V832.2H1271.85V825.3H1272.42V825H1272.99V828.8H1273.56V825.6H1274.13V809.9H1274.71V810.7H1275.28V822.1H1275.85V826H1276.42V815H1276.99V823.5H1277.56V823.9H1278.14V733.75ZM1278.71 733.75V818.4H1279.28V815H1279.85V800.7H1280.42V823.7H1280.99V814.2H1281.56V804.4H1282.14V816.4H1282.71V820.1H1283.28V818.8H1283.85V804.5H1284.42V810.1H1284.99V765.5H1285.57V791.9H1286.14V802.9H1286.71V815.8H1287.28V798.8H1287.85V809.3H1288.42V804.6H1289V806.5H1289.57V826.6H1290.14V798.1H1290.71V809.6H1291.28V800H1291.85V800.2H1292.43V794.6H1293V802.8H1293.57V808.2H1294.14V816H1294.71V807.9H1295.28V819.5H1295.85V827.2H1296.43V824.2H1297V810.9H1297.57V733.75ZM1298.14 733.75V805.5H1298.71V826.9H1299.28V814.6H1299.86V810.3H1300.43V803.2H1301V805.8H1301.57V797.4H1302.14V809.8H1302.71V810.4H1303.29V816.2H1303.86V808.1H1304.43V818.1H1305V813.9H1305.57V811.5H1306.14V816.5H1306.72V813.3H1307.29V825H1307.86V824H1308.43V819.7H1309V819.3H1309.57V834H1310.14V814.3H1310.72V822.7H1311.29V816.1H1311.86V817.8H1312.43V820.3H1313V830.5H1313.57V821.5H1314.15V814.3H1314.72V829.5H1315.29V823.2H1315.86V817.9H1316.43V816.1H1317V799.1H1317.58V770.1H1318.15V816.3H1318.72V806.6H1319.29V733.75ZM1319.86 733.75V815.3H1320.43V816.4H1321.01V804.5H1321.58V806.3H1322.15V799.8H1322.72V820.8H1323.29V807.8H1323.86V796.1H1324.43V812.2H1325.01V808.2H1325.58V811.8H1326.15V805.7H1326.72V814.4H1327.29V807.4H1327.86V819H1328.44V819.8H1329.01V814.2H1329.58V812.4H1330.15V817.2H1330.72V807.1H1331.29V810.6H1331.87V814.3H1332.44V811.6H1333.01V795.1H1333.58V808.3H1334.15V804.3H1334.72V796.1H1335.3V811.8H1335.87V807.7H1336.44V799.9H1337.01V804H1337.58V806.8H1338.15V795.6H1338.72V808.1H1339.3V816.9H1339.87V802.1H1340.44V809.5H1341.01V809.1H1341.58V812H1342.15V812.2H1342.73V794.8H1343.3V807.3H1344.44V819.6H1345.01V815H1345.58V822.6H1346.16V809.2H1346.73V825.4H1347.3V822.2H1347.87V821.2H1348.44V815.5H1349.01V819.1H1349.59V809.5H1350.16V819.3H1350.73V820H1351.3V820.4H1351.87V821.4H1352.44V812.5H1353.01V810.7H1353.59V807.7H1354.16V805.9H1354.73V813.9H1355.3V814H1355.87V812.3H1356.44V814.9H1357.02V815.6H1357.59V756.5H1358.16V796.9H1358.73V804.8H1359.3V798.7H1359.87V801.1H1360.45V806.1H1361.02V803.5H1361.59V800.1H1362.16V811.7H1362.73V810.5H1363.3V811.3H1363.88V807.1H1364.45V804.9H1365.02V798.7H1365.59V803.4H1366.16V805H1366.73V810.5H1367.3V813H1367.88V820.3H1368.45V799.2H1369.02V816H1369.59V801.2H1370.16V764.7H1370.73V804.9H1371.31V804H1371.88V808.7H1372.45V810.2H1373.02V799.4H1373.59V794.2H1374.16V811.1H1374.74V800.6H1375.31V814.4H1375.88V807.5H1376.45V817.4H1377.02V814.2H1377.59V813.5H1378.16V818.3H1378.74V821.6H1379.31V819.9H1379.88V812.9H1380.45V805.6H1381.02V807.5H1381.59V768.4H1382.17V815.8H1382.74V811.4H1383.31V810.4H1383.88V813.8H1384.45V815.2H1385.02V816.3H1385.6V818.1H1386.17V804.7H1386.74V814.9H1387.31V811.6H1387.88V812.3H1388.45V814.8H1389.03V804.4H1389.6V820.4H1390.17V807.1H1390.74V820.5H1391.31V815H1391.88V808.1H1392.45V796.7H1393.03V809.1H1393.6V810.9H1394.17V805.8H1394.74V803.3H1395.31V810H1395.88V803.3H1396.46V799.8H1397.03V806.5H1397.6V800.7H1398.17V804.1H1398.74V801.7H1399.31V807.5H1399.89V796.4H1400.46V808.7H1401.03V811.6H1401.6V810.7H1402.17V810.8H1402.74V813.2H1403.32V815.9H1403.89V813.3H1404.46V807H1405.03V809.3H1405.6V812.5H1406.17V815.9H1406.74V824.9H1407.32V825.7H1407.89V823.8H1408.46V823H1409.03V824.9H1409.6V822.1H1410.17V812H1410.75V818.7H1411.32V822.8H1411.89V811.2H1412.46V819.2H1413.03V811H1413.6V801.4H1414.18V803.1H1414.75V812.8H1415.32V815.4H1415.89V808.7H1416.46V811.2H1417.03V812H1417.61V802.1H1418.18V812.3H1418.75V810.7H1419.32V813.4H1419.89V791.4H1420.46V807.4H1421.03V814.4H1421.61V812.9H1422.18V814.1H1422.75V818.5H1423.32V811.8H1423.89V809.9H1424.46V815.8H1425.04V810.9H1425.61V816H1426.18V812.8H1426.75V809.4H1427.32V802.3H1427.89V805.7H1428.47V812H1429.04V810.8H1429.61V811.6H1430.18V805.7H1430.75V823.3H1431.32V808.6H1431.9V831.3H1432.47V774.9H1433.04V811.3H1433.61V799H1434.18V809.6H1434.75V830.9H1435.33V820.6H1435.9V822.8H1436.47V773.9H1437.04V807.4H1437.61V813.3H1438.18V815.7H1438.75V803.3H1439.33V820.3H1439.9V813.3H1440.47V823.3H1441.04V813.4H1441.61V824H1442.18V819.2H1442.76V812.3H1443.33V815.3H1443.9V811.3H1444.47V776.9H1445.04V814.1H1445.61V803.9H1446.19V813.2H1446.76V820.5H1447.33V814.5H1447.9V804.1H1448.47V806.6H1449.04V815.9H1449.62V808.8H1450.19V802.9H1450.76V805.7H1451.33V808.3H1451.9V817.6H1452.47V802.3H1453.04V822.7H1453.62V816.1H1454.19V807.8H1454.76V802.2H1455.33V813H1455.9V809.3H1456.47V800.3H1457.05V800.2H1457.62V808.7H1458.19V805.9H1458.76V810.1H1459.33V806.6H1459.9V806H1460.48V797.5H1461.05V804.1H1461.62V803.1H1462.19V784.8H1462.76V733.75ZM1463.33 733.75V812.1H1463.91V808.6H1464.48V733.75ZM1465.05 733.75V803.3H1465.62V808.9H1466.19V806.4H1466.76V799.7H1467.33V797.2H1467.91V800.1H1468.48V804.8H1469.05V808H1469.62V815.7H1470.19V806.4H1470.76V808.8H1471.34V811H1471.91V805.8H1472.48V759.3H1473.05V806.2H1473.62V806.9H1474.19V805.9H1474.77V809.5H1475.34V810H1475.91V800.8H1476.48V798.3H1477.05V802.9H1477.62V807.6H1478.2V805H1478.77V801.7H1479.34V733.75ZM1479.91 733.75V809.6H1480.48V806.2H1481.05V797.5H1481.62V803.8H1482.2V803.2H1482.77V753.8H1483.34V800.4H1483.91V797.2H1484.48V796.2H1485.05V796.9H1485.63V801.2H1486.2V795.8H1486.77V805.5H1487.34V795.1H1487.91V797.4H1488.48V790.8H1489.06V797.6H1489.63V797.9H1490.2V794.5H1490.77V794.2H1491.34V733.75ZM1491.91 733.75V799.2H1492.49V802.6H1493.06V800H1493.63V792.4H1494.2V800.3H1494.77V804.8H1495.34V808.7H1495.91V802.4H1496.49V813.8H1497.63V805.3H1498.2V808.8H1499.34V817.2H1499.92V819H1500.49V802.1H1501.06V822.3H1501.63V818.7H1502.2V818H1502.77V809.5H1503.35V822.1H1503.92V805.4H1504.49V811.3H1505.06V820.9H1505.63V820H1506.2V819.4H1506.78V814.7H1507.35V820.4H1507.92V820.9H1508.49V805.9H1509.06V834.5H1509.63V820.8H1510.2V733.75Z" fill="#3e7432"/>
<path d="M291.73 733.75V723h0.54V733.75ZM321.48 733.75V720h0.54V733.75ZM376.23 733.75V694.5h0.54V733.75ZM381.23 733.75V730h0.54V733.75ZM422.23 733.75V730h0.54V733.75ZM573.98 733.75V725.75h0.54V733.75ZM584.23 733.75V726.25h0.54V733.75ZM587.23 733.75V714.5h0.54V733.75ZM594.23 733.75V730.5h0.54V733.75ZM602.23 733.75V727h0.54V733.75ZM620.23 733.75V705.75h0.54V733.75ZM631.73 733.75V697h0.54V733.75ZM619.73 733.75V706.25h0.54V733.75ZM631.73 733.75V697h0.54V733.75ZM643.96 733.75V725h1.09V733.75ZM671.73 733.75V703.75h0.54V733.75ZM703.73 733.75V694.5h0.54V733.75ZM706.73 733.75V702.5h0.54V733.75ZM705.23 733.75V715h0.54V733.75ZM717.23 733.75V718.75h0.54V733.75ZM720.98 733.75V727.5h0.54V733.75ZM735.98 733.75V714.5h0.54V733.75ZM741.73 733.75V692h0.54V733.75ZM740.73 733.75V702.5h0.54V733.75ZM744.46 733.75V716.25h1.09V733.75ZM746.96 733.75V720h1.09V733.75ZM845.23 733.75V710h0.54V733.75ZM849.73 733.75V722.5h0.54V733.75ZM851.73 733.75V700.5h0.54V733.75ZM882.73 733.75V707.5h0.54V733.75ZM885.23 733.75V729.5h0.54V733.75ZM1082.73 733.75V725h0.54V733.75ZM1085.71 733.75V705.75h1.09V733.75ZM1091.73 733.75V713.75h0.54V733.75ZM1094.23 733.75V715.5h0.54V733.75ZM1105.98 733.75V691.25h0.54V733.75ZM1109.73 733.75V726.25h0.54V733.75ZM1111.73 733.75V712.5h0.54V733.75ZM1112.71 733.75V728.75h1.09V733.75ZM1131.73 733.75V710h0.54V733.75ZM1133.23 733.75V697.5h0.54V733.75ZM1134.23 733.75V692.5h0.54V733.75ZM1135.73 733.75V711.25h0.54V733.75ZM1137.23 733.75V718.75h0.54V733.75ZM1139.73 733.75V726.25h0.54V733.75ZM1152.98 733.75V722.5h0.54V733.75ZM1167.23 733.75V723.75h0.54V733.75ZM1170.98 733.75V727.5h0.54V733.75ZM1173.48 733.75V727.5h0.54V733.75ZM1178.98 733.75V705h0.54V733.75ZM1194.23 733.75V711.25h0.54V733.75ZM1195.23 733.75V715h0.54V733.75ZM1197.23 733.75V728.75h0.54V733.75ZM1209.48 733.75V701.25h0.54V733.75ZM1245.23 733.75V706.25h0.54V733.75ZM1246.73 733.75V727.5h0.54V733.75Z" fill="#3e7631" fill-opacity="0.9"/>
<path d="M440.51 733.75V709.25h1.49V733.75ZM457.26 733.75V730h1.49V733.75ZM493.86 733.75V708.25h0.77V733.75ZM520.86 733.75V681.25h0.77V733.75ZM522.86 733.75V673h0.77V733.75ZM545.36 733.75V674.5h0.77V733.75ZM748.36 733.75V725h0.77V733.75ZM750.86 733.75V667.5h0.77V733.75ZM750.11 733.75V683.75h0.77V733.75ZM751.76 733.75V687.5h1.49V733.75ZM753.01 733.75V713.75h1.49V733.75ZM754.61 733.75V723.75h0.77V733.75ZM762.86 733.75V675.5h0.77V733.75ZM764.11 733.75V687.5h0.77V733.75ZM765.36 733.75V690h0.77V733.75ZM769.11 733.75V681.25h0.77V733.75ZM770.36 733.75V691.25h0.77V733.75ZM774.26 733.75V686.25h1.49V733.75ZM775.76 733.75V705h1.49V733.75ZM777.26 733.75V690h1.49V733.75ZM778.61 733.75V696.25h0.77V733.75ZM781.26 733.75V705h1.49V733.75ZM786.61 733.75V693.75h0.77V733.75ZM787.26 733.75V717.5h1.49V733.75ZM789.26 733.75V718.75h1.49V733.75ZM790.51 733.75V690h1.49V733.75ZM791.76 733.75V692.5h1.49V733.75ZM793.01 733.75V697.5h1.49V733.75ZM794.26 733.75V700h1.49V733.75ZM795.76 733.75V710h1.49V733.75ZM797.26 733.75V715h1.49V733.75ZM800.86 733.75V728.75h0.77V733.75ZM807.11 733.75V682.5h0.77V733.75ZM808.86 733.75V710h0.77V733.75ZM815.11 733.75V706.25h0.77V733.75ZM822.11 733.75V697h0.77V733.75ZM823.36 733.75V715h0.77V733.75ZM829.11 733.75V704.5h0.77V733.75ZM892.11 733.75V720h0.77V733.75ZM903.86 733.75V703.25h0.77V733.75ZM905.36 733.75V722.5h0.77V733.75ZM908.36 733.75V706.25h0.77V733.75ZM909.26 733.75V725h1.49V733.75ZM934.11 733.75V714.5h0.77V733.75ZM936.4 733.75V729.5h2.2V733.75ZM945.86 733.75V707.5h0.77V733.75ZM950.36 733.75V713.25h0.77V733.75ZM1038.26 733.75V712h1.49V733.75ZM1080.01 733.75V709.5h1.49V733.75ZM1251.01 733.75V700.5h1.49V733.75ZM1254.11 733.75V726.25h0.77V733.75ZM1256.76 733.75V703.25h1.49V733.75ZM1265.15 733.75V703.25h2.2V733.75ZM1271.11 733.75V693.25h0.77V733.75ZM1269.76 733.75V717.5h1.49V733.75ZM1272.26 733.75V719.5h1.49V733.75ZM1274.76 733.75V720h1.49V733.75ZM1277.26 733.75V720.5h1.49V733.75ZM1284.76 733.75V720.5h1.49V733.75ZM1286.76 733.75V720h1.49V733.75ZM1288.51 733.75V719h1.49V733.75ZM1297.26 733.75V706.25h1.49V733.75ZM1299.11 733.75V688.75h0.77V733.75ZM1301.26 733.75V701.25h1.49V733.75ZM1305.51 733.75V711.25h1.49V733.75ZM1315.01 733.75V716.25h1.49V733.75ZM1317.65 733.75V730h2.2V733.75ZM1321.61 733.75V688h0.77V733.75ZM1320.61 733.75V705h0.77V733.75ZM1323.01 733.75V721.25h1.49V733.75ZM1327.61 733.75V695.5h0.77V733.75ZM1339.61 733.75V686.25h0.77V733.75ZM1338.61 733.75V703.75h0.77V733.75ZM1342.01 733.75V724.5h1.49V733.75ZM1359.26 733.75V713.25h1.49V733.75ZM1394.51 733.75V710h1.49V733.75ZM1396.36 733.75V676.25h0.77V733.75ZM1375.01 733.75V731.25h1.49V733.75ZM1428.86 733.75V714.25h0.77V733.75ZM1441.11 733.75V703.25h0.77V733.75ZM1443.11 733.75V722h0.77V733.75ZM1445.11 733.75V728.75h0.77V733.75ZM1452.01 733.75V710.5h1.49V733.75ZM1457.36 733.75V718h0.77V733.75ZM1461.65 733.75V721.25h2.2V733.75ZM1464.51 733.75V695h1.49V733.75ZM1470.76 733.75V727.5h1.49V733.75ZM1479.01 733.75V707h1.49V733.75ZM1485.01 733.75V703.75h1.49V733.75ZM1490.11 733.75V697h0.77V733.75ZM1490.9 733.75V727.5h2.2V733.75ZM1494.11 733.75V701.25h0.77V733.75ZM1492.9 733.75V727h2.2V733.75ZM1500.86 733.75V713.25h0.77V733.75ZM1506.26 733.75V728.25h1.49V733.75Z" fill="#2f6b25" fill-opacity="1.0"/>
<line x1="194" y1="733.75" x2="1509.9" y2="733.75" stroke="#aaaaaa" stroke-width="3.9" />
<line x1="193.65" y1="640.5" x2="193.65" y2="897.25" stroke="#111" stroke-width="1.5" />
<line x1="192.9" y1="891.25" x2="1525.75" y2="891.25" stroke="#111" stroke-width="1.5" />
<line x1="178.7" y1="674.5" x2="194" y2="674.5" stroke="#1a1a1a" stroke-width="1.3" />
<text x="169.6" y="682.5" font-size="21.8" text-anchor="end" fill="#111" textLength="13.46" lengthAdjust="spacingAndGlyphs" >2</text>
<line x1="178.7" y1="733.75" x2="194" y2="733.75" stroke="#1a1a1a" stroke-width="1.3" />
<text x="169.6" y="741.75" font-size="21.8" text-anchor="end" fill="#111" textLength="13.46" lengthAdjust="spacingAndGlyphs" >0</text>
<line x1="178.7" y1="792" x2="194" y2="792" stroke="#1a1a1a" stroke-width="1.3" />
<text x="169.6" y="800" font-size="21.8" text-anchor="end" fill="#111" textLength="25.85" lengthAdjust="spacingAndGlyphs" >−2</text>
<line x1="178.7" y1="850" x2="194" y2="850" stroke="#1a1a1a" stroke-width="1.3" />
<text x="169.6" y="858" font-size="21.8" text-anchor="end" fill="#111" textLength="25.85" lengthAdjust="spacingAndGlyphs" >−4</text>
<line x1="256.4" y1="891.25" x2="256.4" y2="901.25" stroke="#1a1a1a" stroke-width="1.3" />
<line x1="542.2" y1="891.25" x2="542.2" y2="901.25" stroke="#1a1a1a" stroke-width="1.3" />
<line x1="828" y1="891.25" x2="828" y2="901.25" stroke="#1a1a1a" stroke-width="1.3" />
<line x1="1113.8" y1="891.25" x2="1113.8" y2="901.25" stroke="#1a1a1a" stroke-width="1.3" />
<line x1="1399.6" y1="891.25" x2="1399.6" y2="901.25" stroke="#1a1a1a" stroke-width="1.3" />
<text x="238.5" y="666.25" font-size="25.5" text-anchor="start" fill="#111" textLength="192.76" lengthAdjust="spacingAndGlyphs" >AA substitution</text>
<text x="80.5" y="799.75" font-size="26.5" text-anchor="start" fill="#111" textLength="70.49" lengthAdjust="spacingAndGlyphs" transform="rotate(-90 80.5 799.75)" >Mean</text>
<text x="113.75" y="847.26" font-size="26.5" text-anchor="start" fill="#111" textLength="172.35" lengthAdjust="spacingAndGlyphs" transform="rotate(-90 113.75 847.26)" >Enrich2 score</text>
<rect x="256.1" y="931.25" width="39.54" height="163.65" fill="#eeeeee"/>
<rect x="441.6" y="931.25" width="137.76" height="163.65" fill="#eeeeee"/>
<rect x="749.12" y="931.25" width="85.74" height="163.65" fill="#eeeeee"/>
<rect x="891.45" y="931.25" width="188.06" height="163.65" fill="#eeeeee"/>
<rect x="1128.66" y="931.25" width="12.58" height="163.65" fill="#eeeeee"/>
<rect x="1245.84" y="931.25" width="264.08" height="163.65" fill="#eeeeee"/>
<path d="M263.25 1058.04L264.05 1057.55L264.85 1058.08L265.65 1056.99L266.45 1059.04L267.25 1058.25L268.05 1057.8L268.85 1056.53L269.65 1056.4L270.45 1055.24L271.25 1053.69L272.05 1056.42L272.85 1056.95L273.65 1058.31L274.45 1057.18L275.25 1057.01L276.05 1056.6L276.85 1055.34L277.65 1057.6L278.45 1055.25L279.25 1054.9L280.05 1055.61L280.85 1057.04L281.65 1055.52L282.45 1053.99L283.25 1052.79L284.05 1052.53L284.85 1050.14L285.65 1047.93L286.45 1046.87L287.25 1046.25L288.05 1047.71L288.85 1045.56L289.65 1047.24L290.45 1048.13L291.25 1047.58L292.05 1049.88L292.85 1050.58L293.65 1053.52L294.45 1053.07L295.25 1052.38L296.05 1055.45L296.85 1055.69L297.65 1055.71L298.45 1058.25L299.25 1059.66L300.05 1060.78L300.85 1063.08L301.65 1061.81L302.45 1064.4L303.25 1066.3L304.05 1066.75L304.85 1067.62L305.65 1068.24L306.45 1069.22L307.25 1067.23L308.05 1069.81L308.85 1067.51L309.65 1067.76L310.45 1065.43L311.25 1067.38L312.05 1066.65L312.85 1064.11L313.65 1065.07L314.45 1061.61L315.25 1061.42L316.05 1060.41L316.85 1058.55L317.65 1059.53L318.45 1060.51L319.25 1057.03L320.05 1058.43L320.85 1056.86L321.65 1059.09L322.45 1058.95L323.25 1060.29L324.05 1061.41L324.85 1062.16L325.65 1061.66L326.45 1065.59L327.25 1063.98L328.05 1066.74L328.85 1067.93L329.65 1065.04L330.45 1064.59L331.25 1064.17L332.05 1061.54L332.85 1059.23L333.65 1055.76L334.45 1056.27L335.25 1055.43L336.05 1054.78L336.85 1053.61L337.65 1054.22L338.45 1052.54L339.25 1052.28L340.05 1052.34L340.85 1051.16L341.65 1053.45L342.45 1057.65L343.25 1058.1L344.05 1057.67L344.85 1060.63L345.65 1063.01L346.45 1065.05L347.25 1064.23L348.05 1063.82L348.85 1063.89L349.65 1065.53L350.45 1065.46L351.25 1064.9L352.05 1065.49L352.85 1065.53L353.65 1066.94L354.45 1064.86L355.25 1065.24L356.05 1064.8L356.85 1063.64L357.65 1061.52L358.45 1062.89L359.25 1060.07L360.05 1060.38L360.85 1058.4L361.65 1056.61L362.45 1057.78L363.25 1057.04L364.05 1055.87L364.85 1055.43L365.65 1053.7L366.45 1052.81L367.25 1052.58L368.05 1053.86L368.85 1051.96L369.65 1049.83L370.45 1048.58L371.25 1044.02L372.05 1044.6L372.85 1046.48L373.65 1045.65L374.45 1045.06L375.25 1046.39L376.05 1047.95L376.85 1047.62L377.65 1048.05L378.45 1045.41L379.25 1046.18L380.05 1045.2L380.85 1043.94L381.65 1045.39L382.45 1046.64L383.25 1046.89L384.05 1050.42L384.85 1049.73L385.65 1050.87L386.45 1050.27L387.25 1050.14L388.05 1048.45L388.85 1048.6L389.65 1047.95L390.45 1048.54L391.25 1046.2L392.05 1047.94L392.85 1048.47L393.65 1048.29L394.45 1053.13L395.25 1051.25L396.05 1050.7L396.85 1054.46L397.65 1052.83L398.45 1055.07L399.25 1056.36L400.05 1055.65L400.85 1056.67L401.65 1057.36L402.45 1058.57L403.25 1057.88L404.05 1059.06L404.85 1060.96L405.65 1062.55L406.45 1062.46L407.25 1063.88L408.05 1063.16L408.85 1062.28L409.65 1062.99L410.45 1061.4L411.25 1062.79L412.05 1061.93L412.85 1062.42L413.65 1062L414.45 1059.99L415.25 1059.16L416.05 1057.4L416.85 1057.66L417.65 1056.76L418.45 1055.68L419.25 1053.17L420.05 1054.66L420.85 1052.59L421.65 1050.69L422.45 1050.34L423.25 1050.63L424.05 1051.18L424.85 1051.09L425.65 1051.67L426.45 1052.62L427.25 1055.62L428.05 1057.8L428.85 1058.94L429.65 1061.84L430.45 1063.46L431.25 1065.66L432.05 1070.56L432.85 1069.77L433.65 1072.76L434.45 1070.95L435.25 1072.09L436.05 1073.46L436.85 1072.92L437.65 1073.83L438.45 1073.73L439.25 1074.02L440.05 1074.86L440.85 1074.78L441.65 1077.46L442.45 1076.06L443.25 1078.35L444.05 1074.34L444.85 1077.44L445.65 1078.39L446.45 1077.93L447.25 1079.72L448.05 1079.66L448.85 1079.15L449.65 1080.26L450.45 1082.59L451.25 1079.63L452.05 1079.27L452.85 1078.14L453.65 1078.31L454.45 1076.49L455.25 1077.18L456.05 1079.43L456.85 1077.64L457.65 1076.82L458.45 1076.88L459.25 1077.26L460.05 1075.57L460.85 1076.65L461.65 1075.24L462.45 1073.94L463.25 1075.68L464.05 1071.82L464.85 1073.84L465.65 1074.9L466.45 1073.94L467.25 1074.92L468.05 1074.67L468.85 1074.71L469.65 1077L470.45 1073.83L471.25 1072.07L472.05 1072.36L472.85 1069.73L473.65 1069.77L474.45 1068.58L475.25 1069.27L476.05 1065.63L476.85 1067.22L477.65 1065.99L478.45 1064.12L479.25 1065.75L480.05 1064.05L480.85 1067.16L481.65 1066.67L482.45 1067.48L483.25 1067.48L484.05 1068.92L484.85 1066.77L485.65 1068.78L486.45 1068.03L487.25 1068.88L488.05 1068.5L488.85 1069.11L489.65 1067.6L490.45 1070.23L491.25 1070.65L492.05 1068.07L492.85 1068.38L493.65 1069L494.45 1070.29L495.25 1071.25L496.05 1068.46L496.85 1069.37L497.65 1069.25L498.45 1069.52L499.25 1069.31L500.05 1071.65L500.85 1070.8L501.65 1074.13L502.45 1074.2L503.25 1072.93L504.05 1073.59L504.85 1074.68L505.65 1077.36L506.45 1075.78L507.25 1075.8L508.05 1077.54L508.85 1078.1L509.65 1077.2L510.45 1079.61L511.25 1078.37L512.05 1078.71L512.85 1077.54L513.65 1078.49L514.45 1078.5L515.25 1075.98L516.05 1076.94L516.85 1073.26L517.65 1073.42L518.45 1070.38L519.25 1072.27L520.05 1069.08L520.85 1069.61L521.65 1069.67L522.45 1067.43L523.25 1066.47L524.05 1068.42L524.85 1069.65L525.65 1068.84L526.45 1069.86L527.25 1071.29L528.05 1070.14L528.85 1073.2L529.65 1076.16L530.45 1074.9L531.25 1074.72L532.05 1077.8L532.85 1078.29L533.65 1079.17L534.45 1077.86L535.25 1078.84L536.05 1076.53L536.85 1079.6L537.65 1080.11L538.45 1078.62L539.25 1074.61L540.05 1075.24L540.85 1070.74L541.65 1072.81L542.45 1071.26L543.25 1069.65L544.05 1070.35L544.85 1069.51L545.65 1069.67L546.45 1068.22L547.25 1067.69L548.05 1064.86L548.85 1065.18L549.65 1066.58L550.45 1068.08L551.25 1068.49L552.05 1070.72L552.85 1069.07L553.65 1070.42L554.45 1070.91L555.25 1070.3L556.05 1070.92L556.85 1069.74L557.65 1071.61L558.45 1069.76L559.25 1071.08L560.05 1069.82L560.85 1071.23L561.65 1068.22L562.45 1070.02L563.25 1069.04L564.05 1069.68L564.85 1070.61L565.65 1068.26L566.45 1068.05L567.25 1068.34L568.05 1069.57L568.85 1067.4L569.65 1069.36L570.45 1068.44L571.25 1069.42L572.05 1071.03L572.85 1072.62L573.65 1072.46L574.45 1073.43L575.25 1074.63L576.05 1074.94L576.85 1073.08L577.65 1075.87L578.45 1076.93L579.25 1078.49L580.05 1079.98L580.85 1079.14L581.65 1077.63L582.45 1074.19L583.25 1072.84L584.05 1071.13L584.85 1069.21L585.65 1064.67L586.45 1063.39L587.25 1061.57L588.05 1060.11L588.85 1055.96L589.65 1052.62L590.45 1049.92L591.25 1047.71L592.05 1044.87L592.85 1043.8L593.65 1046.32L594.45 1049.36L595.25 1053.21L596.05 1054.95L596.85 1059.18L597.65 1061.82L598.45 1065.64L599.25 1070.22L600.05 1072.37L600.85 1073.94L601.65 1077.55L602.45 1077.69L603.25 1077.49L604.05 1078.81L604.85 1081.16L605.65 1082.48L606.45 1080.68L607.25 1081.85L608.05 1081.71L608.85 1079.05L609.65 1079.85L610.45 1079.53L611.25 1079.42L612.05 1077.34L612.85 1077.88L613.65 1078.08L614.45 1077.09L615.25 1076.46L616.05 1073.09L616.85 1074.09L617.65 1071.69L618.45 1068.47L619.25 1069.39L620.05 1067.14L620.85 1067.85L621.65 1067.07L622.45 1068.22L623.25 1067.11L624.05 1066.41L624.85 1067.49L625.65 1066.63L626.45 1066.02L627.25 1068.43L628.05 1067.46L628.85 1067.95L629.65 1068.77L630.45 1068.56L631.25 1070.2L632.05 1072.16L632.85 1068.94L633.65 1069.4L634.45 1067.83L635.25 1067.88L636.05 1069.56L636.85 1068.48L637.65 1067.3L638.45 1068.41L639.25 1068.08L640.05 1068.62L640.85 1068.99L641.65 1069.51L642.45 1071.23L643.25 1072L644.05 1072.39L644.85 1072.24L645.65 1071.58L646.45 1073.4L647.25 1073.08L648.05 1075.41L648.85 1075.62L649.65 1076.35L650.45 1075.78L651.25 1074.86L652.05 1078.16L652.85 1078.69L653.65 1075.89L654.45 1077.42L655.25 1078.39L656.05 1076.03L656.85 1078.78L657.65 1076.58L658.45 1075.76L659.25 1078.12L660.05 1076.96L660.85 1075.92L661.65 1077.36L662.45 1074.44L663.25 1078.12L664.05 1075.17L664.85 1075.55L665.65 1074.15L666.45 1074.28L667.25 1074.01L668.05 1071.59L668.85 1072.48L669.65 1070.69L670.45 1069.58L671.25 1070.23L672.05 1070.18L672.85 1071.11L673.65 1073.59L674.45 1073.21L675.25 1075.23L676.05 1075.25L676.85 1074.38L677.65 1074.05L678.45 1075.81L679.25 1077.3L680.05 1077.59L680.85 1077.3L681.65 1079.68L682.45 1077.47L683.25 1077.77L684.05 1078.91L684.85 1080.74L685.65 1078.72L686.45 1077.06L687.25 1078.42L688.05 1078.27L688.85 1078.28L689.65 1076.7L690.45 1076.31L691.25 1077.43L692.05 1077.93L692.85 1079.31L693.65 1080L694.45 1077.38L695.25 1077.06L696.05 1075.4L696.85 1073.1L697.65 1071.71L698.45 1069.59L699.25 1067.25L700.05 1066.27L700.85 1063.65L701.65 1061.64L702.45 1060.01L703.25 1059.42L704.05 1058.29L704.85 1056.33L705.65 1057.75L706.45 1056.94L707.25 1058.33L708.05 1059.86L708.85 1061.17L709.65 1063.83L710.45 1068.6L711.25 1066.54L712.05 1069.05L712.85 1069.81L713.65 1069.37L714.45 1069.07L715.25 1070.32L716.05 1068.61L716.85 1070.43L717.65 1071.42L718.45 1068.86L719.25 1069.01L720.05 1069.88L720.85 1070.65L721.65 1070.92L722.45 1070.19L723.25 1069.79L724.05 1070.37L724.85 1072.75L725.65 1073.93L726.45 1073.46L727.25 1075.64L728.05 1076.94L728.85 1078.5L729.65 1076.06L730.45 1077.21L731.25 1075.08L732.05 1075.42L732.85 1075.37L733.65 1076.57L734.45 1075.98L735.25 1070.25L736.05 1067.83L736.85 1065.67L737.65 1060.69L738.45 1060.42L739.25 1056.01L740.05 1056.48L740.85 1053.89L741.65 1050.55L742.45 1046.84L743.25 1040.92L744.05 1030.71L744.85 1021.76L745.65 1014.08L746.45 1003.79L747.25 997.93L748.05 991.6L748.85 984.54L749.65 977.95L750.45 970.67L751.25 966.27L752.05 960.77L752.85 969.72L753.65 978.29L754.45 982.96L755.25 985.75L756.05 987.29L756.85 994.4L757.65 1002.83L758.45 1011.09L759.25 1014.23L760.05 1016.19L760.85 1018.39L761.65 1020.76L762.45 1022.8L763.25 1024.69L764.05 1011.32L764.85 1006.32L765.65 1007.84L766.45 1012.76L767.25 1013.78L768.05 1013.03L768.85 1008.57L769.65 1005.61L770.45 1001.83L771.25 1004L772.05 1004.32L772.85 1005.46L773.65 1006.34L774.45 1011.44L775.25 1017.82L776.05 1024.12L776.85 1017.22L777.65 1010.93L778.45 1004.87L779.25 1003.21L780.05 1004.31L780.85 1008.12L781.65 1010.98L782.45 1010.79L783.25 1008.96L784.05 1005.71L784.85 1001.73L785.65 994.38L786.45 990.7L787.25 982.56L788.05 978.64L788.85 979.63L789.65 976.73L790.45 970.97L791.25 955.61L792.05 944.47L792.85 938.29L793.65 946.01L794.45 951.62L795.25 956.95L796.05 961.36L796.85 967.19L797.65 968.9L798.45 974.87L799.25 978.58L800.05 982.46L800.85 986.46L801.65 992.54L802.45 991.62L803.25 994.97L804.05 996.99L804.85 1001.07L805.65 1003.61L806.45 1014.26L807.25 1018.82L808.05 1024.17L808.85 1031.76L809.65 1035.33L810.45 1038.36L811.25 1040.79L812.05 1044.32L812.85 1046.6L813.65 1050.3L814.45 1051.96L815.25 1058.32L816.05 1062.58L816.85 1059.38L817.65 1054.32L818.45 1051.26L819.25 1052.8L820.05 1050.32L820.85 1050.06L821.65 1049.71L822.45 1051.01L823.25 1049.54L824.05 1048.69L824.85 1046.88L825.65 1047.1L826.45 1047.03L827.25 1044.71L828.05 1044.82L828.85 1047.19L829.65 1050.24L830.45 1053.35L831.25 1056.28L832.05 1057.01L832.85 1056.2L833.65 1054.87L834.45 1055.31L835.25 1055.17L836.05 1056.53L836.85 1057.03L837.65 1058.06L838.45 1056.97L839.25 1059.63L840.05 1061.21L840.85 1056.95L841.65 1058.3L842.45 1055.4L843.25 1053.29L844.05 1050.1L844.85 1051.39L845.65 1046.86L846.45 1044.66L847.25 1043.05L848.05 1038.81L848.85 1036.21L849.65 1033.65L850.45 1032.29L851.25 1030.59L852.05 1031.47L852.85 1032.54L853.65 1032.86L854.45 1034.41L855.25 1035.31L856.05 1041.2L856.85 1042.59L857.65 1043.65L858.45 1047.73L859.25 1052.85L860.05 1051.88L860.85 1054.81L861.65 1057.65L862.45 1058.15L863.25 1062.32L864.05 1064.38L864.85 1062.41L865.65 1064.9L866.45 1063.41L867.25 1063.84L868.05 1065.25L868.85 1065.24L869.65 1064.4L870.45 1065.84L871.25 1063.53L872.05 1064.14L872.85 1064.1L873.65 1066.33L874.45 1066.78L875.25 1067.04L876.05 1065.48L876.85 1067.31L877.65 1067.62L878.45 1063.75L879.25 1062.74L880.05 1062.41L880.85 1060.67L881.65 1058.42L882.45 1056.9L883.25 1055.07L884.05 1053.3L884.85 1051.44L885.65 1049.08L886.45 1048.1L887.25 1046.35L888.05 1050.03L888.85 1050.11L889.65 1051.97L890.45 1053.88L891.25 1056.13L892.05 1057.04L892.85 1058.93L893.65 1059.42L894.45 1061.33L895.25 1060.89L896.05 1063L896.85 1064.59L897.65 1063.63L898.45 1066.02L899.25 1065.7L900.05 1063.84L900.85 1062.4L901.65 1059.76L902.45 1061.48L903.25 1058.12L904.05 1056.53L904.85 1057.15L905.65 1052.97L906.45 1053.99L907.25 1051.68L908.05 1050.07L908.85 1047.53L909.65 1045.17L910.45 1045.22L911.25 1049.3L912.05 1048.1L912.85 1048.78L913.65 1051.6L914.45 1050.12L915.25 1051.45L916.05 1052.85L916.85 1054.35L917.65 1054.85L918.45 1056.73L919.25 1059.97L920.05 1060.77L920.85 1057.24L921.65 1058.45L922.45 1060.95L923.25 1060.7L924.05 1060.64L924.85 1062.26L925.65 1058.95L926.45 1061.29L927.25 1059.58L928.05 1059.36L928.85 1058.42L929.65 1058.38L930.45 1056.64L931.25 1055.71L932.05 1057.83L932.85 1058.03L933.65 1057.4L934.45 1060.8L935.25 1061.09L936.05 1060.92L936.85 1059.15L937.65 1059.03L938.45 1057.89L939.25 1056.9L940.05 1057.54L940.85 1057.25L941.65 1056.01L942.45 1058.1L943.25 1054.18L944.05 1054.5L944.85 1054.17L945.65 1055.65L946.45 1053.62L947.25 1053.08L948.05 1052.03L948.85 1051.99L949.65 1053.45L950.45 1057.77L951.25 1059.36L952.05 1061.74L952.85 1062.09L953.65 1067.26L954.45 1064.72L955.25 1064.45L956.05 1067.01L956.85 1068.24L957.65 1069.66L958.45 1068.68L959.25 1071.09L960.05 1072.94L960.85 1070.06L961.65 1069.85L962.45 1068.57L963.25 1070.19L964.05 1070.49L964.85 1070.08L965.65 1069.82L966.45 1070.06L967.25 1068.36L968.05 1068.77L968.85 1066.45L969.65 1066.19L970.45 1066.81L971.25 1065.33L972.05 1066.31L972.85 1067.03L973.65 1066.4L974.45 1065.61L975.25 1065.94L976.05 1068.4L976.85 1066.59L977.65 1067.82L978.45 1067.82L979.25 1068.48L980.05 1069.85L980.85 1068.27L981.65 1067.45L982.45 1070.37L983.25 1069.19L984.05 1069.75L984.85 1069.05L985.65 1069.9L986.45 1070.44L987.25 1070.6L988.05 1069.14L988.85 1069.3L989.65 1070.29L990.45 1070.36L991.25 1070.98L992.05 1069.97L992.85 1068.63L993.65 1071.67L994.45 1072.26L995.25 1072.39L996.05 1073.68L996.85 1073.14L997.65 1071.98L998.45 1072.65L999.25 1070.88L1000.05 1071.52L1000.85 1069.81L1001.65 1069.32L1002.45 1068.4L1003.25 1067.52L1004.05 1065.27L1004.85 1066.13L1005.65 1063.1L1006.45 1065.17L1007.25 1064.96L1008.05 1065.35L1008.85 1063.02L1009.65 1061.27L1010.45 1059.74L1011.25 1062.62L1012.05 1058.59L1012.85 1060.25L1013.65 1056.39L1014.45 1057.99L1015.25 1059.64L1016.05 1060.3L1016.85 1060.95L1017.65 1061.18L1018.45 1062.12L1019.25 1065.05L1020.05 1065.46L1020.85 1065.28L1021.65 1066.06L1022.45 1065.33L1023.25 1067.69L1024.05 1068.34L1024.85 1066.71L1025.65 1068.01L1026.45 1069.37L1027.25 1068.09L1028.05 1071.17L1028.85 1070.9L1029.65 1068.23L1030.45 1068.61L1031.25 1068.41L1032.05 1064.63L1032.85 1065.61L1033.65 1063.97L1034.45 1063.01L1035.25 1063.06L1036.05 1060.99L1036.85 1059.31L1037.65 1058.58L1038.45 1059.27L1039.25 1059.2L1040.05 1057.83L1040.85 1056.99L1041.65 1056.4L1042.45 1057L1043.25 1055.53L1044.05 1055.53L1044.85 1057.26L1045.65 1060.02L1046.45 1059.51L1047.25 1060.97L1048.05 1062.61L1048.85 1062.79L1049.65 1065.55L1050.45 1063.26L1051.25 1067.7L1052.05 1066.61L1052.85 1066.59L1053.65 1068.93L1054.45 1067.74L1055.25 1070.79L1056.05 1070.94L1056.85 1069.1L1057.65 1068.81L1058.45 1069.66L1059.25 1067.55L1060.05 1067.76L1060.85 1067.6L1061.65 1068.33L1062.45 1065.78L1063.25 1064.78L1064.05 1064.28L1064.85 1058.99L1065.65 1059.68L1066.45 1056.44L1067.25 1054.91L1068.05 1057.29L1068.85 1054.21L1069.65 1054.15L1070.45 1051.09L1071.25 1050.54L1072.05 1049.57L1072.85 1049.45L1073.65 1049.93L1074.45 1050.13L1075.25 1050.53L1076.05 1045.6L1076.85 1042.98L1077.65 1039.14L1078.45 1036.34L1079.25 1031.02L1080.05 1029.16L1080.85 1023.28L1081.65 1019.57L1082.45 1015.05L1083.25 1014.11L1084.05 1011.65L1084.85 1006.73L1085.65 999.39L1086.45 992.06L1087.25 998.26L1088.05 1004.67L1088.85 1012.02L1089.65 1018.22L1090.45 1023.08L1091.25 1027.01L1092.05 1035.95L1092.85 1041.4L1093.65 1042.89L1094.45 1046.84L1095.25 1048.36L1096.05 1052.53L1096.85 1052.08L1097.65 1056.25L1098.45 1053.27L1099.25 1054.45L1100.05 1052.05L1100.85 1047.97L1101.65 1044.58L1102.45 1042.62L1103.25 1038.85L1104.05 1035.96L1104.85 1033.06L1105.65 1029.34L1106.45 1026.47L1107.25 1024.29L1108.05 1020.73L1108.85 1019.29L1109.65 1016.37L1110.45 1016.04L1111.25 1016.6L1112.05 1021.92L1112.85 1021.01L1113.65 1026.2L1114.45 1028.71L1115.25 1034.51L1116.05 1036.97L1116.85 1038.59L1117.65 1042.41L1118.45 1046.92L1119.25 1048.12L1120.05 1051.34L1120.85 1051.87L1121.65 1054.47L1122.45 1059.14L1123.25 1062.04L1124.05 1060.26L1124.85 1062.45L1125.65 1061.98L1126.45 1063.71L1127.25 1056.94L1128.05 1051.89L1128.85 1045.37L1129.65 1041.77L1130.45 1037.91L1131.25 1035.1L1132.05 1028.55L1132.85 1026.7L1133.65 1021.38L1134.45 1017.43L1135.25 1017.32L1136.05 1017.42L1136.85 1018.77L1137.65 1022.46L1138.45 1024.34L1139.25 1032.79L1140.05 1042.02L1140.85 1046.49L1141.65 1054.1L1142.45 1055.54L1143.25 1058.63L1144.05 1061.71L1144.85 1063.09L1145.65 1065.45L1146.45 1068.05L1147.25 1067.48L1148.05 1065.65L1148.85 1065.7L1149.65 1064.06L1150.45 1066.22L1151.25 1063.24L1152.05 1064.15L1152.85 1065.33L1153.65 1064.12L1154.45 1062.76L1155.25 1062.06L1156.05 1061.89L1156.85 1064.26L1157.65 1064.86L1158.45 1065.69L1159.25 1069.48L1160.05 1067.22L1160.85 1067.45L1161.65 1065.78L1162.45 1064.6L1163.25 1062.92L1164.05 1060.56L1164.85 1059.79L1165.65 1057.47L1166.45 1054.43L1167.25 1050.07L1168.05 1051.12L1168.85 1047.17L1169.65 1045.26L1170.45 1043.7L1171.25 1040.63L1172.05 1039.09L1172.85 1037.99L1173.65 1038.32L1174.45 1042.44L1175.25 1044.73L1176.05 1048.82L1176.85 1050.35L1177.65 1053.13L1178.45 1055.7L1179.25 1057.16L1180.05 1057.98L1180.85 1061.22L1181.65 1063.16L1182.45 1065.34L1183.25 1065.37L1184.05 1066.2L1184.85 1066.64L1185.65 1071L1186.45 1068.17L1187.25 1064.79L1188.05 1062.56L1188.85 1057.69L1189.65 1057.39L1190.45 1053.41L1191.25 1050.72L1192.05 1046.5L1192.85 1047.97L1193.65 1050.34L1194.45 1051.39L1195.25 1053.8L1196.05 1051.4L1196.85 1047.74L1197.65 1049.06L1198.45 1047.94L1199.25 1048.74L1200.05 1049.64L1200.85 1053.55L1201.65 1056.08L1202.45 1060.34L1203.25 1062.9L1204.05 1062.43L1204.85 1062.6L1205.65 1062.61L1206.45 1063.61L1207.25 1060.67L1208.05 1060.38L1208.85 1060.78L1209.65 1063.86L1210.45 1064.17L1211.25 1064.83L1212.05 1065.21L1212.85 1066.39L1213.65 1067.03L1214.45 1068.72L1215.25 1070.22L1216.05 1067.79L1216.85 1069.1L1217.65 1071.1L1218.45 1071.28L1219.25 1069.65L1220.05 1070.58L1220.85 1070.79L1221.65 1070.75L1222.45 1070.73L1223.25 1071.11L1224.05 1072.08L1224.85 1071.94L1225.65 1071.61L1226.45 1071.07L1227.25 1069.85L1228.05 1069.86L1228.85 1070.81L1229.65 1070.01L1230.45 1070.47L1231.25 1069.71L1232.05 1069.79L1232.85 1070.45L1233.65 1068.75L1234.45 1070.41L1235.25 1070.26L1236.05 1071.97L1236.85 1069.44L1237.65 1068.91L1238.45 1066.8L1239.25 1066.27L1240.05 1065.07L1240.85 1062.7L1241.65 1061.57L1242.45 1060.2L1243.25 1057.34L1244.05 1052.63L1244.85 1049.4L1245.65 1045.33L1246.45 1041.2L1247.25 1038.73L1248.05 1036.02L1248.85 1032.12L1249.65 1031.84L1250.45 1026.85L1251.25 1025.67L1252.05 1022.97L1252.85 1023.55L1253.65 1027.9L1254.45 1029.02L1255.25 1033.07L1256.05 1036.25L1256.85 1039.82L1257.65 1041.16L1258.45 1041.25L1259.25 1044.82L1260.05 1049.02L1260.85 1049.3L1261.65 1052.49L1262.45 1051.6L1263.25 1053.36L1264.05 1054.17L1264.85 1056.74L1265.65 1055.21L1266.45 1048.76L1267.25 1046.26L1268.05 1041.61L1268.85 1037.86L1269.65 1034.04L1270.45 1031.56L1271.25 1030.9L1272.05 1025.04L1272.85 1029.05L1273.65 1031.82L1274.45 1032.76L1275.25 1035.76L1276.05 1032.54L1276.85 1036.6L1277.65 1037.13L1278.45 1039.28L1279.25 1040.99L1280.05 1042.9L1280.85 1041.72L1281.65 1043.61L1282.45 1041.32L1283.25 1044.02L1284.05 1042.96L1284.85 1041.6L1285.65 1041.75L1286.45 1041.65L1287.25 1041.65L1288.05 1041.96L1288.85 1042.36L1289.65 1041.03L1290.45 1038.1L1291.25 1036.33L1292.05 1037.53L1292.85 1034.79L1293.65 1033.37L1294.45 1030.19L1295.25 1030.78L1296.05 1023.82L1296.85 1025.01L1297.65 1026.32L1298.45 1023.81L1299.25 1023.2L1300.05 1025.43L1300.85 1022.7L1301.65 1025.87L1302.45 1029.13L1303.25 1033.53L1304.05 1037.29L1304.85 1040.78L1305.65 1047.5L1306.45 1049.51L1307.25 1054.11L1308.05 1058.21L1308.85 1063.48L1309.65 1061.26L1310.45 1059.86L1311.25 1060.95L1312.05 1059.56L1312.85 1058.28L1313.65 1054.99L1314.45 1050.63L1315.25 1046.41L1316.05 1041.32L1316.85 1036.09L1317.65 1031.7L1318.45 1029.98L1319.25 1025.71L1320.05 1024.38L1320.85 1021.13L1321.65 1019.49L1322.45 1022.67L1323.25 1026.67L1324.05 1029.18L1324.85 1031.08L1325.65 1036.34L1326.45 1040.55L1327.25 1045.24L1328.05 1048.96L1328.85 1054.63L1329.65 1058.42L1330.45 1059.41L1331.25 1060.34L1332.05 1061.28L1332.85 1064.17L1333.65 1064.14L1334.45 1062.7L1335.25 1060.78L1336.05 1059.89L1336.85 1058.65L1337.65 1054.15L1338.45 1054.06L1339.25 1051.79L1340.05 1052.45L1340.85 1050.96L1341.65 1050L1342.45 1051.73L1343.25 1052.54L1344.05 1050.64L1344.85 1054.7L1345.65 1057.54L1346.45 1060.48L1347.25 1061.35L1348.05 1064.44L1348.85 1068.5L1349.65 1071.94L1350.45 1070.75L1351.25 1070.56L1352.05 1068.68L1352.85 1067.88L1353.65 1065.99L1354.45 1065.08L1355.25 1063.67L1356.05 1063.28L1356.85 1063.22L1357.65 1061.29L1358.45 1060.95L1359.25 1058.85L1360.05 1059.42L1360.85 1054.73L1361.65 1055.66L1362.45 1055.96L1363.25 1053.66L1364.05 1055.86L1364.85 1056.3L1365.65 1055.97L1366.45 1057.79L1367.25 1056.97L1368.05 1058.38L1368.85 1059.66L1369.65 1058.91L1370.45 1062.04L1371.25 1060.8L1372.05 1062.96L1372.85 1062.26L1373.65 1062.98L1374.45 1061.96L1375.25 1062.78L1376.05 1062.87L1376.85 1063.74L1377.65 1065.1L1378.45 1063.36L1379.25 1063.96L1380.05 1064.68L1380.85 1065.38L1381.65 1064.61L1382.45 1064.54L1383.25 1063.24L1384.05 1061.97L1384.85 1060.34L1385.65 1057.54L1386.45 1056.06L1387.25 1054.22L1388.05 1050.45L1388.85 1046.93L1389.65 1045.23L1390.45 1042.26L1391.25 1040.44L1392.05 1041.53L1392.85 1041.5L1393.65 1043.13L1394.45 1044.28L1395.25 1045.12L1396.05 1044.31L1396.85 1047.11L1397.65 1048.55L1398.45 1049.76L1399.25 1050.79L1400.05 1054.58L1400.85 1056.21L1401.65 1059.99L1402.45 1061.98L1403.25 1066.16L1404.05 1068.24L1404.85 1068.59L1405.65 1065.93L1406.45 1067.94L1407.25 1068.77L1408.05 1067.43L1408.85 1065.99L1409.65 1069.52L1410.45 1067.86L1411.25 1067.95L1412.05 1070.17L1412.85 1069.05L1413.65 1069.55L1414.45 1070.12L1415.25 1067.96L1416.05 1066.71L1416.85 1068.07L1417.65 1066.87L1418.45 1067.2L1419.25 1066.44L1420.05 1064.87L1420.85 1065.05L1421.65 1064L1422.45 1063.43L1423.25 1062.94L1424.05 1062.66L1424.85 1061.84L1425.65 1060.27L1426.45 1062.7L1427.25 1061.15L1428.05 1065.33L1428.85 1062.87L1429.65 1064.09L1430.45 1065.85L1431.25 1064.19L1432.05 1063L1432.85 1062.72L1433.65 1064.32L1434.45 1064.33L1435.25 1064.63L1436.05 1061.87L1436.85 1058.91L1437.65 1057.67L1438.45 1056.44L1439.25 1051.99L1440.05 1054.18L1440.85 1049.03L1441.65 1049.9L1442.45 1049.73L1443.25 1047.96L1444.05 1046.55L1444.85 1046.17L1445.65 1045.98L1446.45 1041.2L1447.25 1045L1448.05 1044.94L1448.85 1045.45L1449.65 1047.06L1450.45 1047.92L1451.25 1049.03L1452.05 1048.75L1452.85 1051.08L1453.65 1047.22L1454.45 1047.7L1455.25 1046.8L1456.05 1047.48L1456.85 1046.24L1457.65 1046.62L1458.45 1044.66L1459.25 1046.71L1460.05 1047.5L1460.85 1047.57L1461.65 1047.72L1462.45 1049.56L1463.25 1049.2L1464.05 1051.19L1464.85 1049.91L1465.65 1047.08L1466.45 1049.44L1467.25 1046.45L1468.05 1044.59L1468.85 1049.54L1469.65 1051.36L1470.45 1051.66L1471.25 1052.35L1472.05 1056.09L1472.85 1055.58L1473.65 1054.73L1474.45 1053.89L1475.25 1052.39L1476.05 1050.29L1476.85 1048.96L1477.65 1050.76L1478.45 1047.79L1479.25 1050.33L1480.05 1050.27L1480.85 1050.53L1481.65 1049.63L1482.45 1050.22L1483.25 1049.46L1484.05 1045.49L1484.85 1044.46L1485.65 1042.65L1486.45 1038.87L1487.25 1037.05L1488.05 1037.45L1488.85 1034.78L1489.65 1030.86L1490.45 1031.13L1491.25 1032.41L1492.05 1035.01L1492.85 1035.95L1493.65 1030.77L1494.45 1031.3L1495.25 1031.38L1496.05 1035.64L1496.85 1037.39L1497.65 1040.77L1498.45 1045.09L1499.25 1046.86L1500.05 1050.15L1500.85 1051.67L1501.65 1055.85L1502.45 1056.05L1503.25 1056.34" stroke="#3f7a32" stroke-width="2.5" fill="none" stroke-linejoin="round" stroke-linecap="round"/>
<path d="M263.25 1088.06L263.95 1088.06L264.65 1088.06L265.35 1088.06L266.05 1088.06L266.75 1089.65L267.45 1091.83L268.15 1092.21L268.85 1092.44L269.55 1092.68L270.25 1092.91L270.95 1093.14L271.65 1093.38L272.35 1093.58L273.05 1093.81L273.75 1094.04L274.45 1094.2L275.15 1094.2L275.85 1094.2L276.55 1093.67L277.25 1093.48L277.95 1093.3L278.65 1093.12L279.35 1092.94L280.05 1092.76L280.75 1092.57L281.45 1092.86L282.15 1092.68L282.85 1092.5L283.55 1092.31L284.25 1092.03L284.95 1091.85L285.65 1091.67L286.35 1091.48L287.05 1091.29L287.75 1091.24L288.45 1091.43L289.15 1091.57L289.85 1091.76L290.55 1091.95L291.25 1092.13L291.95 1092.32L292.65 1092.51L293.35 1092.69L294.05 1092.88L294.75 1092.87L295.45 1093L296.15 1093.08L296.85 1093.17L297.55 1093.36L298.25 1093.44L298.95 1093.53L299.65 1093.62L300.35 1094.2L301.05 1094.2L301.75 1094.2L302.45 1094.2L303.15 1094.2L303.85 1094.2L304.55 1094.2L305.25 1094.2L305.95 1094.2L306.65 1094.2L307.35 1094.2L308.05 1094.2L308.75 1094.2L309.45 1094.2L310.15 1094.2L310.85 1094.2L311.55 1094.2L312.25 1094.2L312.95 1094.2L313.65 1094.2L314.35 1094.09L315.05 1094.07L315.75 1087.43L316.45 1087.43L317.15 1087.43L317.85 1087.43L318.55 1087.43L319.25 1086.81L319.95 1086.81L320.65 1086.81L321.35 1086.81L322.05 1086.81L322.75 1086.81L323.45 1086.81L324.15 1088.57L324.85 1088.57L325.55 1088.57L326.25 1088.57L326.95 1088.57L327.65 1090.32L328.35 1094.2L329.05 1094.2L329.75 1094.2L330.45 1094.18L331.15 1094.15L331.85 1094.12L332.55 1094.2L333.25 1094.2L333.95 1094.2L334.65 1094.07L335.35 1094.04L336.05 1094.01L336.75 1093.98L337.45 1093.95L338.15 1094.08L338.85 1094.05L339.55 1094.01L340.25 1094.18L340.95 1094.14L341.65 1094.11L342.35 1094.08L343.05 1094.05L343.75 1094.02L344.45 1093.99L345.15 1093.96L345.85 1093.41L346.55 1093.39L347.25 1093.37L347.95 1093.34L348.65 1093.32L349.35 1093.3L350.05 1093.28L350.75 1093.26L351.45 1093.49L352.15 1093.47L352.85 1093.45L353.55 1093.43L354.25 1093.41L354.95 1093.38L355.65 1093.33L356.35 1093.31L357.05 1093.29L357.75 1093.26L358.45 1093.24L359.15 1093.04L359.85 1093.01L360.55 1092.99L361.25 1092.95L361.95 1087.03L362.65 1086.78L363.35 1086.53L364.05 1086.29L364.75 1086.04L365.45 1085.79L366.15 1086.48L366.85 1086.26L367.55 1086.04L368.25 1085.83L368.95 1085.61L369.65 1085.39L370.35 1084.06L371.05 1081.61L371.75 1078.59L372.45 1076.21L373.15 1079.16L373.85 1082.17L374.55 1082.22L375.25 1082.28L375.95 1082.34L376.65 1084.79L377.35 1084.84L378.05 1084.88L378.75 1084.93L379.45 1084.97L380.15 1085.01L380.85 1083.77L381.55 1083.82L382.25 1083.87L382.95 1083.93L383.65 1083.98L384.35 1087.85L385.05 1091.99L385.75 1090.9L386.45 1090.06L387.15 1089.23L387.85 1088.4L388.55 1087.57L389.25 1086.74L389.95 1086.36L390.65 1085.57L391.35 1084.93L392.05 1086.79L392.75 1086.94L393.45 1087.08L394.15 1085.1L394.85 1085.29L395.55 1085.49L396.25 1085.68L396.95 1085.87L397.65 1088.44L398.35 1089.58L399.05 1090.24L399.75 1090.24L400.45 1090.24L401.15 1090.24L401.85 1090.24L402.55 1089.45L403.25 1089.45L403.95 1087.7L404.65 1082.87L405.35 1082.87L406.05 1082.48L406.75 1082.48L407.45 1082.48L408.15 1082.48L408.85 1082.48L409.55 1082.48L410.25 1082.48L410.95 1081.99L411.65 1081.99L412.35 1081.99L413.05 1081.99L413.75 1081.99L414.45 1084.11L415.15 1084.67L415.85 1087.25L416.55 1089.83L417.25 1090.53L417.95 1087.63L418.65 1084.85L419.35 1084.48L420.05 1083.84L420.75 1083.88L421.45 1083.92L422.15 1083.96L422.85 1084L423.55 1084.04L424.25 1084.57L424.95 1084.6L425.65 1084.64L426.35 1084.68L427.05 1084.72L427.75 1085.1L428.45 1086.24L429.15 1087.21L429.85 1088.19L430.55 1094.2L431.25 1094.2L431.95 1094.2L432.65 1094.2L433.35 1094.2L434.05 1094.2L434.75 1094.2L435.45 1094.2L436.15 1094.2L436.85 1094.2L437.55 1094.2L438.25 1094.2L438.95 1091.46L439.65 1087.22L440.35 1087.22L441.05 1087.22L441.75 1087.22L442.45 1087.92L443.15 1087.92L443.85 1087.92L444.55 1087.92L445.25 1087.36L445.95 1087.36L446.65 1087.36L447.35 1087.36L448.05 1087.31L448.75 1087.31L449.45 1087.31L450.15 1088.08L450.85 1091.69L451.55 1093.91L452.25 1093.95L452.95 1094L453.65 1094.2L454.35 1094.2L455.05 1094.2L455.75 1094.2L456.45 1094.2L457.15 1094.2L457.85 1094.2L458.55 1094.2L459.25 1094.2L459.95 1094.2L460.65 1094.2L461.35 1094.2L462.05 1094.2L462.75 1094.2L463.45 1094.2L464.15 1094.2L464.85 1094.18L465.55 1094.04L466.25 1093.9L466.95 1093.76L467.65 1093.62L468.35 1093.48L469.05 1093.39L469.75 1093.25L470.45 1093.11L471.15 1092.97L471.85 1092.83L472.55 1092.64L473.25 1092.5L473.95 1092.36L474.65 1092.22L475.35 1092.21L476.05 1092.34L476.75 1092.46L477.45 1092.3L478.15 1092.43L478.85 1092.55L479.55 1092.68L480.25 1092.81L480.95 1093.03L481.65 1093.16L482.35 1093.28L483.05 1093.41L483.75 1093.53L484.45 1093.58L485.15 1093.71L485.85 1093.83L486.55 1093.96L487.25 1094.09L487.95 1090.56L488.65 1084.17L489.35 1083.13L490.05 1082.95L490.75 1082.77L491.45 1083.79L492.15 1082L492.85 1078.17L493.55 1077.42L494.25 1077.47L494.95 1077.51L495.65 1079.71L496.35 1079.75L497.05 1079.8L497.75 1079.85L498.45 1079.89L499.15 1077.62L499.85 1077.66L500.55 1084.82L501.25 1087.64L501.95 1087.83L502.65 1088.02L503.35 1088.22L504.05 1091.33L504.75 1094.2L505.45 1094.2L506.15 1094.2L506.85 1094.2L507.55 1094.2L508.25 1094.2L508.95 1094.2L509.65 1094.2L510.35 1094.2L511.05 1094.2L511.75 1094.2L512.45 1094.2L513.15 1094.2L513.85 1094.2L514.55 1094.2L515.25 1094.2L515.95 1093.88L516.65 1093.86L517.35 1093.84L518.05 1093.83L518.75 1093.81L519.45 1093.79L520.15 1093.78L520.85 1093.76L521.55 1094.2L522.25 1094.19L522.95 1094.17L523.65 1094.16L524.35 1094.14L525.05 1094.12L525.75 1094.11L526.45 1094.01L527.15 1094L527.85 1093.99L528.55 1093.98L529.25 1093.97L529.95 1093.95L530.65 1093.73L531.35 1093.71L532.05 1093.7L532.75 1093.69L533.45 1093.68L534.15 1093.86L534.85 1093.85L535.55 1093.84L536.25 1093.83L536.95 1093.82L537.65 1093.81L538.35 1093.79L539.05 1093.78L539.75 1093.78L540.45 1093.66L541.15 1093.47L541.85 1093.29L542.55 1093.11L543.25 1092.92L543.95 1092.73L544.65 1092.55L545.35 1092.36L546.05 1092.32L546.75 1092.13L547.45 1091.95L548.15 1092.06L548.85 1092.2L549.55 1092.34L550.25 1092.37L550.95 1092.51L551.65 1092.65L552.35 1092.79L553.05 1092.93L553.75 1093.07L554.45 1093.21L555.15 1093.35L555.85 1093.3L556.55 1093.44L557.25 1093.58L557.95 1093.72L558.65 1093.86L559.35 1094L560.05 1094.12L560.75 1094.08L561.45 1094.15L562.15 1094.1L562.85 1094.06L563.55 1094.01L564.25 1094.2L564.95 1094.2L565.65 1094.16L566.35 1094.12L567.05 1094.07L567.75 1091.4L568.45 1084.94L569.15 1079.26L569.85 1078.82L570.55 1078.39L571.25 1069.01L571.95 1069.01L572.65 1067.65L573.35 1067.65L574.05 1067.65L574.75 1067.65L575.45 1067.65L576.15 1067.65L576.85 1069.79L577.55 1069.79L578.25 1069.79L578.95 1069.79L579.65 1069.93L580.35 1077.28L581.05 1080.64L581.75 1080.91L582.45 1081.18L583.15 1080.06L583.85 1081.02L584.55 1086.32L585.25 1087.56L585.95 1081.83L586.65 1079.1L587.35 1078.59L588.05 1078.09L588.75 1077.35L589.45 1076.84L590.15 1076.34L590.85 1075.84L591.55 1078.45L592.25 1077.94L592.95 1078.27L593.65 1079.05L594.35 1079.83L595.05 1080.62L595.75 1081.4L596.45 1081.39L597.15 1082.17L597.85 1082.96L598.55 1083.65L599.25 1084.23L599.95 1084.77L600.65 1085.31L601.35 1084.69L602.05 1085.32L602.75 1085.94L603.45 1086.56L604.15 1087.18L604.85 1087.81L605.55 1087L606.25 1085.79L606.95 1085.06L607.65 1084.41L608.35 1085.55L609.05 1086.69L609.75 1086.97L610.45 1087.49L611.15 1087.56L611.85 1087.64L612.55 1087.72L613.25 1087.79L613.95 1087.87L614.65 1087.95L615.35 1088.01L616.05 1088.09L616.75 1088.17L617.45 1088.25L618.15 1090.69L618.85 1092.81L619.55 1092.81L620.25 1092.97L620.95 1092.93L621.65 1092.89L622.35 1093.15L623.05 1093.11L623.75 1093.07L624.45 1093.17L625.15 1093.13L625.85 1093.09L626.55 1093.05L627.25 1093.01L627.95 1092.73L628.65 1092.69L629.35 1091.2L630.05 1089.68L630.75 1089.61L631.45 1088.41L632.15 1088.32L632.85 1088.23L633.55 1088.14L634.25 1088.05L634.95 1087.96L635.65 1089.2L636.35 1089.13L637.05 1089.06L637.75 1088.99L638.45 1088.92L639.15 1088.19L639.85 1088.11L640.55 1088.04L641.25 1087.96L641.95 1090.18L642.65 1092.32L643.35 1092.46L644.05 1092.6L644.75 1092.74L645.45 1092.88L646.15 1093.02L646.85 1093.16L647.55 1093.59L648.25 1093.73L648.95 1093.87L649.65 1094.01L650.35 1094.15L651.05 1094.2L651.75 1094.2L652.45 1094.2L653.15 1094.2L653.85 1094.2L654.55 1094.17L655.25 1094.03L655.95 1093.89L656.65 1091.83L657.35 1088.91L658.05 1088.2L658.75 1088.12L659.45 1088.04L660.15 1087.99L660.85 1087.91L661.55 1087.83L662.25 1087.76L662.95 1087.68L663.65 1087.61L664.35 1087.53L665.05 1087.45L665.75 1086.86L666.45 1086.78L667.15 1086.7L667.85 1087.98L668.55 1090.83L669.25 1091.47L669.95 1091.38L670.65 1091.29L671.35 1091.2L672.05 1091.12L672.75 1091.03L673.45 1090.94L674.15 1090.55L674.85 1090.45L675.55 1090.35L676.25 1090.25L676.95 1090.15L677.65 1089.49L678.35 1087.13L679.05 1085.93L679.75 1086.58L680.45 1087.23L681.15 1087.87L681.85 1087.85L682.55 1087.95L683.25 1088.04L683.95 1087.2L684.65 1087.31L685.35 1087.43L686.05 1087.54L686.75 1087.65L687.45 1088.73L688.15 1088.83L688.85 1088.92L689.55 1089.01L690.25 1090.1L690.95 1093.05L691.65 1094.2L692.35 1094.2L693.05 1094.2L693.75 1094.2L694.45 1094.2L695.15 1094.2L695.85 1094.2L696.55 1094.2L697.25 1094.2L697.95 1093.7L698.65 1093.68L699.35 1093.67L700.05 1093.65L700.75 1093.63L701.45 1093.61L702.15 1093.59L702.85 1094.2L703.55 1094.2L704.25 1094.2L704.95 1094.2L705.65 1094.2L706.35 1094.2L707.05 1094.2L707.75 1093.78L708.45 1093.76L709.15 1093.74L709.85 1093.83L710.55 1090.9L711.25 1087.28L711.95 1087.17L712.65 1087.07L713.35 1086.4L714.05 1086.29L714.75 1086.18L715.45 1086.07L716.15 1085.96L716.85 1081.36L717.55 1080.24L718.25 1080.24L718.95 1081.07L719.65 1081.07L720.35 1081.07L721.05 1081.07L721.75 1082.24L722.45 1082.24L723.15 1084.27L723.85 1085.31L724.55 1085.31L725.25 1085.31L725.95 1085.31L726.65 1085.31L727.35 1085.56L728.05 1088.13L728.75 1091.4L729.45 1091.21L730.15 1091.03L730.85 1090.85L731.55 1090.66L732.25 1090.48L732.95 1090.08L733.65 1089.89L734.35 1089.69L735.05 1089.28L735.75 1086.07L736.45 1083.44L737.15 1082.28L737.85 1081.11L738.55 1079.6L739.25 1078.44L739.95 1077.27L740.65 1073.29L741.35 1069.65L742.05 1069.37L742.75 1068.71L743.45 1068.43L744.15 1068.15L744.85 1067.87L745.55 1068.96L746.25 1068.68L746.95 1072.6L747.65 1075.76L748.35 1076.11L749.05 1074.98L749.75 1075.33L750.45 1077.48L751.15 1080.63L751.85 1082.93L752.55 1086.42L753.25 1086.87L753.95 1087.31L754.65 1088.66L755.35 1089.03L756.05 1089.4L756.75 1089.35L757.45 1089.18L758.15 1088.96L758.85 1088.73L759.55 1088.51L760.25 1088.01L760.95 1087.78L761.65 1087.54L762.35 1087.31L763.05 1087.45L763.75 1089.19L764.45 1089.37L765.15 1089.55L765.85 1089.73L766.55 1089.91L767.25 1090.09L767.95 1090.27L768.65 1090.45L769.35 1089.54L770.05 1089.79L770.75 1090.09L771.45 1090.39L772.15 1090.69L772.85 1090.98L773.55 1091.28L774.25 1091.58L774.95 1092.08L775.65 1089.56L776.35 1086.83L777.05 1084.3L777.75 1084.2L778.45 1084.1L779.15 1082.95L779.85 1082.84L780.55 1082.73L781.25 1082.62L781.95 1082.51L782.65 1075.93L783.35 1071.74L784.05 1071.74L784.75 1071.74L785.45 1071.74L786.15 1071.74L786.85 1071.74L787.55 1072.02L788.25 1075.94L788.95 1081.32L789.65 1079.92L790.35 1078.52L791.05 1077.12L791.75 1069.72L792.45 1066.34L793.15 1066.54L793.85 1068.05L794.55 1074.65L795.25 1074.72L795.95 1074.78L796.65 1074.85L797.35 1074.91L798.05 1074.74L798.75 1074.81L799.45 1074.87L800.15 1074.13L800.85 1070.46L801.55 1066.78L802.25 1066.56L802.95 1073.08L803.65 1079.08L804.35 1081.14L805.05 1082.44L805.75 1083L806.45 1083L807.15 1083L807.85 1083L808.55 1083.35L809.25 1083.35L809.95 1083.35L810.65 1082.53L811.35 1082.53L812.05 1082.53L812.75 1084.27L813.45 1089.12L814.15 1091.03L814.85 1090.66L815.55 1090.29L816.25 1089.89L816.95 1089.52L817.65 1089.15L818.35 1088.78L819.05 1088.41L819.75 1088.04L820.45 1087.78L821.15 1087.51L821.85 1087.31L822.55 1087.12L823.25 1086.93L823.95 1088.84L824.65 1090.5L825.35 1090.91L826.05 1090.08L826.75 1089.25L827.45 1088.42L828.15 1085.84L828.85 1085.78L829.55 1085.72L830.25 1085.66L830.95 1085.65L831.65 1085.59L832.35 1085.53L833.05 1085.62L833.75 1085.56L834.45 1085.5L835.15 1085.44L835.85 1085.38L836.55 1086.03L837.25 1085.97L837.95 1082.44L838.65 1084.08L839.35 1086.27L840.05 1086.57L840.75 1086.35L841.45 1086.13L842.15 1086.24L842.85 1086.04L843.55 1085.83L844.25 1085.62L844.95 1085.42L845.65 1085.21L846.35 1083.84L847.05 1075.45L847.75 1067.05L848.45 1066.52L849.15 1066L849.85 1065.47L850.55 1064.95L851.25 1064.42L851.95 1067.19L852.65 1066.53L853.35 1065.36L854.05 1064.19L854.75 1063.03L855.45 1061.86L856.15 1060.69L856.85 1064.43L857.55 1068.56L858.25 1073.11L858.95 1076.86L859.65 1078.61L860.35 1080.36L861.05 1082.11L861.75 1083.1L862.45 1083.79L863.15 1085.56L863.85 1086.17L864.55 1086.78L865.25 1087.39L865.95 1088L866.65 1089.36L867.35 1091L868.05 1093.03L868.75 1092.98L869.45 1092.94L870.15 1092.76L870.85 1092.72L871.55 1092.67L872.25 1092.63L872.95 1092.59L873.65 1092.55L874.35 1092.25L875.05 1092.21L875.75 1092.16L876.45 1090.85L877.15 1085.8L877.85 1083.22L878.55 1083.14L879.25 1083.06L879.95 1084.99L880.65 1084.93L881.35 1084.86L882.05 1084.79L882.75 1084.31L883.45 1081.27L884.15 1079.83L884.85 1079.72L885.55 1078.5L886.25 1078.39L886.95 1078.29L887.65 1078.18L888.35 1078.08L889.05 1079.82L889.75 1084.01L890.45 1084.25L891.15 1081.62L891.85 1079.62L892.55 1077.66L893.25 1075.7L893.95 1075.3L894.65 1078.8L895.35 1079.85L896.05 1078.45L896.75 1078.46L897.45 1077.06L898.15 1076.64L898.85 1076.29L899.55 1075.94L900.25 1076.69L900.95 1076.34L901.65 1075.99L902.35 1075.64L903.05 1076.67L903.75 1075.46L904.45 1076.86L905.15 1077.59L905.85 1074.93L906.55 1073.18L907.25 1071.43L907.95 1069.68L908.65 1067.93L909.35 1066.18L910.05 1064.51L910.75 1064.76L911.45 1064.06L912.15 1063.36L912.85 1062.66L913.55 1061.96L914.25 1063.26L914.95 1065.36L915.65 1067.46L916.35 1068.56L917.05 1069.96L917.75 1071.36L918.45 1072.76L919.15 1071.36L919.85 1067.86L920.55 1071.71L921.25 1074.16L921.95 1076.61L922.65 1078.59L923.35 1081.53L924.05 1084.38L924.75 1087.2L925.45 1088.78L926.15 1088.94L926.85 1089.09L927.55 1089.24L928.25 1085.05L928.95 1078.21L929.65 1078.21L930.35 1078.21L931.05 1078.21L931.75 1078.21L932.45 1078.21L933.15 1081.54L933.85 1081.54L934.55 1081.54L935.25 1081.54L935.95 1081.54L936.65 1081.54L937.35 1080.82L938.05 1080.82L938.75 1080.82L939.45 1080.82L940.15 1082.18L940.85 1090.14L941.55 1091.82L942.25 1089.97L942.95 1088.11L943.65 1086.26L944.35 1085.64L945.05 1082.84L945.75 1082.31L946.45 1081.77L947.15 1081.24L947.85 1080.98L948.55 1080.98L949.25 1080.98L949.95 1081.32L950.65 1081.32L951.35 1081.32L952.05 1081.32L952.75 1082.32L953.45 1082.32L954.15 1083.74L954.85 1086.23L955.55 1088.72L956.25 1091.21L956.95 1091.83L957.65 1092.25L958.35 1092.67L959.05 1093.09L959.75 1093.51L960.45 1093.84L961.15 1094.2L961.85 1094.2L962.55 1094.06L963.25 1093.92L963.95 1093.78L964.65 1093.47L965.35 1093.33L966.05 1093.19L966.75 1093.05L967.45 1093.33L968.15 1093.19L968.85 1093.05L969.55 1092.91L970.25 1092.83L970.95 1092.87L971.65 1092.92L972.35 1092.96L973.05 1092.7L973.75 1092.74L974.45 1092.78L975.15 1092.83L975.85 1092.87L976.55 1092.91L977.25 1092.77L977.95 1092.81L978.65 1092.85L979.35 1092.89L980.05 1093.34L980.75 1093.38L981.45 1093.42L982.15 1093.46L982.85 1093.2L983.55 1092.64L984.25 1092.08L984.95 1091.58L985.65 1090.92L986.35 1090.8L987.05 1090.69L987.75 1090.57L988.45 1090.46L989.15 1090.34L989.85 1090.32L990.55 1090.48L991.25 1090.73L991.95 1090.97L992.65 1091.21L993.35 1091.71L994.05 1091.93L994.75 1092.15L995.45 1092.38L996.15 1092.61L996.85 1092.84L997.55 1093.06L998.25 1093.4L998.95 1093.62L999.65 1093.85L1000.35 1093.89L1001.05 1093.75L1001.75 1093.76L1002.45 1093.62L1003.15 1093.48L1003.85 1093.34L1004.55 1093.18L1005.25 1093.04L1005.95 1092.9L1006.65 1092.76L1007.35 1092.42L1008.05 1092.28L1008.75 1092.14L1009.45 1092L1010.15 1091.86L1010.85 1091.73L1011.55 1091.51L1012.25 1091.38L1012.95 1091.41L1013.65 1091.52L1014.35 1091.39L1015.05 1091.53L1015.75 1091.65L1016.45 1091.77L1017.15 1091.89L1017.85 1092.08L1018.55 1092.2L1019.25 1092.32L1019.95 1092.45L1020.65 1092.57L1021.35 1092.92L1022.05 1093.05L1022.75 1092.7L1023.45 1091.53L1024.15 1090.11L1024.85 1088.89L1025.55 1088.41L1026.25 1088.15L1026.95 1086.08L1027.65 1085.73L1028.35 1085.37L1029.05 1086.72L1029.75 1086.44L1030.45 1086.15L1031.15 1085.87L1031.85 1085.59L1032.55 1085.31L1033.25 1085.03L1033.95 1085.22L1034.65 1086.81L1035.35 1088.13L1036.05 1089.45L1036.75 1089.04L1037.45 1087.94L1038.15 1086.84L1038.85 1085.9L1039.55 1085.78L1040.25 1085.78L1040.95 1085.78L1041.65 1085.78L1042.35 1087.05L1043.05 1087.05L1043.75 1087.05L1044.45 1088.92L1045.15 1090.39L1045.85 1090.39L1046.55 1090.39L1047.25 1089.81L1047.95 1089.81L1048.65 1089.81L1049.35 1090.24L1050.05 1090.38L1050.75 1092.37L1051.45 1093.83L1052.15 1093.69L1052.85 1093.23L1053.55 1093.09L1054.25 1092.95L1054.95 1092.81L1055.65 1092.67L1056.35 1092.57L1057.05 1092.43L1057.75 1092.29L1058.45 1092.15L1059.15 1092.01L1059.85 1091.87L1060.55 1091.48L1061.25 1091.26L1061.95 1090.82L1062.65 1090.38L1063.35 1089.93L1064.05 1089.73L1064.75 1089.31L1065.45 1086.59L1066.15 1082.6L1066.85 1078.23L1067.55 1073.85L1068.25 1071.08L1068.95 1071.17L1069.65 1067.56L1070.35 1067.66L1071.05 1067.75L1071.75 1067.85L1072.45 1067.95L1073.15 1068.05L1073.85 1068.14L1074.55 1068.24L1075.25 1070.7L1075.95 1070.79L1076.65 1070.89L1077.35 1075.27L1078.05 1084.42L1078.75 1084.15L1079.45 1083.89L1080.15 1085.2L1080.85 1084.98L1081.55 1084.75L1082.25 1084.53L1082.95 1084.3L1083.65 1084.08L1084.35 1083.86L1085.05 1083.68L1085.75 1082.91L1086.45 1083.48L1087.15 1084.05L1087.85 1084.62L1088.55 1085.19L1089.25 1085.94L1089.95 1086.76L1090.65 1087.11L1091.35 1087.99L1092.05 1088.88L1092.75 1089.76L1093.45 1091.16L1094.15 1090.93L1094.85 1089.98L1095.55 1089.04L1096.25 1088.09L1096.95 1087.14L1097.65 1086.2L1098.35 1085.25L1099.05 1079.2L1099.75 1074.26L1100.45 1069.36L1101.15 1064.46L1101.85 1063.52L1102.55 1065.02L1103.25 1064.74L1103.95 1064.46L1104.65 1064.18L1105.35 1063.9L1106.05 1063.62L1106.75 1063.34L1107.45 1063.88L1108.15 1066.46L1108.85 1068.26L1109.55 1061.69L1110.25 1058.99L1110.95 1058.99L1111.65 1058.99L1112.35 1063.8L1113.05 1072.76L1113.75 1074.48L1114.45 1074.79L1115.15 1075.09L1115.85 1075.4L1116.55 1075.7L1117.25 1077.47L1117.95 1077.77L1118.65 1078.08L1119.35 1079.92L1120.05 1082.02L1120.75 1084.02L1121.45 1086.01L1122.15 1087.41L1122.85 1089.62L1123.55 1091.81L1124.25 1092.51L1124.95 1092.65L1125.65 1092.79L1126.35 1092.67L1127.05 1090.46L1127.75 1088.25L1128.45 1086.03L1129.15 1083.82L1129.85 1081.6L1130.55 1079.05L1131.25 1075.55L1131.95 1072.05L1132.65 1071.68L1133.35 1071.55L1134.05 1071.42L1134.75 1071.29L1135.45 1071.16L1136.15 1069.98L1136.85 1069.85L1137.55 1069.72L1138.25 1069.59L1138.95 1070.58L1139.65 1073.38L1140.35 1076.18L1141.05 1078.98L1141.75 1083.39L1142.45 1088.48L1143.15 1092.98L1143.85 1092.79L1144.55 1092.61L1145.25 1092.42L1145.95 1091.98L1146.65 1091.81L1147.35 1091.66L1148.05 1091.5L1148.75 1090.79L1149.45 1090.59L1150.15 1090.39L1150.85 1090.19L1151.55 1089.99L1152.25 1089.81L1152.95 1088.28L1153.65 1086.02L1154.35 1085.07L1155.05 1084.84L1155.75 1084.62L1156.45 1084.4L1157.15 1084.18L1157.85 1083.95L1158.55 1083.73L1159.25 1084.21L1159.95 1084L1160.65 1081.72L1161.35 1079.36L1162.05 1077.05L1162.75 1075.69L1163.45 1078.5L1164.15 1078.85L1164.85 1079.2L1165.55 1076.71L1166.25 1073.63L1166.95 1070.37L1167.65 1067.1L1168.35 1063.83L1169.05 1062.27L1169.75 1062.97L1170.45 1063.67L1171.15 1062.58L1171.85 1063.28L1172.55 1063.98L1173.25 1064.68L1173.95 1065.58L1174.65 1066.98L1175.35 1066.95L1176.05 1068.35L1176.75 1069.75L1177.45 1072.06L1178.15 1073.46L1178.85 1075.06L1179.55 1078.29L1180.25 1081.09L1180.95 1083.87L1181.65 1084.86L1182.35 1084.51L1183.05 1085.41L1183.75 1085.11L1184.45 1083.7L1185.15 1082.16L1185.85 1080.52L1186.55 1077.47L1187.25 1075.84L1187.95 1073.31L1188.65 1072.22L1189.35 1069.19L1190.05 1066.16L1190.75 1063.12L1191.45 1058.67L1192.15 1058.67L1192.85 1058.67L1193.55 1058.67L1194.25 1058.67L1194.95 1058.67L1195.65 1059.91L1196.35 1060.14L1197.05 1061.78L1197.75 1063.41L1198.45 1065.04L1199.15 1067.56L1199.85 1069.2L1200.55 1076.28L1201.25 1084.63L1201.95 1091.75L1202.65 1092.25L1203.35 1092.18L1204.05 1092.11L1204.75 1091.76L1205.45 1091.7L1206.15 1091.63L1206.85 1091.57L1207.55 1091.5L1208.25 1091.44L1208.95 1091.66L1209.65 1091.61L1210.35 1091.73L1211.05 1091.83L1211.75 1092.18L1212.45 1092.53L1213.15 1092.88L1213.85 1093.23L1214.55 1093.58L1215.25 1094.05L1215.95 1093.94L1216.65 1093.82L1217.35 1093.7L1218.05 1093.13L1218.75 1093.01L1219.45 1092.9L1220.15 1092.78L1220.85 1092.66L1221.55 1092.55L1222.25 1092.43L1222.95 1089.25L1223.65 1085.48L1224.35 1081.06L1225.05 1076.4L1225.75 1073.41L1226.45 1071.34L1227.15 1071.37L1227.85 1071.4L1228.55 1073.34L1229.25 1073.37L1229.95 1073.4L1230.65 1073.44L1231.35 1073.47L1232.05 1073.5L1232.75 1072.22L1233.45 1072.25L1234.15 1072.29L1234.85 1072.32L1235.55 1072.35L1236.25 1072.38L1236.95 1078.4L1237.65 1081.83L1238.35 1075.1L1239.05 1071.08L1239.75 1070.1L1240.45 1069.12L1241.15 1068.14L1241.85 1067.16L1242.55 1066.18L1243.25 1067.1L1243.95 1066.12L1244.65 1065.14L1245.35 1065.87L1246.05 1068.32L1246.75 1069.16L1247.45 1071.61L1248.15 1073.09L1248.85 1074.49L1249.55 1075.89L1250.25 1077.29L1250.95 1078.69L1251.65 1079.69L1252.35 1081.83L1253.05 1082.51L1253.75 1083.17L1254.45 1082.32L1255.15 1083.08L1255.85 1083.84L1256.55 1083.84L1257.25 1082.83L1257.95 1081.81L1258.65 1083.69L1259.35 1082.81L1260.05 1081.59L1260.75 1076.69L1261.45 1072.72L1262.15 1071.09L1262.85 1069.39L1263.55 1067.76L1264.25 1066.13L1264.95 1063.15L1265.65 1062.97L1266.35 1062.9L1267.05 1062.83L1267.75 1062.76L1268.45 1062.69L1269.15 1062.21L1269.85 1062.14L1270.55 1064.43L1271.25 1067.37L1271.95 1070.31L1272.65 1073.22L1273.35 1076.02L1274.05 1078.82L1274.75 1081.72L1275.45 1084.47L1276.15 1087.22L1276.85 1086.83L1277.55 1085.91L1278.25 1085L1278.95 1084.08L1279.65 1084.79L1280.35 1082.13L1281.05 1077.23L1281.75 1072.33L1282.45 1067.43L1283.15 1062.53L1283.85 1058.33L1284.55 1058.33L1285.25 1057.13L1285.95 1057.13L1286.65 1057.13L1287.35 1057.13L1288.05 1057.13L1288.75 1057.13L1289.45 1055.99L1290.15 1055.99L1290.85 1055.99L1291.55 1053.93L1292.25 1048.49L1292.95 1043.67L1293.65 1046.18L1294.35 1054.18L1295.05 1061.53L1295.75 1061.79L1296.45 1060.62L1297.15 1059.46L1297.85 1058.29L1298.55 1057.12L1299.25 1056.79L1299.95 1056.79L1300.65 1054.93L1301.35 1054.93L1302.05 1054.93L1302.75 1056.35L1303.45 1060.31L1304.15 1064.28L1304.85 1068.25L1305.55 1072.21L1306.25 1076.23L1306.95 1077.63L1307.65 1079.03L1308.35 1080.45L1309.05 1082L1309.75 1083.55L1310.45 1084.8L1311.15 1084.62L1311.85 1084.44L1312.55 1084.27L1313.25 1084.09L1313.95 1083.91L1314.65 1083.74L1315.35 1082.35L1316.05 1080.65L1316.75 1078.08L1317.45 1075.52L1318.15 1072.95L1318.85 1070.55L1319.55 1069.15L1320.25 1067.08L1320.95 1065.68L1321.65 1064.28L1322.35 1062.88L1323.05 1063.13L1323.75 1063.83L1324.45 1064.53L1325.15 1065.23L1325.85 1064.51L1326.55 1065.21L1327.25 1065.91L1327.95 1068.56L1328.65 1072.3L1329.35 1076.63L1330.05 1080.37L1330.75 1084.3L1331.45 1087.82L1332.15 1088.51L1332.85 1089.19L1333.55 1089.88L1334.25 1087.14L1334.95 1083.02L1335.65 1077.52L1336.35 1073.91L1337.05 1073.81L1337.75 1073.71L1338.45 1073.61L1339.15 1073.51L1339.85 1073.41L1340.55 1073.31L1341.25 1073.85L1341.95 1073.75L1342.65 1073.65L1343.35 1073.55L1344.05 1073.45L1344.75 1073.35L1345.45 1075.79L1346.15 1079.51L1346.85 1083.47L1347.55 1087.1L1348.25 1085.45L1348.95 1083.8L1349.65 1082.15L1350.35 1080.52L1351.05 1078.95L1351.75 1077.8L1352.45 1076.23L1353.15 1076.11L1353.85 1077.94L1354.55 1077.94L1355.25 1077.94L1355.95 1077.94L1356.65 1075.54L1357.35 1071.34L1358.05 1071.81L1358.75 1070.54L1359.45 1072.29L1360.15 1073.47L1360.85 1074.46L1361.55 1073.53L1362.25 1072.59L1362.95 1071.66L1363.65 1070.73L1364.35 1074.19L1365.05 1078.33L1365.75 1079.55L1366.45 1080.78L1367.15 1082L1367.85 1078.93L1368.55 1080.55L1369.25 1082.17L1369.95 1083.79L1370.65 1083.91L1371.35 1083.91L1372.05 1083.91L1372.75 1083.91L1373.45 1087.63L1374.15 1089.53L1374.85 1091.44L1375.55 1092.63L1376.25 1092.63L1376.95 1092.63L1377.65 1092.63L1378.35 1092.63L1379.05 1092.63L1379.75 1092.63L1380.45 1092.43L1381.15 1092.43L1381.85 1092.43L1382.55 1092.43L1383.25 1088.3L1383.95 1082.48L1384.65 1079.42L1385.35 1076.62L1386.05 1076.72L1386.75 1073.92L1387.45 1071.12L1388.15 1067.52L1388.85 1063.32L1389.55 1059.12L1390.25 1050.77L1390.95 1051.12L1391.65 1051.47L1392.35 1051.82L1393.05 1052.17L1393.75 1052.52L1394.45 1055.99L1395.15 1056.34L1395.85 1059.39L1396.55 1062.89L1397.25 1066.39L1397.95 1069.89L1398.65 1073.39L1399.35 1074.77L1400.05 1078.27L1400.75 1081.56L1401.45 1084.91L1402.15 1088.25L1402.85 1091.11L1403.55 1091.03L1404.25 1091.03L1404.95 1091.03L1405.65 1091.03L1406.35 1091.03L1407.05 1091.03L1407.75 1091.03L1408.45 1091.03L1409.15 1091.62L1409.85 1091.62L1410.55 1091.62L1411.25 1091.62L1411.95 1091.19L1412.65 1090.96L1413.35 1090.74L1414.05 1090.05L1414.75 1089.79L1415.45 1088.27L1416.15 1083.6L1416.85 1081.01L1417.55 1081.76L1418.25 1081.3L1418.95 1080.83L1419.65 1080.36L1420.35 1079.94L1421.05 1077.85L1421.75 1077.71L1422.45 1077.57L1423.15 1077.43L1423.85 1077.29L1424.55 1077.15L1425.25 1077.01L1425.95 1076.87L1426.65 1078.85L1427.35 1080.95L1428.05 1083.11L1428.75 1085.27L1429.45 1086.13L1430.15 1086.28L1430.85 1086.72L1431.55 1086.85L1432.25 1086.99L1432.95 1086.87L1433.65 1086.1L1434.35 1085.32L1435.05 1084.55L1435.75 1083.57L1436.45 1082.78L1437.15 1082L1437.85 1081.21L1438.55 1080.42L1439.25 1079.84L1439.95 1079.62L1440.65 1078.01L1441.35 1077.78L1442.05 1077.56L1442.75 1077.33L1443.45 1077.11L1444.15 1076.89L1444.85 1076.66L1445.55 1079.89L1446.25 1080.17L1446.95 1080.45L1447.65 1080.73L1448.35 1081.01L1449.05 1081.29L1449.75 1081.51L1450.45 1079.91L1451.15 1073.61L1451.85 1070.39L1452.55 1070.25L1453.25 1070.11L1453.95 1069.97L1454.65 1069.83L1455.35 1068.73L1456.05 1068.59L1456.75 1068.45L1457.45 1068.31L1458.15 1063.93L1458.85 1062.53L1459.55 1061.13L1460.25 1059.73L1460.95 1063.93L1461.65 1067.89L1462.35 1070.95L1463.05 1074.33L1463.75 1075.46L1464.45 1073.13L1465.15 1070.79L1465.85 1068.46L1466.55 1066.29L1467.25 1066.29L1467.95 1066.29L1468.65 1069.02L1469.35 1069.02L1470.05 1069.02L1470.75 1071.52L1471.45 1075.02L1472.15 1074.88L1472.85 1074.46L1473.55 1074.45L1474.25 1074.03L1474.95 1073.61L1475.65 1073.19L1476.35 1072.77L1477.05 1075.22L1477.75 1079.75L1478.45 1082.99L1479.15 1083.22L1479.85 1080.53L1480.55 1080.53L1481.25 1080.53L1481.95 1080.53L1482.65 1081L1483.35 1081L1484.05 1080.65L1484.75 1075.75L1485.45 1072.12L1486.15 1071.11L1486.85 1070.65L1487.55 1070.18L1488.25 1069.71L1488.95 1069.25L1489.65 1067.48L1490.35 1065.61L1491.05 1063.75L1491.75 1061.15L1492.45 1059.28L1493.15 1057.48L1493.85 1058.8L1494.55 1057.05L1495.25 1055.3L1495.95 1056.47L1496.65 1057.63L1497.35 1058.05L1498.05 1059.22L1498.75 1060.38L1499.45 1060.35L1500.15 1059.65L1500.85 1058.95L1501.55 1058.38L1502.25 1057.26L1502.95 1058.31L1503.65 1059.36" stroke="#0a0a0a" stroke-width="2.4" fill="none" stroke-linejoin="round" stroke-linecap="round"/>
<line x1="193.65" y1="931.25" x2="193.65" y2="1103.2" stroke="#111" stroke-width="1.5" />
<line x1="192.9" y1="1103.2" x2="1522" y2="1103.2" stroke="#111" stroke-width="1.5" />
<line x1="183" y1="938.75" x2="194" y2="938.75" stroke="#1a1a1a" stroke-width="1.3" />
<text x="166.6" y="947.05" font-size="21.8" text-anchor="end" fill="#111" textLength="47.1" lengthAdjust="spacingAndGlyphs" >1.00</text>
<line x1="183" y1="978" x2="194" y2="978" stroke="#1a1a1a" stroke-width="1.3" />
<text x="166.6" y="986.3" font-size="21.8" text-anchor="end" fill="#111" textLength="47.1" lengthAdjust="spacingAndGlyphs" >0.75</text>
<line x1="183" y1="1016.75" x2="194" y2="1016.75" stroke="#1a1a1a" stroke-width="1.3" />
<text x="166.6" y="1025.05" font-size="21.8" text-anchor="end" fill="#111" textLength="47.1" lengthAdjust="spacingAndGlyphs" >0.50</text>
<line x1="183" y1="1055.75" x2="194" y2="1055.75" stroke="#1a1a1a" stroke-width="1.3" />
<text x="166.6" y="1064.05" font-size="21.8" text-anchor="end" fill="#111" textLength="47.1" lengthAdjust="spacingAndGlyphs" >0.25</text>
<line x1="183" y1="1094.75" x2="194" y2="1094.75" stroke="#1a1a1a" stroke-width="1.3" />
<text x="166.6" y="1103.05" font-size="21.8" text-anchor="end" fill="#111" textLength="13.46" lengthAdjust="spacingAndGlyphs" >0</text>
<line x1="256.4" y1="1103.2" x2="256.4" y2="1114.7" stroke="#1a1a1a" stroke-width="1.3" />
<line x1="542.2" y1="1103.2" x2="542.2" y2="1114.7" stroke="#1a1a1a" stroke-width="1.3" />
<line x1="828" y1="1103.2" x2="828" y2="1114.7" stroke="#1a1a1a" stroke-width="1.3" />
<line x1="1113.8" y1="1103.2" x2="1113.8" y2="1114.7" stroke="#1a1a1a" stroke-width="1.3" />
<line x1="1399.6" y1="1103.2" x2="1399.6" y2="1114.7" stroke="#1a1a1a" stroke-width="1.3" />
<text x="71.25" y="1083.13" font-size="26.5" text-anchor="start" fill="#3f7a32" textLength="130.2" lengthAdjust="spacingAndGlyphs" transform="rotate(-90 71.25 1083.13)" >Mean MFE</text>
<text x="100.3" y="1103.67" font-size="26.5" text-anchor="start" fill="#111" textLength="170.29" lengthAdjust="spacingAndGlyphs" transform="rotate(-90 100.3 1103.67)" >entropy (bits)</text>
<rect x="255" y="1146.5" width="39.5" height="188" fill="#eeeeee"/>
<rect x="439.7" y="1146.5" width="138.3" height="188" fill="#eeeeee"/>
<rect x="748" y="1146.5" width="85.4" height="188" fill="#eeeeee"/>
<rect x="890" y="1146.5" width="188" height="188" fill="#eeeeee"/>
<rect x="1127.3" y="1146.5" width="12.5" height="188" fill="#eeeeee"/>
<rect x="1244.2" y="1146.5" width="264.2" height="188" fill="#eeeeee"/>
<line x1="258.7" y1="1238.25" x2="1500" y2="1238.25" stroke="#808080" stroke-width="2.0" />
<rect x="338.45" y="1218.96" width="2.1" height="19.59" rx="0.6" fill="#808080"/>
<rect x="371.85" y="1231.62" width="3.3" height="6.93" rx="0.6" fill="#808080"/>
<rect x="374.8" y="1225.29" width="5.4" height="13.26" rx="0.6" fill="#808080"/>
<rect x="472.75" y="1237.95" width="2.5" height="13.26" rx="0.6" fill="#808080"/>
<rect x="474.35" y="1225.29" width="2.3" height="13.26" rx="0.6" fill="#808080"/>
<rect x="531.35" y="1231.62" width="2.3" height="6.93" rx="0.6" fill="#808080"/>
<rect x="577.25" y="1237.95" width="3.1" height="6.93" rx="0.6" fill="#808080"/>
<rect x="583.35" y="1237.95" width="4.9" height="6.93" rx="0.6" fill="#808080"/>
<rect x="588.05" y="1237.95" width="2.5" height="89.22" rx="0.6" fill="#808080"/>
<rect x="589.95" y="1225.29" width="2.1" height="13.26" rx="0.6" fill="#808080"/>
<rect x="589.95" y="1237.95" width="2.7" height="44.91" rx="0.6" fill="#808080"/>
<rect x="591.55" y="1237.95" width="2.5" height="25.92" rx="0.6" fill="#808080"/>
<rect x="621.35" y="1237.95" width="2.3" height="6.93" rx="0.6" fill="#808080"/>
<rect x="627.05" y="1237.95" width="10.9" height="6.93" rx="0.6" fill="#808080"/>
<rect x="729.85" y="1237.95" width="2.3" height="6.93" rx="0.6" fill="#808080"/>
<rect x="732.55" y="1237.95" width="4.1" height="6.93" rx="0.6" fill="#808080"/>
<rect x="733.9" y="1155.66" width="2.2" height="82.89" rx="0.6" fill="#808080"/>
<rect x="734.15" y="1237.95" width="2.1" height="13.26" rx="0.6" fill="#808080"/>
<rect x="736.35" y="1199.97" width="1.9" height="38.58" rx="0.6" fill="#808080"/>
<rect x="742.9" y="1187.31" width="2.2" height="51.24" rx="0.6" fill="#808080"/>
<rect x="743.85" y="1225.29" width="1.9" height="13.26" rx="0.6" fill="#808080"/>
<rect x="1070.95" y="1231.62" width="2.1" height="6.93" rx="0.6" fill="#808080"/>
<rect x="1076.05" y="1237.95" width="4.9" height="6.93" rx="0.6" fill="#808080"/>
<line x1="193.65" y1="1147.5" x2="193.65" y2="1335" stroke="#111" stroke-width="1.5" />
<line x1="192.9" y1="1335" x2="1529.5" y2="1335" stroke="#111" stroke-width="1.5" />
<line x1="184" y1="1175" x2="194" y2="1175" stroke="#1a1a1a" stroke-width="1.3" />
<text x="165.3" y="1181.5" font-size="21.8" text-anchor="end" fill="#111" textLength="26.92" lengthAdjust="spacingAndGlyphs" >10</text>
<line x1="184" y1="1206.75" x2="194" y2="1206.75" stroke="#1a1a1a" stroke-width="1.3" />
<text x="165.3" y="1213.25" font-size="21.8" text-anchor="end" fill="#111" textLength="13.46" lengthAdjust="spacingAndGlyphs" >5</text>
<line x1="184" y1="1238.25" x2="194" y2="1238.25" stroke="#1a1a1a" stroke-width="1.3" />
<text x="165.3" y="1244.75" font-size="21.8" text-anchor="end" fill="#111" textLength="13.46" lengthAdjust="spacingAndGlyphs" >0</text>
<line x1="184" y1="1270" x2="194" y2="1270" stroke="#1a1a1a" stroke-width="1.3" />
<text x="165.3" y="1276.5" font-size="21.8" text-anchor="end" fill="#111" textLength="25.85" lengthAdjust="spacingAndGlyphs" >−5</text>
<line x1="184" y1="1301.75" x2="194" y2="1301.75" stroke="#1a1a1a" stroke-width="1.3" />
<text x="165.3" y="1308.25" font-size="21.8" text-anchor="end" fill="#111" textLength="35.13" lengthAdjust="spacingAndGlyphs" >−10</text>
<line x1="184" y1="1333.25" x2="194" y2="1333.25" stroke="#1a1a1a" stroke-width="1.3" />
<text x="165.3" y="1339.75" font-size="21.8" text-anchor="end" fill="#111" textLength="35.13" lengthAdjust="spacingAndGlyphs" >−15</text>
<line x1="258" y1="1335" x2="258" y2="1349" stroke="#1a1a1a" stroke-width="1.3" />
<line x1="541" y1="1335" x2="541" y2="1349" stroke="#1a1a1a" stroke-width="1.3" />
<line x1="824" y1="1335" x2="824" y2="1349" stroke="#1a1a1a" stroke-width="1.3" />
<line x1="1107" y1="1335" x2="1107" y2="1349" stroke="#1a1a1a" stroke-width="1.3" />
<line x1="1390" y1="1335" x2="1390" y2="1349" stroke="#1a1a1a" stroke-width="1.3" />
<text x="75" y="1321.26" font-size="26.5" text-anchor="start" fill="#111" textLength="158.2" lengthAdjust="spacingAndGlyphs" transform="rotate(-90 75 1321.26)" >Size of InDel</text>
<text x="108.75" y="1316" font-size="26.5" text-anchor="start" fill="#111" textLength="151.04" lengthAdjust="spacingAndGlyphs" transform="rotate(-90 108.75 1316)" >AA residues</text>
<rect x="255" y="1385.5" width="39.5" height="418.5" fill="#eeeeee"/>
<rect x="439.7" y="1385.5" width="138.3" height="418.5" fill="#eeeeee"/>
<rect x="748" y="1385.5" width="85.4" height="418.5" fill="#eeeeee"/>
<rect x="890" y="1385.5" width="188" height="418.5" fill="#eeeeee"/>
<rect x="1127.3" y="1385.5" width="12.5" height="418.5" fill="#eeeeee"/>
<rect x="1244.2" y="1385.5" width="264.2" height="418.5" fill="#eeeeee"/>
<line x1="186.2" y1="1398" x2="1528.8" y2="1398" stroke="#222" stroke-width="1.25" />
<line x1="186.2" y1="1418.72" x2="1528.8" y2="1418.72" stroke="#222" stroke-width="1.25" />
<line x1="186.2" y1="1439.44" x2="1528.8" y2="1439.44" stroke="#222" stroke-width="1.25" />
<line x1="186.2" y1="1460.16" x2="1528.8" y2="1460.16" stroke="#222" stroke-width="1.25" />
<line x1="186.2" y1="1480.88" x2="1528.8" y2="1480.88" stroke="#222" stroke-width="1.25" />
<line x1="186.2" y1="1501.6" x2="1528.8" y2="1501.6" stroke="#222" stroke-width="1.25" />
<line x1="186.2" y1="1522.32" x2="1528.8" y2="1522.32" stroke="#222" stroke-width="1.25" />
<line x1="186.2" y1="1543.04" x2="1528.8" y2="1543.04" stroke="#222" stroke-width="1.25" />
<line x1="186.2" y1="1563.76" x2="1528.8" y2="1563.76" stroke="#222" stroke-width="1.25" />
<line x1="186.2" y1="1584.48" x2="1528.8" y2="1584.48" stroke="#222" stroke-width="1.25" />
<line x1="186.2" y1="1605.2" x2="1528.8" y2="1605.2" stroke="#222" stroke-width="1.25" />
<line x1="186.2" y1="1625.92" x2="1528.8" y2="1625.92" stroke="#222" stroke-width="1.25" />
<line x1="186.2" y1="1646.64" x2="1528.8" y2="1646.64" stroke="#222" stroke-width="1.25" />
<line x1="186.2" y1="1667.36" x2="1528.8" y2="1667.36" stroke="#222" stroke-width="1.25" />
<line x1="186.2" y1="1688.08" x2="1528.8" y2="1688.08" stroke="#222" stroke-width="1.25" />
<line x1="186.2" y1="1708.8" x2="1528.8" y2="1708.8" stroke="#222" stroke-width="1.25" />
<line x1="186.2" y1="1729.52" x2="1528.8" y2="1729.52" stroke="#222" stroke-width="1.25" />
<line x1="186.2" y1="1750.24" x2="1528.8" y2="1750.24" stroke="#222" stroke-width="1.25" />
<line x1="186.2" y1="1770.96" x2="1528.8" y2="1770.96" stroke="#222" stroke-width="1.25" />
<line x1="186.2" y1="1791.68" x2="1528.8" y2="1791.68" stroke="#222" stroke-width="1.25" />
<line x1="257.6" y1="1385.5" x2="257.6" y2="1804" stroke="#e2e2e2" stroke-width="2.0" stroke-opacity="0.92"/>
<line x1="399.1" y1="1385.5" x2="399.1" y2="1804" stroke="#e2e2e2" stroke-width="2.0" stroke-opacity="0.92"/>
<line x1="540.6" y1="1385.5" x2="540.6" y2="1804" stroke="#e2e2e2" stroke-width="2.0" stroke-opacity="0.92"/>
<line x1="682.1" y1="1385.5" x2="682.1" y2="1804" stroke="#e2e2e2" stroke-width="2.0" stroke-opacity="0.92"/>
<line x1="823.6" y1="1385.5" x2="823.6" y2="1804" stroke="#e2e2e2" stroke-width="2.0" stroke-opacity="0.92"/>
<line x1="965.1" y1="1385.5" x2="965.1" y2="1804" stroke="#e2e2e2" stroke-width="2.0" stroke-opacity="0.92"/>
<line x1="1106.6" y1="1385.5" x2="1106.6" y2="1804" stroke="#e2e2e2" stroke-width="2.0" stroke-opacity="0.92"/>
<line x1="1248.1" y1="1385.5" x2="1248.1" y2="1804" stroke="#e2e2e2" stroke-width="2.0" stroke-opacity="0.92"/>
<line x1="1389.6" y1="1385.5" x2="1389.6" y2="1804" stroke="#e2e2e2" stroke-width="2.0" stroke-opacity="0.92"/>
<rect x="194" y="1385.5" width="1334.8" height="418.5" fill="none" stroke="#1a1a1a" stroke-width="1.3"/>
<line x1="257.6" y1="1804" x2="257.6" y2="1812" stroke="#1a1a1a" stroke-width="1.3" />
<line x1="540.6" y1="1804" x2="540.6" y2="1812" stroke="#1a1a1a" stroke-width="1.3" />
<line x1="823.6" y1="1804" x2="823.6" y2="1812" stroke="#1a1a1a" stroke-width="1.3" />
<line x1="1106.6" y1="1804" x2="1106.6" y2="1812" stroke="#1a1a1a" stroke-width="1.3" />
<line x1="1389.6" y1="1804" x2="1389.6" y2="1812" stroke="#1a1a1a" stroke-width="1.3" />
<circle cx="590.75" cy="1398" r="14.6" fill="none" stroke="#000" stroke-width="1.75"/>
<circle cx="627.5" cy="1398" r="4.1" fill="none" stroke="#000" stroke-width="1.75"/>
<circle cx="579.5" cy="1418.72" r="3.85" fill="none" stroke="#000" stroke-width="1.75"/>
<circle cx="590" cy="1418.72" r="14.6" fill="none" stroke="#000" stroke-width="1.75"/>
<circle cx="627.5" cy="1418.72" r="4.1" fill="none" stroke="#000" stroke-width="1.75"/>
<circle cx="592.5" cy="1439.44" r="11.6" fill="none" stroke="#000" stroke-width="1.75"/>
<circle cx="633" cy="1439.44" r="4.1" fill="none" stroke="#000" stroke-width="1.75"/>
<circle cx="733.75" cy="1439.44" r="4.1" fill="none" stroke="#000" stroke-width="1.75"/>
<circle cx="474.25" cy="1460.16" r="8.85" fill="none" stroke="#000" stroke-width="1.75"/>
<circle cx="577.5" cy="1460.16" r="4.1" fill="none" stroke="#000" stroke-width="1.75"/>
<circle cx="630" cy="1460.16" r="4.1" fill="none" stroke="#000" stroke-width="1.75"/>
<circle cx="591.25" cy="1480.88" r="11.35" fill="none" stroke="#000" stroke-width="1.75"/>
<circle cx="629.5" cy="1480.88" r="4.1" fill="none" stroke="#000" stroke-width="1.75"/>
<circle cx="733.75" cy="1480.88" r="4.1" fill="none" stroke="#000" stroke-width="1.75"/>
<circle cx="635.75" cy="1501.6" r="4.1" fill="none" stroke="#000" stroke-width="1.75"/>
<circle cx="737" cy="1501.6" r="4.1" fill="none" stroke="#000" stroke-width="1.75"/>
<circle cx="591.25" cy="1522.32" r="4.1" fill="none" stroke="#000" stroke-width="1.75"/>
<circle cx="635" cy="1522.32" r="4.1" fill="none" stroke="#000" stroke-width="1.75"/>
<circle cx="587.5" cy="1543.04" r="4.1" fill="none" stroke="#000" stroke-width="1.75"/>
<circle cx="586" cy="1563.76" r="4.1" fill="none" stroke="#000" stroke-width="1.75"/>
<circle cx="591.75" cy="1584.48" r="4.1" fill="none" stroke="#000" stroke-width="1.75"/>
<circle cx="633" cy="1584.48" r="4.1" fill="none" stroke="#000" stroke-width="1.75"/>
<circle cx="473.25" cy="1625.92" r="8.85" fill="none" stroke="#000" stroke-width="1.75"/>
<circle cx="634.25" cy="1625.92" r="4.1" fill="none" stroke="#000" stroke-width="1.75"/>
<circle cx="735" cy="1625.92" r="8.85" fill="#fff" stroke="#000" stroke-width="1.75"/>
<circle cx="473.25" cy="1646.64" r="8.85" fill="none" stroke="#000" stroke-width="1.75"/>
<circle cx="589.25" cy="1646.64" r="11.6" fill="none" stroke="#000" stroke-width="1.75"/>
<circle cx="632.5" cy="1646.64" r="4.1" fill="none" stroke="#000" stroke-width="1.75"/>
<circle cx="473.25" cy="1667.36" r="8.85" fill="none" stroke="#000" stroke-width="1.75"/>
<circle cx="591.5" cy="1667.36" r="11.6" fill="none" stroke="#000" stroke-width="1.75"/>
<circle cx="630.5" cy="1667.36" r="4.1" fill="none" stroke="#000" stroke-width="1.75"/>
<circle cx="473.5" cy="1688.08" r="8.85" fill="none" stroke="#000" stroke-width="1.75"/>
<circle cx="634.5" cy="1688.08" r="4.1" fill="none" stroke="#000" stroke-width="1.75"/>
<circle cx="473.5" cy="1708.8" r="8.85" fill="none" stroke="#000" stroke-width="1.75"/>
<circle cx="587" cy="1708.8" r="4.1" fill="none" stroke="#000" stroke-width="1.75"/>
<circle cx="630.5" cy="1708.8" r="4.1" fill="none" stroke="#000" stroke-width="1.75"/>
<circle cx="633" cy="1708.8" r="4.1" fill="none" stroke="#000" stroke-width="1.75"/>
<circle cx="473" cy="1729.52" r="8.85" fill="none" stroke="#000" stroke-width="1.75"/>
<circle cx="631.25" cy="1729.52" r="4.1" fill="none" stroke="#000" stroke-width="1.75"/>
<circle cx="473" cy="1750.24" r="8.85" fill="none" stroke="#000" stroke-width="1.75"/>
<circle cx="634.5" cy="1750.24" r="4.1" fill="none" stroke="#000" stroke-width="1.75"/>
<circle cx="473.25" cy="1770.96" r="8.85" fill="none" stroke="#000" stroke-width="1.75"/>
<circle cx="583.75" cy="1770.96" r="4.1" fill="none" stroke="#000" stroke-width="1.75"/>
<circle cx="630.5" cy="1770.96" r="4.1" fill="none" stroke="#000" stroke-width="1.75"/>
<circle cx="473.25" cy="1791.68" r="8.85" fill="none" stroke="#000" stroke-width="1.75"/>
<circle cx="588.75" cy="1791.68" r="19.85" fill="none" stroke="#000" stroke-width="1.75"/>
<circle cx="622.5" cy="1791.68" r="4.1" fill="none" stroke="#000" stroke-width="1.75"/>
<circle cx="730.75" cy="1791.68" r="4.1" fill="none" stroke="#000" stroke-width="1.75"/>
<circle cx="1076.7" cy="1398" r="4.1" fill="none" stroke="#000" stroke-width="1.75"/>
<circle cx="1076" cy="1418.72" r="4.1" fill="none" stroke="#000" stroke-width="1.75"/>
<circle cx="1077.7" cy="1439.44" r="4.1" fill="none" stroke="#000" stroke-width="1.75"/>
<circle cx="1078.8" cy="1460.16" r="4.1" fill="none" stroke="#000" stroke-width="1.75"/>
<circle cx="1078.8" cy="1522.32" r="4.1" fill="none" stroke="#000" stroke-width="1.75"/>
<circle cx="376.25" cy="1398" r="4.5" fill="#000"/>
<circle cx="376.25" cy="1418.72" r="4.5" fill="#000"/>
<circle cx="378.5" cy="1439.44" r="4.5" fill="#000"/>
<circle cx="372.25" cy="1460.16" r="4.5" fill="#000"/>
<circle cx="590.5" cy="1460.16" r="8.25" fill="#000"/>
<circle cx="378.5" cy="1480.88" r="4.5" fill="#000"/>
<circle cx="339" cy="1501.6" r="10.5" fill="#000"/>
<circle cx="378.5" cy="1501.6" r="4.5" fill="#000"/>
<circle cx="475" cy="1501.6" r="8.75" fill="#000"/>
<circle cx="744.5" cy="1501.6" r="4" fill="#000"/>
<circle cx="378.5" cy="1522.32" r="4.5" fill="#000"/>
<circle cx="475.5" cy="1522.32" r="8.75" fill="#000"/>
<circle cx="532" cy="1605.2" r="4.5" fill="#000"/>
<circle cx="378.5" cy="1625.92" r="4.5" fill="#000"/>
<circle cx="591.25" cy="1625.92" r="4.5" fill="#000"/>
<circle cx="377.5" cy="1646.64" r="4.5" fill="#000"/>
<circle cx="375.75" cy="1667.36" r="8.5" fill="#000"/>
<circle cx="735.5" cy="1667.36" r="19.25" fill="#000"/>
<circle cx="378.25" cy="1688.08" r="8.5" fill="#000"/>
<circle cx="591.25" cy="1688.08" r="4.5" fill="#000"/>
<circle cx="744" cy="1688.08" r="16" fill="#000"/>
<circle cx="375.25" cy="1708.8" r="4.5" fill="#000"/>
<circle cx="376.25" cy="1729.52" r="4.5" fill="#000"/>
<circle cx="743.25" cy="1729.52" r="8.5" fill="#000"/>
<circle cx="373.5" cy="1750.24" r="4.5" fill="#000"/>
<circle cx="378.5" cy="1770.96" r="4.5" fill="#000"/>
<circle cx="743" cy="1770.96" r="4" fill="#000"/>
<circle cx="378" cy="1791.68" r="4.5" fill="#000"/>
<circle cx="1071.7" cy="1791.68" r="4.25" fill="#000"/>
<text x="175.3" y="1404.5" font-size="21.5" text-anchor="end" fill="#111" textLength="87.84" lengthAdjust="spacingAndGlyphs" >EV-A123</text>
<text x="175.3" y="1425.22" font-size="21.5" text-anchor="end" fill="#111" textLength="87.84" lengthAdjust="spacingAndGlyphs" >EV-A122</text>
<text x="175.3" y="1445.94" font-size="21.5" text-anchor="end" fill="#111" textLength="87.84" lengthAdjust="spacingAndGlyphs" >EV-A124</text>
<text x="175.3" y="1466.66" font-size="21.5" text-anchor="end" fill="#111" textLength="75.47" lengthAdjust="spacingAndGlyphs" >EV-A92</text>
<text x="175.3" y="1487.38" font-size="21.5" text-anchor="end" fill="#111" textLength="87.84" lengthAdjust="spacingAndGlyphs" >EV-A124</text>
<text x="175.3" y="1508.1" font-size="21.5" text-anchor="end" fill="#111" textLength="75.47" lengthAdjust="spacingAndGlyphs" >EV-A76</text>
<text x="175.3" y="1528.82" font-size="21.5" text-anchor="end" fill="#111" textLength="75.47" lengthAdjust="spacingAndGlyphs" >EV-A90</text>
<text x="175.3" y="1549.54" font-size="21.5" text-anchor="end" fill="#111" textLength="76.69" lengthAdjust="spacingAndGlyphs" >CV-A14</text>
<text x="175.3" y="1570.26" font-size="21.5" text-anchor="end" fill="#111" textLength="64.32" lengthAdjust="spacingAndGlyphs" >CV-A7</text>
<text x="175.3" y="1590.98" font-size="21.5" text-anchor="end" fill="#111" textLength="87.84" lengthAdjust="spacingAndGlyphs" >EV-A120</text>
<text x="175.3" y="1611.7" font-size="21.5" text-anchor="end" fill="#111" textLength="75.47" lengthAdjust="spacingAndGlyphs" >EV-A71</text>
<text x="175.3" y="1632.42" font-size="21.5" text-anchor="end" fill="#111" textLength="64.32" lengthAdjust="spacingAndGlyphs" >CV-A2</text>
<text x="175.3" y="1653.14" font-size="21.5" text-anchor="end" fill="#111" textLength="86.19" lengthAdjust="spacingAndGlyphs" >EV-A114</text>
<text x="175.3" y="1673.86" font-size="21.5" text-anchor="end" fill="#111" textLength="64.32" lengthAdjust="spacingAndGlyphs" >CV-A6</text>
<text x="175.3" y="1694.58" font-size="21.5" text-anchor="end" fill="#111" textLength="69.27" lengthAdjust="spacingAndGlyphs" >CV- A4</text>
<text x="175.3" y="1715.3" font-size="21.5" text-anchor="end" fill="#111" textLength="64.32" lengthAdjust="spacingAndGlyphs" >CV-A8</text>
<text x="175.3" y="1736.02" font-size="21.5" text-anchor="end" fill="#111" textLength="76.69" lengthAdjust="spacingAndGlyphs" >CV-A10</text>
<text x="175.3" y="1756.74" font-size="21.5" text-anchor="end" fill="#111" textLength="64.32" lengthAdjust="spacingAndGlyphs" >CV-A5</text>
<text x="175.3" y="1777.46" font-size="21.5" text-anchor="end" fill="#111" textLength="76.69" lengthAdjust="spacingAndGlyphs" >CV-A12</text>
<text x="175.3" y="1798.18" font-size="21.5" text-anchor="end" fill="#111" textLength="87.84" lengthAdjust="spacingAndGlyphs" >EV-A125</text>
<line x1="70.75" y1="1393.75" x2="70.75" y2="1490" stroke="#000" stroke-width="2.0" />
<line x1="70.75" y1="1494.25" x2="70.75" y2="1780" stroke="#000" stroke-width="2.0" />
<path d="M1.04 1453.9L6.79 1453.64L11.23 1451.81L14.88 1447.11L17.75 1441.11L20.63 1436.41L24.54 1432.49L27.68 1431.19L32.38 1429.88L41.78 1428.99L49.61 1427.95L54.57 1427.79L56.14 1426.12L59.79 1425.97L62.92 1427.64L62.92 1430.67L63.81 1432.75L63.45 1434.74L62.04 1435.47L59.53 1435.1L57.7 1436.41L56.29 1437.45L56.81 1442.15L59.27 1446.33L62.92 1451.03L65.9 1453.54L65.27 1454.06L61.36 1453.75L58.75 1450.77L54.83 1446.33L52.22 1441.63L51.44 1440.69L50.23 1444.24L49.71 1451.55L50.23 1453.64L52.85 1454.16L52.85 1455.63L47.62 1455.63L45.33 1454.06L41.25 1453.75L40.21 1451.55L38.12 1446.33L36.55 1443.46L33.42 1442.68L31.85 1443.46L31.33 1446.33L27.15 1449.2L23.24 1451.03L22.56 1453.64L24.02 1456.78L23.24 1457.19L21.15 1456.25L22.19 1453.9L20.78 1450.09L20.37 1449.2L22.98 1448.42L28.2 1443.46L27.94 1435.89L27.15 1434.84L24.54 1435.89L21.93 1439.02L18.8 1443.2L16.19 1447.9L12.01 1452.86L7.05 1454.95L1.04 1454.79ZM39.16 1439.28L47 1440.07L45.54 1444.24L47 1451.81L43.45 1451.97L41.78 1444.24Z" fill="#3a3a3a" fill-rule="evenodd"/>
<path d="M46.4 1603.98L48.64 1604.5L49.95 1606.23L49.95 1608.84L50.73 1609.36L49.95 1610.4L48.9 1612.49L48.64 1613.02L48.9 1615.1L53.86 1616.15L55.17 1617.98L55.95 1624.24L58.56 1629.46L60.91 1635.73L63.52 1637.3L65.87 1639.39L64.83 1640.17L64.83 1644.61L62.22 1643.56L60.39 1640.43L57.26 1636.25L54.39 1631.03L52.56 1625.29L51.78 1628.42L52.19 1634.69L53.6 1639.39L53.86 1644.61L52.92 1649.83L52.4 1654.01L53.08 1659.23L52.56 1663.93L51.51 1668.11L51.51 1671.24L53.86 1673.85L53.86 1675.68L50.21 1675.68L49.69 1672.81L49.43 1668.11L48.38 1662.36L48.12 1656.62L47.18 1649.83L46.4 1642.52L45.77 1649.83L44.73 1656.62L44.46 1662.36L43.42 1668.11L43.42 1672.81L42.9 1675.68L39.24 1675.68L38.98 1673.85L41.33 1671.24L41.59 1668.11L40.55 1663.93L40.03 1659.23L40.55 1654.01L40.03 1649.83L38.98 1644.61L39.24 1639.39L40.81 1634.69L41.33 1628.42L40.29 1625.29L38.46 1631.03L35.59 1636.25L32.45 1640.43L30.63 1643.56L28.02 1644.61L28.02 1640.17L26.97 1639.39L29.32 1637.3L31.93 1635.73L34.54 1629.46L36.89 1624.24L37.68 1617.98L38.98 1616.15L44.2 1615.1L44.46 1613.02L43.94 1612.49L42.9 1610.4L42.11 1609.36L42.9 1608.84L42.9 1606.23L44.2 1604.5Z" fill="#333" fill-rule="evenodd"/>
<path d="M25.85 1788.8L35.25 1785.57L44.07 1784.1L52.88 1782.93L58.75 1783.81L63.45 1782.34L66.98 1782.34L71.39 1784.39L71.39 1786.45L70.21 1787.04L72.86 1789.98L74.91 1792.33L73.44 1795.26L70.51 1795.56L68.16 1795.26L66.39 1796.73L64.34 1796.44L63.16 1799.38L61.99 1802.9L62.57 1806.43L63.75 1809.37L65.8 1811.72L66.69 1815.83L65.22 1819.35L63.16 1821.7L61.69 1821.12L62.57 1818.18L63.45 1815.24L62.28 1812.3L58.75 1809.37L55.23 1806.43L52.88 1809.37L52 1813.48L52.29 1817L53.47 1820.53L54.64 1822L57.87 1822.59L57.87 1823.76L52.29 1823.76L49.94 1820.53L47.59 1814.65L45.83 1807.6L47 1802.02L43.48 1801.14L37.6 1801.14L37.02 1802.9L38.19 1806.43L38.9 1811.13L37.6 1815.83L36.13 1820.53L36.72 1822.29L40.54 1823.17L40.83 1824.64L37.6 1824.64L34.08 1823.17L32.02 1821.12L32.31 1816.42L33.78 1812.3L32.02 1808.78L30.55 1805.84L27.61 1808.78L23.5 1813.77L18.8 1815.24L14.1 1816.42L11.16 1818.18L10.87 1820.53L12.63 1822.29L14.98 1822.29L14.69 1823.17L11.75 1823.47L9.4 1821.7L8.23 1817L9.99 1815.24L13.51 1813.77L16.45 1811.13L20.86 1809.66L21.45 1802.9L22.33 1795.85L24.68 1791.15Z" fill="#333" fill-rule="evenodd"/>
<path d="M25.85 1789.1L23.5 1787.63L19.98 1787.04L17.33 1788.51L15.86 1792.33L15.39 1798.2L15.57 1803.49L14.39 1807.02" fill="none" stroke="#333" stroke-width="1.1" stroke-linecap="round" stroke-linejoin="round"/>
<text x="257.6" y="1842.1" font-size="21.8" text-anchor="middle" fill="#111" textLength="15.2" lengthAdjust="spacingAndGlyphs" >0</text>
<text x="541" y="1842.1" font-size="21.8" text-anchor="middle" fill="#111" textLength="46" lengthAdjust="spacingAndGlyphs" >500</text>
<text x="822.6" y="1842.1" font-size="21.8" text-anchor="middle" fill="#111" textLength="64.5" lengthAdjust="spacingAndGlyphs" >1,000</text>
<text x="1106.5" y="1842.1" font-size="21.8" text-anchor="middle" fill="#111" textLength="60" lengthAdjust="spacingAndGlyphs" >1,500</text>
<text x="1389" y="1842.1" font-size="21.8" text-anchor="middle" fill="#111" textLength="68" lengthAdjust="spacingAndGlyphs" >2,000</text>
<text x="756.4" y="1879.6" font-size="25.5" text-anchor="start" fill="#111" textLength="212.49" lengthAdjust="spacingAndGlyphs" >Residue position</text>
<circle cx="1126.6" cy="1883.6" r="8.9" fill="#fff" stroke="#000" stroke-width="1.6"/>
<circle cx="1324" cy="1883.6" r="9.2" fill="#000"/>
<text x="1147.68" y="1892" font-size="25.5" text-anchor="start" fill="#111" textLength="106.54" lengthAdjust="spacingAndGlyphs" >Deletion</text>
<text x="1341.12" y="1892" font-size="25.5" text-anchor="start" fill="#111" textLength="111.89" lengthAdjust="spacingAndGlyphs" >Insertion</text>
<text x="1115.31" y="1929.5" font-size="25.5" text-anchor="start" fill="#111" textLength="347.34" lengthAdjust="spacingAndGlyphs" >Relative to EV-A71 4643 TW</text>
</svg>
</body></html>
